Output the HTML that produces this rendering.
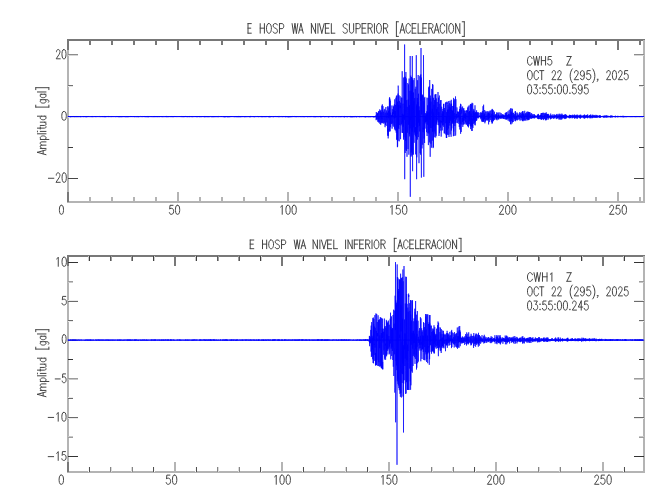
<!DOCTYPE html>
<html><head><meta charset="utf-8"><style>
html,body{margin:0;padding:0;background:#fff;width:650px;height:500px;overflow:hidden}
svg{display:block}
text{font-family:"Liberation Sans",sans-serif}
</style></head><body>
<svg width="650" height="500" viewBox="0 0 650 500">
<rect x="0" y="0" width="650" height="500" fill="#ffffff"/>
<rect x="67.00" y="39" width="578.00" height="1" fill="#787878"/>
<rect x="67.00" y="40" width="578.00" height="1" fill="#787878"/>
<rect x="67.00" y="201" width="578.00" height="1" fill="#b4b4b4"/>
<rect x="67.00" y="202" width="578.00" height="1" fill="#b4b4b4"/>
<rect x="67" y="40.00" width="1" height="162.00" fill="#b4b4b4"/>
<rect x="68" y="40.00" width="1" height="162.00" fill="#b4b4b4"/>
<rect x="643" y="40.00" width="1" height="162.00" fill="#b4b4b4"/>
<rect x="644" y="40.00" width="1" height="162.00" fill="#b4b4b4"/>
<rect x="67" y="40.00" width="1" height="10.00" fill="#787878"/>
<rect x="68" y="40.00" width="1" height="10.00" fill="#787878"/>
<rect x="67" y="192.00" width="1" height="10.00" fill="#787878"/>
<rect x="68" y="192.00" width="1" height="10.00" fill="#787878"/>
<rect x="89" y="40.00" width="1" height="5.00" fill="#787878"/>
<rect x="90" y="40.00" width="1" height="5.00" fill="#787878"/>
<rect x="89" y="197.00" width="1" height="5.00" fill="#b4b4b4"/>
<rect x="90" y="197.00" width="1" height="5.00" fill="#b4b4b4"/>
<rect x="111" y="40.00" width="1" height="5.00" fill="#787878"/>
<rect x="112" y="40.00" width="1" height="5.00" fill="#787878"/>
<rect x="111" y="197.00" width="1" height="5.00" fill="#b4b4b4"/>
<rect x="112" y="197.00" width="1" height="5.00" fill="#b4b4b4"/>
<rect x="133" y="40.00" width="1" height="5.00" fill="#787878"/>
<rect x="134" y="40.00" width="1" height="5.00" fill="#787878"/>
<rect x="133" y="197.00" width="1" height="5.00" fill="#b4b4b4"/>
<rect x="134" y="197.00" width="1" height="5.00" fill="#b4b4b4"/>
<rect x="155" y="40.00" width="1" height="5.00" fill="#787878"/>
<rect x="156" y="40.00" width="1" height="5.00" fill="#787878"/>
<rect x="155" y="197.00" width="1" height="5.00" fill="#b4b4b4"/>
<rect x="156" y="197.00" width="1" height="5.00" fill="#b4b4b4"/>
<rect x="177" y="40.00" width="1" height="10.00" fill="#787878"/>
<rect x="178" y="40.00" width="1" height="10.00" fill="#787878"/>
<rect x="177" y="192.00" width="1" height="10.00" fill="#b4b4b4"/>
<rect x="178" y="192.00" width="1" height="10.00" fill="#b4b4b4"/>
<rect x="199" y="40.00" width="1" height="5.00" fill="#787878"/>
<rect x="200" y="40.00" width="1" height="5.00" fill="#787878"/>
<rect x="199" y="197.00" width="1" height="5.00" fill="#b4b4b4"/>
<rect x="200" y="197.00" width="1" height="5.00" fill="#b4b4b4"/>
<rect x="221" y="40.00" width="1" height="5.00" fill="#787878"/>
<rect x="222" y="40.00" width="1" height="5.00" fill="#787878"/>
<rect x="221" y="197.00" width="1" height="5.00" fill="#b4b4b4"/>
<rect x="222" y="197.00" width="1" height="5.00" fill="#b4b4b4"/>
<rect x="243" y="40.00" width="1" height="5.00" fill="#787878"/>
<rect x="244" y="40.00" width="1" height="5.00" fill="#787878"/>
<rect x="243" y="197.00" width="1" height="5.00" fill="#b4b4b4"/>
<rect x="244" y="197.00" width="1" height="5.00" fill="#b4b4b4"/>
<rect x="265" y="40.00" width="1" height="5.00" fill="#787878"/>
<rect x="266" y="40.00" width="1" height="5.00" fill="#787878"/>
<rect x="265" y="197.00" width="1" height="5.00" fill="#b4b4b4"/>
<rect x="266" y="197.00" width="1" height="5.00" fill="#b4b4b4"/>
<rect x="287" y="40.00" width="1" height="10.00" fill="#787878"/>
<rect x="288" y="40.00" width="1" height="10.00" fill="#787878"/>
<rect x="287" y="192.00" width="1" height="10.00" fill="#b4b4b4"/>
<rect x="288" y="192.00" width="1" height="10.00" fill="#b4b4b4"/>
<rect x="309" y="40.00" width="1" height="5.00" fill="#787878"/>
<rect x="310" y="40.00" width="1" height="5.00" fill="#787878"/>
<rect x="309" y="197.00" width="1" height="5.00" fill="#b4b4b4"/>
<rect x="310" y="197.00" width="1" height="5.00" fill="#b4b4b4"/>
<rect x="331" y="40.00" width="1" height="5.00" fill="#787878"/>
<rect x="332" y="40.00" width="1" height="5.00" fill="#787878"/>
<rect x="331" y="197.00" width="1" height="5.00" fill="#b4b4b4"/>
<rect x="332" y="197.00" width="1" height="5.00" fill="#b4b4b4"/>
<rect x="353" y="40.00" width="1" height="5.00" fill="#787878"/>
<rect x="354" y="40.00" width="1" height="5.00" fill="#787878"/>
<rect x="353" y="197.00" width="1" height="5.00" fill="#b4b4b4"/>
<rect x="354" y="197.00" width="1" height="5.00" fill="#b4b4b4"/>
<rect x="375" y="40.00" width="1" height="5.00" fill="#787878"/>
<rect x="376" y="40.00" width="1" height="5.00" fill="#787878"/>
<rect x="375" y="197.00" width="1" height="5.00" fill="#b4b4b4"/>
<rect x="376" y="197.00" width="1" height="5.00" fill="#b4b4b4"/>
<rect x="397" y="40.00" width="1" height="10.00" fill="#787878"/>
<rect x="398" y="40.00" width="1" height="10.00" fill="#787878"/>
<rect x="397" y="192.00" width="1" height="10.00" fill="#b4b4b4"/>
<rect x="398" y="192.00" width="1" height="10.00" fill="#b4b4b4"/>
<rect x="419" y="40.00" width="1" height="5.00" fill="#787878"/>
<rect x="420" y="40.00" width="1" height="5.00" fill="#787878"/>
<rect x="419" y="197.00" width="1" height="5.00" fill="#b4b4b4"/>
<rect x="420" y="197.00" width="1" height="5.00" fill="#b4b4b4"/>
<rect x="441" y="40.00" width="1" height="5.00" fill="#787878"/>
<rect x="442" y="40.00" width="1" height="5.00" fill="#787878"/>
<rect x="441" y="197.00" width="1" height="5.00" fill="#b4b4b4"/>
<rect x="442" y="197.00" width="1" height="5.00" fill="#b4b4b4"/>
<rect x="463" y="40.00" width="1" height="5.00" fill="#787878"/>
<rect x="464" y="40.00" width="1" height="5.00" fill="#787878"/>
<rect x="463" y="197.00" width="1" height="5.00" fill="#b4b4b4"/>
<rect x="464" y="197.00" width="1" height="5.00" fill="#b4b4b4"/>
<rect x="485" y="40.00" width="1" height="5.00" fill="#787878"/>
<rect x="486" y="40.00" width="1" height="5.00" fill="#787878"/>
<rect x="485" y="197.00" width="1" height="5.00" fill="#b4b4b4"/>
<rect x="486" y="197.00" width="1" height="5.00" fill="#b4b4b4"/>
<rect x="507" y="40.00" width="1" height="10.00" fill="#787878"/>
<rect x="508" y="40.00" width="1" height="10.00" fill="#787878"/>
<rect x="507" y="192.00" width="1" height="10.00" fill="#b4b4b4"/>
<rect x="508" y="192.00" width="1" height="10.00" fill="#b4b4b4"/>
<rect x="529" y="40.00" width="1" height="5.00" fill="#787878"/>
<rect x="530" y="40.00" width="1" height="5.00" fill="#787878"/>
<rect x="529" y="197.00" width="1" height="5.00" fill="#b4b4b4"/>
<rect x="530" y="197.00" width="1" height="5.00" fill="#b4b4b4"/>
<rect x="551" y="40.00" width="1" height="5.00" fill="#787878"/>
<rect x="552" y="40.00" width="1" height="5.00" fill="#787878"/>
<rect x="551" y="197.00" width="1" height="5.00" fill="#b4b4b4"/>
<rect x="552" y="197.00" width="1" height="5.00" fill="#b4b4b4"/>
<rect x="573" y="40.00" width="1" height="5.00" fill="#787878"/>
<rect x="574" y="40.00" width="1" height="5.00" fill="#787878"/>
<rect x="573" y="197.00" width="1" height="5.00" fill="#b4b4b4"/>
<rect x="574" y="197.00" width="1" height="5.00" fill="#b4b4b4"/>
<rect x="595" y="40.00" width="1" height="5.00" fill="#787878"/>
<rect x="596" y="40.00" width="1" height="5.00" fill="#787878"/>
<rect x="595" y="197.00" width="1" height="5.00" fill="#b4b4b4"/>
<rect x="596" y="197.00" width="1" height="5.00" fill="#b4b4b4"/>
<rect x="617" y="40.00" width="1" height="10.00" fill="#787878"/>
<rect x="618" y="40.00" width="1" height="10.00" fill="#787878"/>
<rect x="617" y="192.00" width="1" height="10.00" fill="#b4b4b4"/>
<rect x="618" y="192.00" width="1" height="10.00" fill="#b4b4b4"/>
<rect x="639" y="40.00" width="1" height="5.00" fill="#787878"/>
<rect x="640" y="40.00" width="1" height="5.00" fill="#787878"/>
<rect x="639" y="197.00" width="1" height="5.00" fill="#b4b4b4"/>
<rect x="640" y="197.00" width="1" height="5.00" fill="#b4b4b4"/>
<rect x="68.00" y="54" width="10.00" height="1" fill="#8c8c8c"/>
<rect x="68.00" y="55" width="10.00" height="1" fill="#d6d6d6"/>
<rect x="634.00" y="54" width="10.00" height="1" fill="#8c8c8c"/>
<rect x="634.00" y="55" width="10.00" height="1" fill="#d6d6d6"/>
<rect x="68.00" y="116" width="10.00" height="1" fill="#585858"/>
<rect x="68.00" y="117" width="10.00" height="1" fill="#f4f4f4"/>
<rect x="634.00" y="116" width="10.00" height="1" fill="#585858"/>
<rect x="634.00" y="117" width="10.00" height="1" fill="#f4f4f4"/>
<rect x="68.00" y="178" width="10.00" height="1" fill="#474747"/>
<rect x="634.00" y="178" width="10.00" height="1" fill="#474747"/>
<rect x="68.00" y="85" width="5.00" height="1" fill="#737373"/>
<rect x="68.00" y="86" width="5.00" height="1" fill="#e6e6e6"/>
<rect x="639.00" y="85" width="5.00" height="1" fill="#737373"/>
<rect x="639.00" y="86" width="5.00" height="1" fill="#e6e6e6"/>
<rect x="68.00" y="147" width="5.00" height="1" fill="#3c3c3c"/>
<rect x="639.00" y="147" width="5.00" height="1" fill="#3c3c3c"/>
<rect x="67.00" y="255" width="578.00" height="1" fill="#787878"/>
<rect x="67.00" y="256" width="578.00" height="1" fill="#787878"/>
<rect x="67.00" y="471" width="578.00" height="1" fill="#b4b4b4"/>
<rect x="67.00" y="472" width="578.00" height="1" fill="#b4b4b4"/>
<rect x="67" y="256.00" width="1" height="216.00" fill="#b4b4b4"/>
<rect x="68" y="256.00" width="1" height="216.00" fill="#b4b4b4"/>
<rect x="643" y="256.00" width="1" height="216.00" fill="#b4b4b4"/>
<rect x="644" y="256.00" width="1" height="216.00" fill="#b4b4b4"/>
<rect x="67" y="256.00" width="1" height="10.00" fill="#787878"/>
<rect x="68" y="256.00" width="1" height="10.00" fill="#787878"/>
<rect x="67" y="462.00" width="1" height="10.00" fill="#787878"/>
<rect x="68" y="462.00" width="1" height="10.00" fill="#787878"/>
<rect x="88" y="256.00" width="1" height="5.00" fill="#cccccc"/>
<rect x="89" y="256.00" width="1" height="5.00" fill="#3f3f3f"/>
<rect x="88" y="467.00" width="1" height="5.00" fill="#f8f8f8"/>
<rect x="89" y="467.00" width="1" height="5.00" fill="#505050"/>
<rect x="110" y="256.00" width="1" height="5.00" fill="#5a5a5a"/>
<rect x="111" y="256.00" width="1" height="5.00" fill="#9c9c9c"/>
<rect x="110" y="467.00" width="1" height="5.00" fill="#858585"/>
<rect x="111" y="467.00" width="1" height="5.00" fill="#dbdbdb"/>
<rect x="131" y="256.00" width="1" height="5.00" fill="#9c9c9c"/>
<rect x="132" y="256.00" width="1" height="5.00" fill="#5a5a5a"/>
<rect x="131" y="467.00" width="1" height="5.00" fill="#dbdbdb"/>
<rect x="132" y="467.00" width="1" height="5.00" fill="#858585"/>
<rect x="153" y="256.00" width="1" height="5.00" fill="#3f3f3f"/>
<rect x="154" y="256.00" width="1" height="5.00" fill="#cccccc"/>
<rect x="153" y="467.00" width="1" height="5.00" fill="#505050"/>
<rect x="154" y="467.00" width="1" height="5.00" fill="#f8f8f8"/>
<rect x="174" y="256.00" width="1" height="10.00" fill="#787878"/>
<rect x="175" y="256.00" width="1" height="10.00" fill="#787878"/>
<rect x="174" y="462.00" width="1" height="10.00" fill="#b4b4b4"/>
<rect x="175" y="462.00" width="1" height="10.00" fill="#b4b4b4"/>
<rect x="195" y="256.00" width="1" height="5.00" fill="#cccccc"/>
<rect x="196" y="256.00" width="1" height="5.00" fill="#3f3f3f"/>
<rect x="195" y="467.00" width="1" height="5.00" fill="#f8f8f8"/>
<rect x="196" y="467.00" width="1" height="5.00" fill="#505050"/>
<rect x="217" y="256.00" width="1" height="5.00" fill="#5a5a5a"/>
<rect x="218" y="256.00" width="1" height="5.00" fill="#9c9c9c"/>
<rect x="217" y="467.00" width="1" height="5.00" fill="#858585"/>
<rect x="218" y="467.00" width="1" height="5.00" fill="#dbdbdb"/>
<rect x="238" y="256.00" width="1" height="5.00" fill="#9c9c9c"/>
<rect x="239" y="256.00" width="1" height="5.00" fill="#5a5a5a"/>
<rect x="238" y="467.00" width="1" height="5.00" fill="#dbdbdb"/>
<rect x="239" y="467.00" width="1" height="5.00" fill="#858585"/>
<rect x="260" y="256.00" width="1" height="5.00" fill="#3f3f3f"/>
<rect x="261" y="256.00" width="1" height="5.00" fill="#cccccc"/>
<rect x="260" y="467.00" width="1" height="5.00" fill="#505050"/>
<rect x="261" y="467.00" width="1" height="5.00" fill="#f8f8f8"/>
<rect x="281" y="256.00" width="1" height="10.00" fill="#787878"/>
<rect x="282" y="256.00" width="1" height="10.00" fill="#787878"/>
<rect x="281" y="462.00" width="1" height="10.00" fill="#b4b4b4"/>
<rect x="282" y="462.00" width="1" height="10.00" fill="#b4b4b4"/>
<rect x="302" y="256.00" width="1" height="5.00" fill="#cccccc"/>
<rect x="303" y="256.00" width="1" height="5.00" fill="#3f3f3f"/>
<rect x="302" y="467.00" width="1" height="5.00" fill="#f8f8f8"/>
<rect x="303" y="467.00" width="1" height="5.00" fill="#505050"/>
<rect x="324" y="256.00" width="1" height="5.00" fill="#5a5a5a"/>
<rect x="325" y="256.00" width="1" height="5.00" fill="#9c9c9c"/>
<rect x="324" y="467.00" width="1" height="5.00" fill="#858585"/>
<rect x="325" y="467.00" width="1" height="5.00" fill="#dbdbdb"/>
<rect x="345" y="256.00" width="1" height="5.00" fill="#9c9c9c"/>
<rect x="346" y="256.00" width="1" height="5.00" fill="#5a5a5a"/>
<rect x="345" y="467.00" width="1" height="5.00" fill="#dbdbdb"/>
<rect x="346" y="467.00" width="1" height="5.00" fill="#858585"/>
<rect x="367" y="256.00" width="1" height="5.00" fill="#3f3f3f"/>
<rect x="368" y="256.00" width="1" height="5.00" fill="#cccccc"/>
<rect x="367" y="467.00" width="1" height="5.00" fill="#505050"/>
<rect x="368" y="467.00" width="1" height="5.00" fill="#f8f8f8"/>
<rect x="388" y="256.00" width="1" height="10.00" fill="#787878"/>
<rect x="389" y="256.00" width="1" height="10.00" fill="#787878"/>
<rect x="388" y="462.00" width="1" height="10.00" fill="#b4b4b4"/>
<rect x="389" y="462.00" width="1" height="10.00" fill="#b4b4b4"/>
<rect x="409" y="256.00" width="1" height="5.00" fill="#cccccc"/>
<rect x="410" y="256.00" width="1" height="5.00" fill="#3f3f3f"/>
<rect x="409" y="467.00" width="1" height="5.00" fill="#f8f8f8"/>
<rect x="410" y="467.00" width="1" height="5.00" fill="#505050"/>
<rect x="431" y="256.00" width="1" height="5.00" fill="#5a5a5a"/>
<rect x="432" y="256.00" width="1" height="5.00" fill="#9c9c9c"/>
<rect x="431" y="467.00" width="1" height="5.00" fill="#858585"/>
<rect x="432" y="467.00" width="1" height="5.00" fill="#dbdbdb"/>
<rect x="452" y="256.00" width="1" height="5.00" fill="#9c9c9c"/>
<rect x="453" y="256.00" width="1" height="5.00" fill="#5a5a5a"/>
<rect x="452" y="467.00" width="1" height="5.00" fill="#dbdbdb"/>
<rect x="453" y="467.00" width="1" height="5.00" fill="#858585"/>
<rect x="474" y="256.00" width="1" height="5.00" fill="#3f3f3f"/>
<rect x="475" y="256.00" width="1" height="5.00" fill="#cccccc"/>
<rect x="474" y="467.00" width="1" height="5.00" fill="#505050"/>
<rect x="475" y="467.00" width="1" height="5.00" fill="#f8f8f8"/>
<rect x="495" y="256.00" width="1" height="10.00" fill="#787878"/>
<rect x="496" y="256.00" width="1" height="10.00" fill="#787878"/>
<rect x="495" y="462.00" width="1" height="10.00" fill="#b4b4b4"/>
<rect x="496" y="462.00" width="1" height="10.00" fill="#b4b4b4"/>
<rect x="516" y="256.00" width="1" height="5.00" fill="#cccccc"/>
<rect x="517" y="256.00" width="1" height="5.00" fill="#3f3f3f"/>
<rect x="516" y="467.00" width="1" height="5.00" fill="#f8f8f8"/>
<rect x="517" y="467.00" width="1" height="5.00" fill="#505050"/>
<rect x="538" y="256.00" width="1" height="5.00" fill="#5a5a5a"/>
<rect x="539" y="256.00" width="1" height="5.00" fill="#9c9c9c"/>
<rect x="538" y="467.00" width="1" height="5.00" fill="#858585"/>
<rect x="539" y="467.00" width="1" height="5.00" fill="#dbdbdb"/>
<rect x="559" y="256.00" width="1" height="5.00" fill="#9c9c9c"/>
<rect x="560" y="256.00" width="1" height="5.00" fill="#5a5a5a"/>
<rect x="559" y="467.00" width="1" height="5.00" fill="#dbdbdb"/>
<rect x="560" y="467.00" width="1" height="5.00" fill="#858585"/>
<rect x="581" y="256.00" width="1" height="5.00" fill="#3f3f3f"/>
<rect x="582" y="256.00" width="1" height="5.00" fill="#cccccc"/>
<rect x="581" y="467.00" width="1" height="5.00" fill="#505050"/>
<rect x="582" y="467.00" width="1" height="5.00" fill="#f8f8f8"/>
<rect x="602" y="256.00" width="1" height="10.00" fill="#787878"/>
<rect x="603" y="256.00" width="1" height="10.00" fill="#787878"/>
<rect x="602" y="462.00" width="1" height="10.00" fill="#b4b4b4"/>
<rect x="603" y="462.00" width="1" height="10.00" fill="#b4b4b4"/>
<rect x="623" y="256.00" width="1" height="5.00" fill="#cccccc"/>
<rect x="624" y="256.00" width="1" height="5.00" fill="#3f3f3f"/>
<rect x="623" y="467.00" width="1" height="5.00" fill="#f8f8f8"/>
<rect x="624" y="467.00" width="1" height="5.00" fill="#505050"/>
<rect x="68.00" y="262" width="10.00" height="1" fill="#333333"/>
<rect x="634.00" y="262" width="10.00" height="1" fill="#333333"/>
<rect x="68.00" y="300" width="10.00" height="1" fill="#ebebeb"/>
<rect x="68.00" y="301" width="10.00" height="1" fill="#6b6b6b"/>
<rect x="634.00" y="300" width="10.00" height="1" fill="#ebebeb"/>
<rect x="634.00" y="301" width="10.00" height="1" fill="#6b6b6b"/>
<rect x="68.00" y="339" width="10.00" height="1" fill="#c8c8c8"/>
<rect x="68.00" y="340" width="10.00" height="1" fill="#9d9d9d"/>
<rect x="634.00" y="339" width="10.00" height="1" fill="#c8c8c8"/>
<rect x="634.00" y="340" width="10.00" height="1" fill="#9d9d9d"/>
<rect x="68.00" y="378" width="10.00" height="1" fill="#9d9d9d"/>
<rect x="68.00" y="379" width="10.00" height="1" fill="#c8c8c8"/>
<rect x="634.00" y="378" width="10.00" height="1" fill="#9d9d9d"/>
<rect x="634.00" y="379" width="10.00" height="1" fill="#c8c8c8"/>
<rect x="68.00" y="417" width="10.00" height="1" fill="#6b6b6b"/>
<rect x="68.00" y="418" width="10.00" height="1" fill="#ebebeb"/>
<rect x="634.00" y="417" width="10.00" height="1" fill="#6b6b6b"/>
<rect x="634.00" y="418" width="10.00" height="1" fill="#ebebeb"/>
<rect x="68.00" y="456" width="10.00" height="1" fill="#333333"/>
<rect x="634.00" y="456" width="10.00" height="1" fill="#333333"/>
<rect x="68.00" y="281" width="5.00" height="1" fill="#9d9d9d"/>
<rect x="68.00" y="282" width="5.00" height="1" fill="#c8c8c8"/>
<rect x="639.00" y="281" width="5.00" height="1" fill="#9d9d9d"/>
<rect x="639.00" y="282" width="5.00" height="1" fill="#c8c8c8"/>
<rect x="68.00" y="320" width="5.00" height="1" fill="#6b6b6b"/>
<rect x="68.00" y="321" width="5.00" height="1" fill="#ebebeb"/>
<rect x="639.00" y="320" width="5.00" height="1" fill="#6b6b6b"/>
<rect x="639.00" y="321" width="5.00" height="1" fill="#ebebeb"/>
<rect x="68.00" y="359" width="5.00" height="1" fill="#333333"/>
<rect x="639.00" y="359" width="5.00" height="1" fill="#333333"/>
<rect x="68.00" y="397" width="5.00" height="1" fill="#ebebeb"/>
<rect x="68.00" y="398" width="5.00" height="1" fill="#6b6b6b"/>
<rect x="639.00" y="397" width="5.00" height="1" fill="#ebebeb"/>
<rect x="639.00" y="398" width="5.00" height="1" fill="#6b6b6b"/>
<rect x="68.00" y="436" width="5.00" height="1" fill="#c8c8c8"/>
<rect x="68.00" y="437" width="5.00" height="1" fill="#9d9d9d"/>
<rect x="639.00" y="436" width="5.00" height="1" fill="#c8c8c8"/>
<rect x="639.00" y="437" width="5.00" height="1" fill="#9d9d9d"/>
<line x1="68" y1="116.63" x2="643.5" y2="116.63" stroke="#0000ff" stroke-width="0.9"/><polyline points="68.0,116.3 68.1,116.4 68.2,116.7 68.3,117.0 68.4,116.5 68.5,116.5 68.6,116.8 68.7,116.6 68.8,116.5 68.9,116.6 69.0,116.6 69.1,116.5 69.2,116.7 69.3,116.8 69.4,116.7 69.5,116.4 69.6,116.5 69.7,116.7 69.8,116.8 69.9,116.7 70.0,116.7 70.1,116.7 70.2,116.2 70.3,116.3 70.4,117.1 70.5,117.1 70.6,116.5 70.7,116.5 70.8,116.7 70.9,116.4 71.0,116.3 71.1,117.1 71.2,117.0 71.3,116.2 71.4,116.3 71.5,116.5 71.6,116.9 71.7,117.0 71.8,116.5 71.9,116.4 72.0,116.9 72.1,116.7 72.2,116.6 72.3,116.7 72.4,116.6 72.5,116.5 72.6,116.7 72.7,116.8 72.8,116.5 72.9,116.3 73.0,116.7 73.1,116.9 73.2,116.6 73.3,116.5 73.4,116.6 73.5,116.7 73.6,116.4 73.7,116.5 73.8,117.0 73.9,116.8 74.0,116.4 74.1,116.4 74.2,116.9 74.3,116.9 74.4,116.6 74.5,116.6 74.6,116.4 74.7,116.6 74.8,117.1 74.9,116.6 75.0,116.2 75.1,116.7 75.2,117.0 75.3,116.6 75.4,116.4 75.5,116.4 75.6,116.7 75.7,117.0 75.8,116.8 75.9,116.5 76.0,116.3 76.1,116.5 76.2,117.1 76.3,117.0 76.4,116.3 76.5,116.3 76.6,116.9 76.7,116.8 76.8,116.6 76.9,116.5 77.0,116.5 77.1,116.6 77.2,116.8 77.3,116.5 77.4,116.5 77.5,117.0 77.6,116.7 77.7,116.5 77.8,116.8 77.9,116.7 78.0,116.6 78.1,116.6 78.2,116.7 78.3,116.6 78.4,116.2 78.5,116.5 78.6,117.1 78.7,117.0 78.8,116.2 78.9,116.5 79.0,116.9 79.1,116.8 79.2,116.6 79.3,116.4 79.4,116.5 79.5,116.7 79.6,116.7 79.7,116.7 79.8,116.9 79.9,116.3 80.0,116.2 80.1,117.1 80.2,117.1 80.3,116.3 80.4,116.2 80.5,116.9 80.6,117.1 80.7,116.5 80.8,116.6 80.9,116.8 81.0,116.6 81.1,116.5 81.2,116.6 81.3,116.6 81.4,116.6 81.5,116.8 81.6,116.7 81.7,116.6 81.8,116.6 81.9,116.9 82.0,116.8 82.1,116.3 82.2,116.5 82.3,116.7 82.4,116.6 82.5,116.7 82.6,116.7 82.7,116.4 82.8,116.6 82.9,116.8 83.0,116.4 83.1,116.5 83.2,117.0 83.3,117.0 83.4,116.5 83.5,116.2 83.6,116.6 83.7,116.9 83.8,117.1 83.9,116.6 84.0,116.2 84.1,116.6 84.2,116.9 84.3,116.7 84.4,116.6 84.5,116.4 84.6,116.2 84.7,116.6 84.8,117.0 84.9,116.8 85.0,116.6 85.1,116.6 85.2,116.5 85.3,116.7 85.4,116.9 85.5,116.4 85.6,116.7 85.7,117.1 85.8,116.5 85.9,116.2 86.0,116.5 86.1,117.1 86.2,116.9 86.3,116.2 86.4,116.3 86.5,117.1 86.6,116.8 86.7,116.6 86.8,116.8 86.9,116.8 87.0,116.6 87.1,116.2 87.2,116.4 87.3,117.1 87.4,117.0 87.5,116.7 87.6,116.4 87.7,116.3 87.8,116.9 87.9,117.0 88.0,116.2 88.1,116.2 88.2,116.9 88.3,116.8 88.4,116.6 88.5,116.9 88.6,116.7 88.7,116.3 88.8,116.7 88.9,116.8 89.0,116.5 89.1,116.6 89.2,116.7 89.3,116.6 89.4,116.6 89.5,116.8 89.6,116.7 89.7,116.6 89.8,116.6 89.9,116.7 90.0,116.6 90.1,116.5 90.2,116.6 90.3,116.7 90.4,116.7 90.5,116.8 90.6,116.7 90.7,116.5 90.8,116.8 90.9,116.9 91.0,116.4 91.1,116.3 91.2,116.8 91.3,117.1 91.4,116.5 91.5,116.5 91.6,116.8 91.7,116.5 91.8,116.7 91.9,116.9 92.0,116.6 92.1,116.4 92.2,116.8 92.3,116.8 92.4,116.2 92.5,116.6 92.6,117.1 92.7,116.6 92.8,116.5 92.9,116.6 93.0,116.7 93.1,116.6 93.2,116.6 93.3,116.7 93.4,116.5 93.5,116.7 93.6,116.9 93.7,116.6 93.8,116.4 93.9,116.7 94.0,116.7 94.1,116.5 94.2,116.9 94.3,116.8 94.4,116.5 94.5,116.8 94.6,116.7 94.7,116.4 94.8,116.4 94.9,116.8 95.0,116.7 95.1,116.9 95.2,116.8 95.3,116.2 95.4,116.6 95.5,117.0 95.6,116.3 95.7,116.6 95.8,117.1 95.9,116.5 96.0,116.3 96.1,116.7 96.2,116.7 96.3,116.6 96.4,116.8 96.5,116.5 96.6,116.4 96.7,116.8 96.8,116.9 96.9,116.8 97.0,116.7 97.1,116.5 97.2,116.5 97.3,116.5 97.4,116.5 97.5,116.8 97.6,117.0 97.7,116.4 97.8,116.2 97.9,116.7 98.0,116.9 98.1,116.6 98.2,116.7 98.3,116.8 98.4,116.7 98.5,116.6 98.6,116.4 98.7,116.6 98.8,116.7 98.9,116.6 99.0,116.6 99.1,116.4 99.2,116.7 99.3,116.9 99.4,116.6 99.5,116.5 99.6,116.7 99.7,116.9 99.8,116.8 99.9,116.3 100.0,116.4 100.1,116.9 100.2,116.9 100.3,116.5 100.4,116.5 100.5,116.8 100.6,116.8 100.7,116.7 100.8,116.7 100.9,116.4 101.0,116.3 101.1,116.5 101.2,116.8 101.3,116.9 101.4,116.7 101.5,116.6 101.6,116.3 101.7,116.4 101.8,117.0 101.9,116.9 102.0,116.5 102.1,116.5 102.2,116.9 102.3,116.9 102.4,116.5 102.5,116.3 102.6,116.6 102.7,117.0 102.8,116.7 102.9,116.2 103.0,116.7 103.1,117.1 103.2,116.6 103.3,116.3 103.4,116.5 103.5,116.6 103.6,116.6 103.7,116.8 103.8,116.7 103.9,116.7 104.0,116.4 104.1,116.4 104.2,116.8 104.3,116.9 104.4,116.6 104.5,116.2 104.6,116.5 104.7,117.1 104.8,116.8 104.9,116.2 105.0,116.2 105.1,117.1 105.2,116.8 105.3,116.2 105.4,116.9 105.5,117.1 105.6,116.4 105.7,116.3 105.8,116.8 105.9,116.8 106.0,116.5 106.1,116.4 106.2,116.5 106.3,116.6 106.4,116.9 106.5,116.9 106.6,116.6 106.7,116.3 106.8,116.6 106.9,116.9 107.0,116.6 107.1,116.4 107.2,116.6 107.3,116.6 107.4,116.8 107.5,117.0 107.6,116.6 107.7,116.5 107.8,116.6 107.9,116.5 108.0,116.9 108.1,117.0 108.2,116.4 108.3,116.3 108.4,116.9 108.5,116.8 108.6,116.4 108.7,116.3 108.8,116.3 108.9,117.0 109.0,117.1 109.1,116.4 109.2,116.5 109.3,116.9 109.4,116.8 109.5,116.3 109.6,116.4 109.7,116.8 109.8,116.6 109.9,116.5 110.0,116.7 110.1,116.7 110.2,116.7 110.3,116.5 110.4,116.6 110.5,116.7 110.6,116.5 110.7,116.8 110.8,116.8 110.9,116.4 111.0,116.5 111.1,116.7 111.2,116.4 111.3,116.5 111.4,116.9 111.5,116.8 111.6,116.4 111.7,116.4 111.8,116.9 111.9,116.9 112.0,116.8 112.1,116.8 112.2,116.4 112.3,116.2 112.4,116.4 112.5,116.7 112.6,117.0 112.7,116.9 112.8,116.4 112.9,116.2 113.0,116.5 113.1,116.8 113.2,116.7 113.3,116.7 113.4,116.9 113.5,116.8 113.6,116.5 113.7,116.4 113.8,116.7 113.9,116.5 114.0,116.5 114.1,116.7 114.2,116.4 114.3,116.5 114.4,116.8 114.5,116.7 114.6,116.6 114.7,116.7 114.8,116.7 114.9,116.5 115.0,116.5 115.1,116.7 115.2,116.8 115.3,116.9 115.4,116.6 115.5,116.4 115.6,116.6 115.7,116.6 115.8,116.5 115.9,116.9 116.0,116.8 116.1,116.6 116.2,116.6 116.3,116.5 116.4,116.3 116.5,116.7 116.6,116.6 116.7,116.3 116.8,116.6 116.9,117.0 117.0,117.0 117.1,116.5 117.2,116.3 117.3,116.5 117.4,116.7 117.5,116.5 117.6,116.6 117.7,117.0 117.8,116.6 117.9,116.7 118.0,116.7 118.1,116.2 118.2,116.7 118.3,117.1 118.4,116.7 118.5,116.4 118.6,116.7 118.7,116.6 118.8,116.3 118.9,116.6 119.0,117.1 119.1,116.6 119.2,116.2 119.3,116.8 119.4,117.1 119.5,116.6 119.6,116.4 119.7,116.4 119.8,116.7 119.9,116.9 120.0,116.4 120.1,116.7 120.2,117.1 120.3,116.3 120.4,116.2 120.5,117.0 120.6,116.7 120.7,116.2 120.8,116.8 120.9,117.1 121.0,116.8 121.1,116.6 121.2,116.6 121.3,116.3 121.4,116.6 121.5,117.1 121.6,116.7 121.7,116.2 121.8,116.3 121.9,116.7 122.0,116.6 122.1,116.6 122.2,116.8 122.3,116.7 122.4,116.5 122.5,116.3 122.6,116.6 122.7,117.1 122.8,116.6 122.9,116.2 123.0,116.7 123.1,116.8 123.2,116.9 123.3,117.0 123.4,116.4 123.5,116.2 123.6,116.5 123.7,116.7 123.8,116.7 123.9,116.7 124.0,116.9 124.1,116.5 124.2,116.2 124.3,116.5 124.4,116.9 124.5,117.0 124.6,116.5 124.7,116.2 124.8,116.7 124.9,117.1 125.0,116.7 125.1,116.2 125.2,116.4 125.3,116.4 125.4,116.6 125.5,117.1 125.6,117.1 125.7,116.8 125.8,116.5 125.9,116.4 126.0,116.6 126.1,116.6 126.2,116.5 126.3,116.7 126.4,116.7 126.5,116.2 126.6,116.7 126.7,117.1 126.8,116.6 126.9,116.4 127.0,117.1 127.1,116.6 127.2,116.3 127.3,116.8 127.4,117.0 127.5,116.8 127.6,116.5 127.7,116.2 127.8,116.4 127.9,117.1 128.0,117.1 128.1,116.3 128.2,116.2 128.3,116.7 128.4,116.7 128.5,116.2 128.6,116.4 128.7,117.0 128.8,117.1 128.9,116.5 129.0,116.2 129.1,116.6 129.2,117.0 129.3,116.9 129.4,116.6 129.5,116.4 129.6,116.7 129.7,116.6 129.8,116.6 129.9,116.6 130.0,116.3 130.1,116.4 130.2,116.8 130.3,117.0 130.4,116.8 130.5,116.8 130.6,116.7 130.7,116.2 130.8,116.2 130.9,117.0 131.0,116.7 131.1,116.3 131.2,117.0 131.3,116.8 131.4,116.3 131.5,116.7 131.6,116.9 131.7,116.7 131.8,116.5 131.9,116.6 132.0,116.6 132.1,116.6 132.2,116.5 132.3,116.3 132.4,116.6 132.5,116.9 132.6,117.0 132.7,117.0 132.8,116.6 132.9,116.2 133.0,116.4 133.1,116.8 133.2,116.9 133.3,116.6 133.4,116.5 133.5,116.7 133.6,117.0 133.7,116.5 133.8,116.3 133.9,116.8 134.0,117.0 134.1,116.8 134.2,116.4 134.3,116.7 134.4,117.1 134.5,116.6 134.6,116.2 134.7,116.4 134.8,116.4 134.9,116.8 135.0,117.1 135.1,116.5 135.2,116.6 135.3,116.9 135.4,116.5 135.5,116.5 135.6,116.7 135.7,116.6 135.8,116.6 135.9,116.6 136.0,116.6 136.1,116.8 136.2,116.8 136.3,116.5 136.4,116.3 136.5,116.5 136.6,116.9 136.7,116.6 136.8,116.4 136.9,117.1 137.0,117.1 137.1,116.3 137.2,116.3 137.3,116.6 137.4,116.6 137.5,116.5 137.6,116.6 137.7,117.0 137.8,117.0 137.9,116.5 138.0,116.2 138.1,116.6 138.2,117.1 138.3,117.1 138.4,116.4 138.5,116.2 138.6,116.5 138.7,117.1 138.8,117.0 138.9,116.4 139.0,116.7 139.1,116.4 139.2,116.2 139.3,116.7 139.4,116.8 139.5,116.7 139.6,116.8 139.7,116.7 139.8,116.6 139.9,116.6 140.0,116.4 140.1,116.4 140.2,116.6 140.3,116.5 140.4,116.7 140.5,116.9 140.6,116.9 140.7,116.8 140.8,116.5 140.9,116.3 141.0,116.4 141.1,116.6 141.2,116.6 141.3,116.9 141.4,116.9 141.5,116.4 141.6,116.5 141.7,116.7 141.8,116.6 141.9,116.8 142.0,116.7 142.1,116.5 142.2,116.8 142.3,116.9 142.4,116.5 142.5,116.3 142.6,116.3 142.7,116.6 142.8,116.9 142.9,116.9 143.0,116.9 143.1,116.5 143.2,116.2 143.3,116.5 143.4,116.9 143.5,116.6 143.6,116.6 143.7,116.9 143.8,116.6 143.9,116.4 144.0,116.7 144.1,116.7 144.2,116.5 144.3,116.8 144.4,116.9 144.5,116.6 144.6,116.2 144.7,116.2 144.8,117.0 144.9,117.1 145.0,116.3 145.1,116.1 145.2,116.8 145.3,116.9 145.4,116.6 145.5,116.6 145.6,116.7 145.7,116.7 145.8,116.8 145.9,117.0 146.0,116.6 146.1,116.2 146.2,116.5 146.3,116.5 146.4,116.7 146.5,117.1 146.6,117.0 146.7,116.5 146.8,116.3 146.9,116.4 147.0,116.9 147.1,117.1 147.2,116.7 147.3,116.1 147.4,116.1 147.5,116.8 147.6,117.1 147.7,117.0 147.8,116.2 147.9,116.4 148.0,116.6 148.1,116.6 148.2,117.1 148.3,117.1 148.4,116.2 148.5,116.2 148.6,116.8 148.7,117.1 148.8,116.4 148.9,116.1 149.0,116.8 149.1,116.9 149.2,116.6 149.3,116.5 149.4,116.5 149.5,116.7 149.6,116.8 149.7,116.6 149.8,116.7 149.9,116.7 150.0,116.5 150.1,116.5 150.2,116.9 150.3,116.7 150.4,116.4 150.5,116.7 150.6,116.8 150.7,116.5 150.8,116.5 150.9,116.5 151.0,116.8 151.1,117.1 151.2,116.6 151.3,116.1 151.4,116.5 151.5,117.0 151.6,116.7 151.7,116.6 151.8,116.6 151.9,116.7 152.0,116.8 152.1,116.5 152.2,116.6 152.3,116.7 152.4,116.6 152.5,116.2 152.6,116.4 152.7,116.8 152.8,116.9 152.9,117.1 153.0,116.9 153.1,116.4 153.2,116.2 153.3,116.4 153.4,116.8 153.5,116.9 153.6,116.7 153.7,116.4 153.8,116.7 153.9,116.7 154.0,116.1 154.1,116.6 154.2,117.1 154.3,116.6 154.4,116.3 154.5,116.7 154.6,116.8 154.7,116.6 154.8,116.6 154.9,116.2 155.0,116.2 155.1,117.0 155.2,117.1 155.3,116.8 155.4,116.5 155.5,116.4 155.6,116.7 155.7,116.9 155.8,116.4 155.9,116.3 156.0,116.9 156.1,116.8 156.2,116.5 156.3,116.8 156.4,116.8 156.5,116.3 156.6,116.2 156.7,116.9 156.8,116.9 156.9,116.2 157.0,116.4 157.1,117.0 157.2,117.1 157.3,116.7 157.4,116.1 157.5,116.3 157.6,117.0 157.7,117.0 157.8,116.5 157.9,116.7 158.0,116.8 158.1,116.6 158.2,116.7 158.3,116.3 158.4,116.3 158.5,116.9 158.6,116.9 158.7,116.9 158.8,116.5 158.9,116.5 159.0,116.7 159.1,116.3 159.2,116.6 159.3,117.1 159.4,116.6 159.5,116.3 159.6,116.7 159.7,117.0 159.8,116.8 159.9,116.4 160.0,116.5 160.1,116.6 160.2,116.5 160.3,117.0 160.4,116.8 160.5,116.3 160.6,116.5 160.7,116.4 160.8,116.6 160.9,116.9 161.0,116.7 161.1,116.5 161.2,116.6 161.3,116.7 161.4,116.9 161.5,117.0 161.6,116.6 161.7,116.2 161.8,116.6 161.9,117.0 162.0,116.4 162.1,116.5 162.2,117.1 162.3,116.7 162.4,116.4 162.5,116.6 162.6,116.6 162.7,116.4 162.8,116.2 162.9,116.7 163.0,117.1 163.1,116.8 163.2,116.5 163.3,116.6 163.4,116.6 163.5,116.6 163.6,116.5 163.7,116.4 163.8,116.7 163.9,116.6 164.0,116.7 164.1,116.8 164.2,116.6 164.3,116.5 164.4,116.5 164.5,116.7 164.6,116.7 164.7,116.7 164.8,116.6 164.9,116.7 165.0,116.7 165.1,116.4 165.2,116.9 165.3,117.0 165.4,116.4 165.5,116.3 165.6,116.7 165.7,116.5 165.8,116.1 165.9,116.8 166.0,117.1 166.1,116.8 166.2,116.5 166.3,116.5 166.4,116.4 166.5,116.3 166.6,116.7 166.7,117.1 166.8,116.9 166.9,116.1 167.0,116.2 167.1,116.7 167.2,116.8 167.3,116.7 167.4,116.4 167.5,116.7 167.6,117.1 167.7,116.7 167.8,116.5 167.9,116.6 168.0,116.6 168.1,116.5 168.2,116.3 168.3,116.6 168.4,117.1 168.5,116.8 168.6,116.1 168.7,116.7 168.8,116.8 168.9,116.5 169.0,116.5 169.1,116.4 169.2,116.7 169.3,117.0 169.4,116.9 169.5,116.8 169.6,116.5 169.7,116.5 169.8,116.8 169.9,116.7 170.0,116.1 170.1,116.5 170.2,116.8 170.3,116.5 170.4,116.7 170.5,116.9 170.6,116.7 170.7,116.4 170.8,116.3 170.9,116.5 171.0,117.1 171.1,116.8 171.2,116.2 171.3,116.6 171.4,116.8 171.5,116.3 171.6,116.3 171.7,117.0 171.8,116.9 171.9,116.4 172.0,116.6 172.1,116.8 172.2,116.8 172.3,117.1 172.4,116.6 172.5,116.1 172.6,116.6 172.7,116.8 172.8,116.4 172.9,116.6 173.0,116.9 173.1,116.9 173.2,116.7 173.3,116.2 173.4,116.4 173.5,117.1 173.6,116.9 173.7,116.2 173.8,116.3 173.9,116.7 174.0,116.8 174.1,116.6 174.2,117.0 174.3,116.9 174.4,116.2 174.5,116.2 174.6,116.5 174.7,116.7 174.8,117.0 174.9,116.8 175.0,116.3 175.1,116.4 175.2,116.9 175.3,117.0 175.4,116.5 175.5,116.3 175.6,117.0 175.7,116.8 175.8,116.2 175.9,116.3 176.0,116.8 176.1,117.0 176.2,116.9 176.3,116.5 176.4,116.4 176.5,116.5 176.6,116.4 176.7,116.9 176.8,116.8 176.9,116.3 177.0,116.6 177.1,116.9 177.2,116.5 177.3,116.5 177.4,116.9 177.5,116.8 177.6,116.6 177.7,116.5 177.8,116.5 177.9,116.7 178.0,116.9 178.1,116.6 178.2,116.5 178.3,116.5 178.4,116.5 178.5,116.6 178.6,116.5 178.7,116.8 178.8,117.0 178.9,116.5 179.0,116.1 179.1,116.6 179.2,116.8 179.3,116.4 179.4,116.7 179.5,117.0 179.6,116.7 179.7,116.4 179.8,116.5 179.9,116.8 180.0,116.7 180.1,116.4 180.2,116.5 180.3,116.8 180.4,116.8 180.5,116.5 180.6,116.4 180.7,116.6 180.8,116.6 180.9,116.8 181.0,116.9 181.1,116.6 181.2,116.4 181.3,116.6 181.4,116.7 181.5,116.4 181.6,116.2 181.7,116.8 181.8,117.1 181.9,116.5 182.0,116.6 182.1,116.9 182.2,116.6 182.3,116.4 182.4,116.6 182.5,116.8 182.6,116.8 182.7,116.4 182.8,116.3 182.9,116.8 183.0,116.6 183.1,116.5 183.2,117.1 183.3,116.9 183.4,116.1 183.5,116.6 183.6,116.7 183.7,116.5 183.8,116.8 183.9,117.1 184.0,116.6 184.1,116.4 184.2,116.8 184.3,116.8 184.4,116.3 184.5,116.4 184.6,116.8 184.7,116.5 184.8,116.3 184.9,117.0 185.0,116.9 185.1,116.3 185.2,116.8 185.3,117.0 185.4,116.2 185.5,116.2 185.6,116.9 185.7,117.0 185.8,116.8 185.9,116.1 186.0,116.1 186.1,116.7 186.2,116.8 186.3,117.0 186.4,117.0 186.5,116.5 186.6,116.1 186.7,116.4 186.8,116.9 186.9,116.9 187.0,116.7 187.1,116.6 187.2,116.8 187.3,116.5 187.4,116.1 187.5,116.3 187.6,117.1 187.7,117.1 187.8,116.6 187.9,116.2 188.0,116.6 188.1,116.7 188.2,116.6 188.3,116.9 188.4,116.9 188.5,116.4 188.6,116.6 188.7,116.7 188.8,116.5 188.9,116.7 189.0,116.9 189.1,116.7 189.2,116.3 189.3,116.5 189.4,117.1 189.5,116.9 189.6,116.2 189.7,116.2 189.8,116.9 189.9,116.9 190.0,116.7 190.1,116.6 190.2,116.5 190.3,116.3 190.4,116.5 190.5,116.9 190.6,116.9 190.7,116.8 190.8,116.5 190.9,116.1 191.0,116.3 191.1,116.9 191.2,116.7 191.3,117.0 191.4,117.0 191.5,116.3 191.6,116.5 191.7,116.7 191.8,116.3 191.9,116.8 192.0,117.1 192.1,116.4 192.2,116.4 192.3,116.7 192.4,116.7 192.5,116.5 192.6,116.4 192.7,116.6 192.8,117.1 192.9,116.9 193.0,116.5 193.1,116.7 193.2,116.5 193.3,116.4 193.4,116.9 193.5,116.8 193.6,116.4 193.7,116.5 193.8,116.5 193.9,116.3 194.0,116.5 194.1,116.8 194.2,117.0 194.3,116.9 194.4,116.4 194.5,116.4 194.6,116.6 194.7,116.7 194.8,116.7 194.9,116.5 195.0,116.5 195.1,116.8 195.2,116.9 195.3,116.4 195.4,116.2 195.5,117.0 195.6,116.9 195.7,116.2 195.8,116.6 195.9,116.6 196.0,116.3 196.1,116.9 196.2,116.9 196.3,116.3 196.4,117.0 196.5,117.1 196.6,116.4 196.7,116.1 196.8,116.5 196.9,116.8 197.0,116.9 197.1,116.9 197.2,116.3 197.3,116.1 197.4,116.8 197.5,117.1 197.6,116.7 197.7,116.1 197.8,116.3 197.9,116.6 198.0,116.9 198.1,116.8 198.2,116.5 198.3,116.5 198.4,116.8 198.5,116.6 198.6,116.3 198.7,116.8 198.8,117.0 198.9,116.8 199.0,116.5 199.1,116.2 199.2,116.3 199.3,116.9 199.4,117.1 199.5,116.3 199.6,116.3 199.7,116.8 199.8,116.8 199.9,116.7 200.0,116.4 200.1,116.2 200.2,116.8 200.3,117.1 200.4,116.7 200.5,116.2 200.6,116.5 200.7,116.8 200.8,116.6 200.9,116.5 201.0,116.5 201.1,116.4 201.2,116.9 201.3,116.8 201.4,116.7 201.5,117.1 201.6,116.9 201.7,116.1 201.8,116.3 201.9,116.6 202.0,116.4 202.1,116.6 202.2,116.9 202.3,116.7 202.4,116.4 202.5,116.6 202.6,116.9 202.7,116.6 202.8,116.3 202.9,116.5 203.0,117.0 203.1,116.9 203.2,116.4 203.3,116.6 203.4,116.9 203.5,116.4 203.6,116.5 203.7,116.9 203.8,116.7 203.9,116.7 204.0,116.5 204.1,116.1 204.2,116.5 204.3,117.1 204.4,116.9 204.5,116.3 204.6,116.4 204.7,117.1 204.8,117.0 204.9,116.1 205.0,116.1 205.1,117.1 205.2,117.0 205.3,116.5 205.4,116.4 205.5,116.3 205.6,116.5 205.7,116.9 205.8,117.1 205.9,116.9 206.0,116.2 206.1,116.3 206.2,116.7 206.3,116.8 206.4,117.0 206.5,116.6 206.6,116.1 206.7,116.5 206.8,116.9 206.9,116.3 207.0,116.5 207.1,117.1 207.2,117.0 207.3,116.5 207.4,116.3 207.5,116.8 207.6,117.1 207.7,116.5 207.8,116.1 207.9,116.7 208.0,117.0 208.1,116.3 208.2,116.2 208.3,116.8 208.4,116.7 208.5,116.9 208.6,117.1 208.7,116.3 208.8,116.1 208.9,116.9 209.0,117.1 209.1,116.4 209.2,116.5 209.3,116.8 209.4,116.6 209.5,116.6 209.6,116.7 209.7,116.7 209.8,116.4 209.9,116.3 210.0,116.7 210.1,117.0 210.2,116.9 210.3,116.5 210.4,116.6 210.5,116.7 210.6,116.5 210.7,116.3 210.8,116.4 210.9,116.6 211.0,116.9 211.1,116.9 211.2,116.7 211.3,116.6 211.4,116.5 211.5,116.5 211.6,116.7 211.7,117.1 211.8,116.9 211.9,116.3 212.0,116.6 212.1,117.1 212.2,116.7 212.3,116.1 212.4,116.3 212.5,116.8 212.6,117.0 212.7,117.0 212.8,116.3 212.9,116.1 213.0,116.9 213.1,117.1 213.2,116.3 213.3,116.4 213.4,117.1 213.5,116.8 213.6,116.1 213.7,116.4 213.8,116.8 213.9,116.5 214.0,116.4 214.1,116.9 214.2,116.9 214.3,116.5 214.4,116.4 214.5,116.8 214.6,117.1 214.7,116.5 214.8,116.3 214.9,116.8 215.0,116.5 215.1,116.2 215.2,116.7 215.3,117.0 215.4,116.7 215.5,116.7 215.6,116.6 215.7,116.4 215.8,116.6 215.9,117.1 216.0,116.9 216.1,116.2 216.2,116.4 216.3,116.8 216.4,116.8 216.5,116.6 216.6,116.3 216.7,116.4 216.8,116.7 216.9,116.9 217.0,117.0 217.1,116.6 217.2,116.1 217.3,116.6 217.4,117.1 217.5,116.9 217.6,116.5 217.7,116.5 217.8,116.8 217.9,116.7 218.0,116.7 218.1,116.6 218.2,116.2 218.3,116.1 218.4,116.5 218.5,117.1 218.6,117.1 218.7,116.5 218.8,116.1 218.9,116.4 219.0,116.7 219.1,116.8 219.2,116.6 219.3,116.6 219.4,116.8 219.5,116.5 219.6,116.5 219.7,116.8 219.8,116.5 219.9,116.2 220.0,116.6 220.1,116.8 220.2,116.8 220.3,116.7 220.4,116.6 220.5,116.5 220.6,116.6 220.7,116.8 220.8,117.0 220.9,116.6 221.0,116.4 221.1,117.0 221.2,116.9 221.3,116.1 221.4,116.3 221.5,116.9 221.6,116.9 221.7,116.6 221.8,116.4 221.9,116.8 222.0,116.7 222.1,116.4 222.2,116.6 222.3,116.6 222.4,116.7 222.5,116.7 222.6,116.7 222.7,116.6 222.8,116.5 222.9,116.8 223.0,117.0 223.1,116.6 223.2,116.4 223.3,116.2 223.4,116.6 223.5,117.1 223.6,116.5 223.7,116.3 223.8,116.9 223.9,116.4 224.0,116.1 224.1,116.9 224.2,117.2 224.3,116.6 224.4,116.1 224.5,116.4 224.6,117.1 224.7,116.9 224.8,116.7 224.9,116.4 225.0,116.7 225.1,117.2 225.2,116.6 225.3,116.1 225.4,116.7 225.5,116.7 225.6,116.3 225.7,116.7 225.8,117.1 225.9,116.9 226.0,116.5 226.1,116.4 226.2,116.7 226.3,116.6 226.4,116.3 226.5,116.6 226.6,117.0 226.7,116.6 226.8,116.3 226.9,116.7 227.0,116.8 227.1,116.5 227.2,116.6 227.3,117.2 227.4,116.9 227.5,116.1 227.6,116.2 227.7,117.1 227.8,116.8 227.9,116.5 228.0,116.5 228.1,116.6 228.2,116.7 228.3,116.7 228.4,116.3 228.5,116.8 228.6,117.2 228.7,116.7 228.8,116.2 228.9,116.5 229.0,116.9 229.1,116.4 229.2,116.3 229.3,117.1 229.4,117.1 229.5,116.6 229.6,116.7 229.7,116.3 229.8,116.1 229.9,116.8 230.0,117.1 230.1,116.5 230.2,116.6 230.3,116.9 230.4,116.5 230.5,116.2 230.6,116.7 230.7,116.9 230.8,116.4 230.9,116.6 231.0,116.9 231.1,116.3 231.2,116.4 231.3,116.8 231.4,116.9 231.5,116.4 231.6,116.1 231.7,116.8 231.8,117.0 231.9,116.7 232.0,116.7 232.1,116.8 232.2,116.7 232.3,116.4 232.4,116.3 232.5,116.8 232.6,117.0 232.7,116.9 232.8,116.3 232.9,116.1 233.0,116.5 233.1,116.4 233.2,116.7 233.3,117.0 233.4,116.9 233.5,116.9 233.6,116.9 233.7,116.6 233.8,116.2 233.9,116.3 234.0,116.6 234.1,116.9 234.2,116.9 234.3,116.6 234.4,116.5 234.5,116.5 234.6,116.3 234.7,116.6 234.8,117.1 234.9,117.2 235.0,116.5 235.1,116.2 235.2,116.7 235.3,116.6 235.4,116.2 235.5,116.5 235.6,116.8 235.7,116.9 235.8,117.0 235.9,116.6 236.0,116.3 236.1,116.6 236.2,116.8 236.3,116.4 236.4,116.3 236.5,116.9 236.6,116.9 236.7,116.1 236.8,116.3 236.9,117.2 237.0,116.9 237.1,116.6 237.2,116.7 237.3,116.4 237.4,116.2 237.5,116.7 237.6,117.0 237.7,117.0 237.8,116.5 237.9,116.1 238.0,116.6 238.1,117.2 238.2,117.2 238.3,116.7 238.4,116.1 238.5,116.1 238.6,117.0 238.7,116.9 238.8,116.2 238.9,116.2 239.0,116.7 239.1,116.9 239.2,116.9 239.3,116.9 239.4,116.3 239.5,116.3 239.6,117.1 239.7,117.0 239.8,116.5 239.9,116.3 240.0,116.2 240.1,116.6 240.2,117.1 240.3,116.7 240.4,116.3 240.5,116.9 240.6,116.7 240.7,116.1 240.8,116.5 240.9,117.2 241.0,116.8 241.1,116.5 241.2,116.7 241.3,116.3 241.4,116.3 241.5,116.8 241.6,116.8 241.7,116.7 241.8,116.8 241.9,116.6 242.0,116.4 242.1,116.4 242.2,117.0 242.3,116.8 242.4,116.1 242.5,116.6 242.6,117.0 242.7,116.7 242.8,116.6 242.9,116.7 243.0,116.6 243.1,116.8 243.2,116.8 243.3,116.5 243.4,116.3 243.5,116.6 243.6,116.9 243.7,116.6 243.8,116.4 243.9,116.8 244.0,117.0 244.1,116.7 244.2,116.4 244.3,116.1 244.4,116.4 244.5,117.2 244.6,117.0 244.7,116.4 244.8,116.6 244.9,116.8 245.0,116.6 245.1,116.4 245.2,116.6 245.3,116.4 245.4,116.4 245.5,117.0 245.6,116.8 245.7,116.2 245.8,116.8 245.9,117.2 246.0,116.4 246.1,116.1 246.2,116.6 246.3,116.8 246.4,116.6 246.5,116.6 246.6,116.7 246.7,116.4 246.8,116.5 246.9,116.7 247.0,116.5 247.1,116.7 247.2,116.9 247.3,116.8 247.4,116.6 247.5,116.8 247.6,116.6 247.7,116.3 247.8,116.5 247.9,116.9 248.0,116.8 248.1,116.4 248.2,116.3 248.3,116.8 248.4,116.9 248.5,116.5 248.6,116.6 248.7,116.9 248.8,116.7 248.9,116.5 249.0,116.9 249.1,116.5 249.2,116.1 249.3,116.5 249.4,117.2 249.5,116.7 249.6,116.1 249.7,116.6 249.8,117.0 249.9,116.8 250.0,116.8 250.1,116.7 250.2,116.1 250.3,116.1 250.4,117.0 250.5,117.2 250.6,116.4 250.7,116.4 250.8,116.8 250.9,116.3 251.0,116.4 251.1,117.0 251.2,116.9 251.3,116.6 251.4,116.5 251.5,116.6 251.6,116.8 251.7,116.7 251.8,116.4 251.9,116.6 252.0,116.7 252.1,116.5 252.2,116.7 252.3,116.9 252.4,116.6 252.5,116.5 252.6,116.8 252.7,116.8 252.8,116.3 252.9,116.4 253.0,117.0 253.1,116.9 253.2,116.6 253.3,116.1 253.4,116.4 253.5,117.0 253.6,116.9 253.7,116.6 253.8,116.3 253.9,116.4 254.0,116.8 254.1,117.2 254.2,116.5 254.3,116.1 254.4,116.4 254.5,116.8 254.6,116.7 254.7,116.7 254.8,116.7 254.9,116.7 255.0,116.6 255.1,116.7 255.2,116.6 255.3,116.5 255.4,116.7 255.5,117.0 255.6,117.0 255.7,116.2 255.8,116.1 255.9,116.5 256.0,116.5 256.1,116.5 256.2,116.6 256.3,116.9 256.4,116.8 256.5,116.6 256.6,116.7 256.7,116.7 256.8,116.2 256.9,116.6 257.0,117.0 257.1,116.7 257.2,116.5 257.3,116.9 257.4,117.0 257.5,116.1 257.6,116.1 257.7,116.9 257.8,116.6 257.9,116.5 258.0,117.0 258.1,116.8 258.2,116.3 258.3,116.1 258.4,116.3 258.5,117.1 258.6,117.1 258.7,116.5 258.8,116.3 258.9,116.6 259.0,116.8 259.1,116.7 259.2,116.5 259.3,116.8 259.4,117.0 259.5,116.3 259.6,116.5 259.7,116.9 259.8,116.6 259.9,116.7 260.0,116.7 260.1,116.7 260.2,116.6 260.3,116.3 260.4,116.3 260.5,116.8 260.6,116.7 260.7,116.7 260.8,116.8 260.9,116.4 261.0,116.7 261.1,117.0 261.2,116.2 261.3,116.2 261.4,117.1 261.5,116.8 261.6,116.1 261.7,116.3 261.8,117.0 261.9,117.1 262.0,116.6 262.1,116.6 262.2,116.7 262.3,116.5 262.4,116.6 262.5,117.1 262.6,116.6 262.7,116.1 262.8,116.5 262.9,116.8 263.0,116.5 263.1,116.7 263.2,116.9 263.3,116.7 263.4,116.7 263.5,116.4 263.6,116.2 263.7,116.4 263.8,116.8 263.9,117.1 264.0,116.6 264.1,116.1 264.2,116.6 264.3,116.9 264.4,116.6 264.5,116.6 264.6,116.9 264.7,116.5 264.8,116.1 264.9,116.7 265.0,117.1 265.1,116.7 265.2,116.4 265.3,116.6 265.4,116.4 265.5,116.4 265.6,117.0 265.7,117.1 265.8,116.4 265.9,116.2 266.0,116.5 266.1,116.6 266.2,117.0 266.3,116.9 266.4,116.3 266.5,116.3 266.6,116.8 266.7,116.9 266.8,116.8 266.9,116.6 267.0,116.1 267.1,116.3 267.2,116.9 267.3,117.0 267.4,116.7 267.5,116.8 267.6,116.7 267.7,116.4 267.8,116.4 267.9,116.6 268.0,116.6 268.1,116.6 268.2,116.9 268.3,116.7 268.4,116.2 268.5,116.3 268.6,116.9 268.7,117.2 268.8,116.6 268.9,116.1 269.0,117.0 269.1,117.0 269.2,116.2 269.3,116.1 269.4,116.7 269.5,117.2 269.6,116.5 269.7,116.1 269.8,116.5 269.9,116.9 270.0,116.9 270.1,116.8 270.2,116.3 270.3,116.1 270.4,116.9 270.5,117.2 270.6,116.8 270.7,116.4 270.8,116.1 270.9,116.6 271.0,117.0 271.1,116.6 271.2,116.2 271.3,116.7 271.4,116.7 271.5,116.4 271.6,116.8 271.7,116.9 271.8,116.4 271.9,116.6 272.0,116.8 272.1,116.6 272.2,116.5 272.3,116.8 272.4,116.9 272.5,116.5 272.6,116.6 272.7,116.7 272.8,116.6 272.9,116.5 273.0,116.3 273.1,116.1 273.2,116.7 273.3,117.2 273.4,116.7 273.5,116.3 273.6,116.5 273.7,117.0 273.8,116.9 273.9,116.2 274.0,116.3 274.1,116.9 274.2,116.7 274.3,116.6 274.4,116.7 274.5,116.4 274.6,116.5 274.7,116.6 274.8,116.7 274.9,117.0 275.0,116.7 275.1,116.6 275.2,116.9 275.3,116.5 275.4,116.4 275.5,116.9 275.6,116.8 275.7,116.3 275.8,116.4 275.9,117.0 276.0,116.7 276.1,116.2 276.2,116.5 276.3,116.9 276.4,116.8 276.5,116.9 276.6,116.6 276.7,116.2 276.8,116.6 276.9,116.8 277.0,116.4 277.1,116.4 277.2,117.0 277.3,117.0 277.4,116.2 277.5,116.5 277.6,116.9 277.7,116.7 277.8,116.4 277.9,116.5 278.0,116.5 278.1,116.5 278.2,116.6 278.3,116.5 278.4,116.8 278.5,117.1 278.6,117.1 278.7,116.8 278.8,116.1 278.9,116.1 279.0,116.8 279.1,116.7 279.2,116.2 279.3,116.8 279.4,117.1 279.5,116.8 279.6,116.7 279.7,116.7 279.8,116.5 279.9,116.3 280.0,116.4 280.1,116.5 280.2,116.5 280.3,116.6 280.4,116.8 280.5,117.0 280.6,116.9 280.7,116.3 280.8,116.2 280.9,117.0 281.0,117.0 281.1,116.5 281.2,116.6 281.3,116.5 281.4,116.5 281.5,116.9 281.6,116.9 281.7,116.5 281.8,116.6 281.9,116.8 282.0,116.7 282.1,116.3 282.2,116.5 282.3,117.1 282.4,116.9 282.5,116.4 282.6,116.2 282.7,116.3 282.8,116.7 282.9,117.1 283.0,116.8 283.1,116.5 283.2,116.7 283.3,116.3 283.4,116.3 283.5,116.9 283.6,117.0 283.7,116.5 283.8,116.1 283.9,116.4 284.0,116.8 284.1,116.7 284.2,116.8 284.3,116.8 284.4,116.5 284.5,116.4 284.6,116.4 284.7,116.9 284.8,117.0 284.9,116.7 285.0,116.9 285.1,116.8 285.2,116.1 285.3,116.1 285.4,116.8 285.5,117.2 285.6,117.1 285.7,116.3 285.8,116.2 285.9,116.8 286.0,116.8 286.1,116.3 286.2,116.4 286.3,117.1 286.4,116.9 286.5,116.3 286.6,116.2 286.7,116.5 286.8,116.9 286.9,117.0 287.0,116.9 287.1,116.6 287.2,116.2 287.3,116.4 287.4,117.1 287.5,117.0 287.6,116.4 287.7,116.3 287.8,116.2 287.9,116.7 288.0,117.2 288.1,116.4 288.2,116.1 288.3,116.9 288.4,117.2 288.5,116.5 288.6,116.1 288.7,116.7 288.8,116.9 288.9,116.7 289.0,117.1 289.1,116.6 289.2,116.1 289.3,116.9 289.4,117.2 289.5,116.7 289.6,116.1 289.7,116.2 289.8,117.0 289.9,116.7 290.0,116.4 290.1,116.5 290.2,116.8 290.3,117.0 290.4,116.8 290.5,116.2 290.6,116.1 290.7,116.4 290.8,117.2 290.9,117.1 291.0,116.1 291.1,116.4 291.2,117.1 291.3,116.8 291.4,116.5 291.5,116.7 291.6,116.8 291.7,116.4 291.8,116.1 291.9,116.4 292.0,117.0 292.1,117.0 292.2,116.6 292.3,116.5 292.4,116.6 292.5,116.9 292.6,116.9 292.7,116.4 292.8,116.2 292.9,116.5 293.0,116.6 293.1,116.5 293.2,116.8 293.3,117.0 293.4,116.6 293.5,116.2 293.6,116.6 293.7,117.0 293.8,116.6 293.9,116.3 294.0,116.6 294.1,116.8 294.2,116.6 294.3,116.7 294.4,116.8 294.5,116.8 294.6,116.5 294.7,116.1 294.8,116.2 294.9,116.6 295.0,117.0 295.1,116.9 295.2,116.3 295.3,116.4 295.4,117.0 295.5,116.9 295.6,117.0 295.7,116.4 295.8,116.1 295.9,117.0 296.0,117.2 296.1,116.4 296.2,116.1 296.3,116.4 296.4,116.8 296.5,117.0 296.6,116.5 296.7,116.1 296.8,116.7 296.9,116.8 297.0,116.3 297.1,116.5 297.2,116.9 297.3,116.5 297.4,116.5 297.5,116.8 297.6,116.5 297.7,116.3 297.8,116.6 297.9,116.7 298.0,116.5 298.1,116.6 298.2,116.7 298.3,117.1 298.4,117.0 298.5,116.4 298.6,116.5 298.7,116.6 298.8,116.4 298.9,116.6 299.0,116.9 299.1,116.6 299.2,116.5 299.3,116.7 299.4,116.6 299.5,116.6 299.6,116.9 299.7,116.9 299.8,116.3 299.9,116.1 300.0,116.6 300.1,117.0 300.2,116.8 300.3,116.4 300.4,116.7 300.5,116.8 300.6,116.1 300.7,116.4 300.8,117.1 300.9,116.8 301.0,116.5 301.1,116.6 301.2,116.6 301.3,116.5 301.4,116.7 301.5,116.5 301.6,116.4 301.7,116.9 301.8,116.9 301.9,116.7 302.0,116.6 302.1,116.6 302.2,116.6 302.3,116.5 302.4,116.8 302.5,117.0 302.6,116.5 302.7,116.2 302.8,116.7 302.9,117.1 303.0,116.7 303.1,116.2 303.2,116.4 303.3,116.6 303.4,116.7 303.5,117.0 303.6,116.6 303.7,116.3 303.8,116.9 303.9,116.7 304.0,116.2 304.1,116.6 304.2,117.2 304.3,116.9 304.4,116.4 304.5,116.6 304.6,116.6 304.7,116.4 304.8,116.3 304.9,116.5 305.0,117.0 305.1,116.8 305.2,116.6 305.3,116.7 305.4,116.3 305.5,116.5 305.6,116.9 305.7,116.8 305.8,116.5 305.9,116.6 306.0,116.9 306.1,116.6 306.2,116.4 306.3,116.9 306.4,116.7 306.5,116.3 306.6,116.7 306.7,117.0 306.8,116.5 306.9,116.2 307.0,116.6 307.1,116.7 307.2,116.6 307.3,116.6 307.4,116.8 307.5,116.3 307.6,116.1 307.7,117.1 307.8,117.2 307.9,116.8 308.0,116.3 308.1,116.1 308.2,116.4 308.3,116.9 308.4,116.9 308.5,116.5 308.6,116.7 308.7,117.0 308.8,116.6 308.9,116.1 309.0,116.6 309.1,116.8 309.2,116.5 309.3,116.8 309.4,117.0 309.5,116.6 309.6,116.5 309.7,116.3 309.8,116.6 309.9,117.1 310.0,116.6 310.1,116.0 310.2,116.6 310.3,117.0 310.4,116.7 310.5,116.6 310.6,117.0 310.7,117.0 310.8,116.3 310.9,116.3 311.0,116.8 311.1,116.8 311.2,116.2 311.3,116.2 311.4,116.8 311.5,116.9 311.6,116.6 311.7,116.7 311.8,116.5 311.9,116.3 312.0,116.6 312.1,116.8 312.2,116.8 312.3,116.6 312.4,116.7 312.5,116.8 312.6,116.7 312.7,116.7 312.8,116.3 312.9,116.5 313.0,116.7 313.1,116.7 313.2,117.0 313.3,116.6 313.4,116.2 313.5,116.7 313.6,116.9 313.7,116.3 313.8,116.3 313.9,117.1 314.0,117.2 314.1,117.0 314.2,116.5 314.3,116.1 314.4,116.2 314.5,116.5 314.6,116.9 314.7,116.9 314.8,116.2 314.9,116.2 315.0,116.9 315.1,117.2 315.2,116.9 315.3,116.3 315.4,116.0 315.5,116.3 315.6,117.1 315.7,117.0 315.8,116.3 315.9,116.2 316.0,116.6 316.1,117.0 316.2,116.8 316.3,116.4 316.4,116.5 316.5,117.0 316.6,116.9 316.7,116.0 316.8,116.5 316.9,117.1 317.0,116.6 317.1,116.3 317.2,116.4 317.3,116.6 317.4,117.0 317.5,116.9 317.6,116.5 317.7,116.4 317.8,116.6 317.9,116.6 318.0,116.5 318.1,116.7 318.2,116.5 318.3,116.3 318.4,116.6 318.5,116.6 318.6,116.7 318.7,117.1 318.8,116.9 318.9,116.2 319.0,116.6 319.1,116.9 319.2,116.3 319.3,116.3 319.4,116.7 319.5,116.6 319.6,116.9 319.7,116.7 319.8,116.1 319.9,116.4 320.0,117.0 320.1,116.6 320.2,116.3 320.3,116.9 320.4,116.8 320.5,116.0 320.6,116.7 320.7,117.2 320.8,116.7 320.9,116.0 321.0,116.0 321.1,116.7 321.2,117.2 321.3,116.9 321.4,116.3 321.5,116.5 321.6,116.5 321.7,116.6 321.8,116.5 321.9,116.2 322.0,116.8 322.1,116.9 322.2,116.4 322.3,116.7 322.4,117.0 322.5,116.4 322.6,116.4 322.7,116.7 322.8,116.7 322.9,116.7 323.0,116.5 323.1,116.4 323.2,116.6 323.3,116.9 323.4,116.7 323.5,116.4 323.6,116.8 323.7,117.0 323.8,116.6 323.9,116.3 324.0,116.4 324.1,116.7 324.2,116.8 324.3,116.5 324.4,116.3 324.5,116.6 324.6,116.4 324.7,116.6 324.8,117.2 324.9,116.9 325.0,116.2 325.1,116.4 325.2,116.6 325.3,116.6 325.4,116.9 325.5,116.6 325.6,116.2 325.7,116.8 325.8,116.9 325.9,116.5 326.0,116.7 326.1,116.6 326.2,116.4 326.3,116.9 326.4,116.9 326.5,116.5 326.6,116.7 326.7,116.5 326.8,116.5 326.9,116.8 327.0,116.8 327.1,116.5 327.2,116.4 327.3,116.6 327.4,116.7 327.5,116.7 327.6,116.7 327.7,116.9 327.8,116.9 327.9,116.6 328.0,116.0 328.1,116.3 328.2,116.8 328.3,116.4 328.4,116.3 328.5,117.2 328.6,117.2 328.7,116.0 328.8,116.3 328.9,117.2 329.0,116.6 329.1,116.2 329.2,116.5 329.3,116.6 329.4,117.0 329.5,116.9 329.6,116.5 329.7,116.4 329.8,116.5 329.9,116.6 330.0,116.7 330.1,116.7 330.2,116.5 330.3,116.5 330.4,116.6 330.5,116.7 330.6,116.8 330.7,116.7 330.8,116.5 330.9,116.2 331.0,116.5 331.1,116.9 331.2,116.5 331.3,116.4 331.4,116.9 331.5,116.8 331.6,116.3 331.7,116.6 331.8,117.0 331.9,116.6 332.0,116.2 332.1,116.6 332.2,117.1 332.3,116.7 332.4,116.2 332.5,117.0 332.6,116.9 332.7,116.0 332.8,116.2 332.9,117.1 333.0,117.1 333.1,116.6 333.2,116.5 333.3,116.5 333.4,117.0 333.5,117.0 333.6,116.3 333.7,116.4 333.8,116.4 333.9,116.5 334.0,116.9 334.1,116.9 334.2,116.6 334.3,116.3 334.4,116.7 334.5,116.8 334.6,116.3 334.7,116.3 334.8,116.7 334.9,116.8 335.0,116.7 335.1,116.8 335.2,116.6 335.3,116.7 335.4,116.7 335.5,116.6 335.6,116.6 335.7,116.5 335.8,116.4 335.9,116.6 336.0,117.2 336.1,117.1 336.2,116.0 336.3,116.4 336.4,116.9 336.5,116.4 336.6,116.6 336.7,116.7 336.8,116.5 336.9,116.4 337.0,116.6 337.1,116.9 337.2,116.8 337.3,116.5 337.4,116.5 337.5,116.6 337.6,116.9 337.7,116.7 337.8,116.4 337.9,116.7 338.0,116.6 338.1,116.5 338.2,116.7 338.3,116.5 338.4,116.6 338.5,117.0 338.6,116.4 338.7,116.0 338.8,116.8 338.9,117.2 339.0,116.5 339.1,116.1 339.2,116.9 339.3,116.8 339.4,116.3 339.5,116.6 339.6,116.7 339.7,116.8 339.8,117.0 339.9,116.5 340.0,116.4 340.1,116.8 340.2,116.7 340.3,116.2 340.4,116.4 340.5,116.8 340.6,116.4 340.7,116.6 340.8,117.2 340.9,116.8 341.0,116.1 341.1,116.6 341.2,117.0 341.3,116.3 341.4,116.3 341.5,116.8 341.6,116.8 341.7,116.7 341.8,116.7 341.9,116.4 342.0,116.4 342.1,116.4 342.2,116.8 342.3,116.9 342.4,116.6 342.5,116.6 342.6,116.7 342.7,116.6 342.8,116.6 342.9,116.6 343.0,116.7 343.1,116.6 343.2,116.7 343.3,116.3 343.4,116.2 343.5,117.0 343.6,117.0 343.7,116.3 343.8,116.1 343.9,116.6 344.0,117.2 344.1,117.2 344.2,116.1 344.3,116.0 344.4,116.8 344.5,117.2 344.6,116.6 344.7,116.2 344.8,116.3 344.9,117.0 345.0,117.1 345.1,116.4 345.2,116.1 345.3,116.6 345.4,117.0 345.5,116.6 345.6,116.7 345.7,117.0 345.8,116.3 345.9,116.2 346.0,116.6 346.1,116.6 346.2,116.8 346.3,116.9 346.4,116.6 346.5,116.4 346.6,116.6 346.7,117.0 346.8,116.4 346.9,116.0 347.0,116.5 347.1,117.1 347.2,117.2 347.3,116.6 347.4,116.3 347.5,116.6 347.6,116.8 347.7,116.7 347.8,116.6 347.9,116.7 348.0,116.6 348.1,116.4 348.2,116.5 348.3,116.8 348.4,116.5 348.5,116.4 348.6,117.0 348.7,116.9 348.8,116.1 348.9,116.4 349.0,116.9 349.1,116.6 349.2,116.4 349.3,116.8 349.4,117.0 349.5,116.6 349.6,116.6 349.7,116.4 349.8,116.3 349.9,116.9 350.0,117.1 350.1,116.6 350.2,116.2 350.3,116.1 350.4,116.7 350.5,117.2 350.6,116.7 350.7,116.1 350.8,116.5 350.9,117.0 351.0,116.8 351.1,116.2 351.2,116.0 351.3,116.7 351.4,117.2 351.5,116.8 351.6,116.5 351.7,116.3 351.8,116.0 351.9,116.7 352.0,117.2 352.1,116.7 352.2,116.2 352.3,116.7 352.4,117.2 352.5,116.8 352.6,116.1 352.7,116.5 352.8,116.8 352.9,116.4 353.0,116.5 353.1,116.9 353.2,116.2 353.3,116.3 353.4,117.2 353.5,117.1 353.6,116.3 353.7,116.2 353.8,116.7 353.9,116.8 354.0,116.7 354.1,116.9 354.2,116.5 354.3,116.4 354.4,116.7 354.5,116.5 354.6,116.4 354.7,117.2 354.8,116.9 354.9,116.5 355.0,116.6 355.1,116.2 355.2,116.6 355.3,116.9 355.4,116.5 355.5,116.4 355.6,116.6 355.7,116.9 355.8,116.8 355.9,116.3 356.0,116.4 356.1,117.1 356.2,117.1 356.3,116.3 356.4,116.0 356.5,116.4 356.6,116.7 356.7,117.2 356.8,117.2 356.9,116.1 357.0,116.0 357.1,116.7 357.2,116.8 357.3,116.4 357.4,116.5 357.5,116.8 357.6,116.6 357.7,116.6 357.8,116.7 357.9,116.5 358.0,116.6 358.1,116.8 358.2,116.9 358.3,116.8 358.4,116.2 358.5,116.5 358.6,117.0 358.7,116.4 358.8,116.1 358.9,116.7 359.0,117.1 359.1,116.8 359.2,116.3 359.3,116.2 359.4,117.0 359.5,117.1 359.6,116.0 359.7,116.0 359.8,116.9 359.9,117.2 360.0,116.7 360.1,116.2 360.2,116.4 360.3,116.7 360.4,116.6 360.5,116.4 360.6,116.7 360.7,116.9 360.8,116.9 360.9,116.5 361.0,116.1 361.1,116.7 361.2,116.8 361.3,116.7 361.4,116.7 361.5,116.7 361.6,117.1 361.7,116.6 361.8,116.0 361.9,116.4 362.0,116.9 362.1,116.7 362.2,116.6 362.3,116.9 362.4,116.9 362.5,116.4 362.6,116.0 362.7,116.5 362.8,116.9 362.9,117.0 363.0,117.0 363.1,116.3 363.2,116.1 363.3,116.7 363.4,116.8 363.5,116.7 363.6,116.4 363.7,116.5 363.8,117.1 363.9,116.7 364.0,116.3 364.1,116.9 364.2,116.7 364.3,116.6 364.4,116.9 364.5,116.6 364.6,116.1 364.7,116.7 364.8,117.2 364.9,116.5 365.0,116.3 365.1,116.4 365.2,116.7 365.3,117.2 365.4,116.7 365.5,116.0 365.6,116.1 365.7,117.2 365.8,116.9 365.9,116.3 366.0,116.3 366.1,116.6 366.2,116.9 366.3,117.1 366.4,116.7 366.5,116.0 366.6,116.1 366.7,116.9 366.8,117.0 366.9,116.5 367.0,116.2 367.1,116.4 367.2,117.1 367.3,117.1 367.4,116.5 367.5,116.3 367.6,116.7 367.7,116.6 367.8,116.2 367.9,116.7 368.0,116.9 368.1,116.4 368.2,116.2 368.3,116.6 368.4,117.2 368.5,116.9 368.6,116.3 368.7,116.3 368.8,116.7 368.9,116.9 369.0,116.7 369.1,116.2 369.2,116.5 369.3,117.2 369.4,116.9 369.5,116.0 369.6,116.4 369.7,116.7 369.8,116.7 369.9,117.0 370.0,116.9 370.1,116.6 370.2,116.3 370.3,116.0 370.4,116.9 370.5,117.2 370.6,116.9 370.7,116.6 370.8,116.2 370.9,116.3 371.0,116.8 371.1,117.1 371.2,116.7 371.3,116.2 371.4,116.3 371.5,116.7 371.6,116.7 371.7,116.5 371.8,116.5 371.9,116.7 372.0,116.7 372.1,116.7 372.2,116.4 372.3,116.6 372.4,117.0 372.5,116.5 372.6,116.0 372.7,117.0 372.8,117.1 372.9,116.3 373.0,116.7 373.1,117.1 373.2,116.5 373.3,116.0 373.4,116.6 373.5,117.2 373.6,116.7 373.7,116.2 373.8,116.6 373.9,117.2 374.0,116.3 374.1,116.1 374.2,117.1 374.3,116.8 374.4,116.1 374.5,116.3 374.6,117.0 374.7,117.2 374.8,116.4 374.9,116.4 375.0,116.4 375.1,116.4 375.2,117.2 375.3,116.9 375.4,116.3 375.5,116.5 375.6,116.5 375.7,116.0 375.8,116.5 375.9,115.4 376.0,115.7 376.1,120.2 376.2,119.2 376.3,112.0 376.4,113.2 376.5,119.1 376.6,118.8 376.7,117.7 376.8,119.3 376.9,116.3 377.0,113.5 377.1,119.6 377.2,119.5 377.3,113.1 377.4,114.5 377.5,115.5 377.6,113.6 377.7,116.1 377.8,121.5 377.9,121.8 378.0,114.1 378.1,112.4 378.2,118.9 378.3,121.3 378.4,114.6 378.5,111.2 378.6,115.8 378.7,122.5 378.8,119.6 378.9,116.1 379.0,118.8 379.1,113.6 379.2,110.9 379.3,118.4 379.4,122.4 379.5,120.9 379.6,116.7 379.7,109.5 379.8,109.3 379.9,118.6 380.0,124.0 380.1,117.9 380.2,117.3 380.3,115.5 380.4,110.9 380.5,112.5 380.6,120.6 380.7,124.8 380.8,112.9 380.9,110.1 381.0,122.3 381.1,119.3 381.2,112.0 381.3,114.0 381.4,113.7 381.5,119.7 381.6,123.2 381.7,112.8 381.8,105.6 381.9,113.6 382.0,118.5 382.1,117.8 382.2,122.6 382.3,104.3 382.4,104.6 382.5,104.8 382.6,119.7 382.7,123.2 382.8,121.4 382.9,110.1 383.0,106.2 383.1,119.5 383.2,122.8 383.3,113.4 383.4,111.7 383.5,114.3 383.6,114.1 383.7,120.3 383.8,123.7 383.9,122.6 384.0,114.2 384.1,109.5 384.2,114.1 384.3,115.0 384.4,119.9 384.5,122.6 384.6,116.3 384.7,113.5 384.8,108.9 384.9,108.8 385.0,126.9 385.1,127.2 385.2,113.0 385.3,112.7 385.4,125.0 385.5,124.8 385.6,119.3 385.7,118.8 385.8,109.7 385.9,107.0 386.0,118.0 386.1,123.6 386.2,125.9 386.3,124.2 386.4,110.4 386.5,113.8 386.6,122.4 386.7,115.7 386.8,117.5 386.9,117.2 387.0,114.9 387.1,112.4 387.2,114.0 387.3,114.9 387.4,113.1 387.5,132.1 387.6,135.7 387.7,112.2 387.8,106.4 387.9,130.9 388.0,131.7 388.1,106.5 388.2,138.4 388.3,129.3 388.4,135.8 388.5,116.6 388.6,110.9 388.7,116.8 388.8,118.2 388.9,114.7 389.0,108.1 389.1,115.9 389.2,130.3 389.3,110.3 389.4,98.5 389.5,115.8 389.6,97.2 389.7,131.7 389.8,109.7 389.9,98.7 390.0,107.7 390.1,131.2 390.2,118.3 390.3,100.6 390.4,122.9 390.5,127.2 390.6,112.6 390.7,114.4 390.8,115.5 390.9,115.1 391.0,123.6 391.1,122.3 391.2,116.4 391.3,116.4 391.4,115.4 391.5,114.9 391.6,120.5 391.7,124.1 391.8,114.8 391.9,105.5 392.0,112.7 392.1,128.7 392.2,118.7 392.3,109.2 392.4,116.7 392.5,116.8 392.6,112.1 392.7,118.3 392.8,123.4 392.9,113.0 393.0,114.8 393.1,125.7 393.2,120.3 393.3,105.7 393.4,108.5 393.5,113.8 393.6,106.9 393.7,114.5 393.8,126.6 393.9,126.9 394.0,113.2 394.1,110.3 394.2,118.5 394.3,108.1 394.4,104.2 394.5,128.7 394.6,128.7 394.7,99.5 394.8,99.3 394.9,123.7 395.0,130.2 395.1,125.4 395.2,111.0 395.3,111.9 395.4,117.6 395.5,110.4 395.6,104.9 395.7,123.5 395.8,130.5 395.9,97.7 396.0,107.6 396.1,113.5 396.2,132.7 396.3,113.1 396.4,95.8 396.5,102.2 396.6,139.6 396.7,137.1 396.8,122.5 396.9,105.7 397.0,95.4 397.1,113.3 397.2,140.1 397.3,128.8 397.4,147.2 397.5,101.7 397.6,146.6 397.7,134.6 397.8,120.1 397.9,106.0 398.0,93.6 398.1,140.7 398.2,85.6 398.3,88.4 398.4,115.6 398.5,128.1 398.6,105.2 398.7,121.7 398.8,129.0 398.9,98.8 399.0,95.2 399.1,136.6 399.2,141.3 399.3,107.9 399.4,101.1 399.5,116.6 399.6,118.2 399.7,125.1 399.8,123.1 399.9,117.2 400.0,112.0 400.1,96.2 400.2,108.1 400.3,105.5 400.4,106.7 400.5,139.2 400.6,139.0 400.7,102.7 400.8,114.4 400.9,122.5 401.0,125.4 401.1,125.0 401.2,99.7 401.3,97.6 401.4,113.5 401.5,120.9 401.6,124.1 401.7,120.5 401.8,111.3 401.9,97.8 402.0,128.1 402.1,132.7 402.2,71.2 402.3,103.8 402.4,133.0 402.5,117.9 402.6,113.7 402.7,122.6 402.8,115.9 402.9,106.8 403.0,103.6 403.1,114.3 403.2,126.8 403.3,115.2 403.4,115.4 403.5,139.6 403.6,108.3 403.7,77.7 403.8,105.8 403.9,137.3 404.0,114.5 404.1,117.5 404.2,105.9 404.3,76.9 404.4,97.5 404.5,119.8 404.6,44.5 404.7,179.2 404.8,114.7 404.9,82.1 405.0,83.0 405.1,124.8 405.2,153.0 405.3,127.0 405.4,76.8 405.5,78.6 405.6,135.3 405.7,141.0 405.8,111.0 405.9,72.0 406.0,149.7 406.1,110.3 406.2,78.4 406.3,122.6 406.4,151.0 406.5,125.8 406.6,100.1 406.7,100.4 406.8,115.5 406.9,120.8 407.0,156.8 407.1,129.7 407.2,107.0 407.3,106.9 407.4,110.3 407.5,112.5 407.6,132.7 407.7,126.7 407.8,83.0 407.9,97.1 408.0,149.0 408.1,130.4 408.2,99.6 408.3,124.8 408.4,120.4 408.5,84.4 408.6,93.2 408.7,131.6 408.8,154.5 408.9,154.7 409.0,109.7 409.1,78.5 409.2,85.3 409.3,126.7 409.4,134.2 409.5,105.3 409.6,125.7 409.7,136.4 409.8,117.6 409.9,91.0 410.0,90.8 410.1,128.2 410.2,56.0 410.3,196.8 410.4,121.0 410.5,116.8 410.6,120.0 410.7,80.4 410.8,75.6 410.9,144.5 411.0,156.7 411.1,96.9 411.2,90.5 411.3,152.5 411.4,145.9 411.5,77.0 411.6,78.2 411.7,155.5 411.8,155.3 411.9,84.5 412.0,78.0 412.1,125.7 412.2,131.7 412.3,56.0 412.4,143.9 412.5,153.6 412.6,171.2 412.7,79.4 412.8,140.5 412.9,154.3 413.0,119.4 413.1,80.2 413.2,108.6 413.3,154.7 413.4,116.4 413.5,92.5 413.6,110.3 413.7,127.3 413.8,120.2 413.9,101.4 414.0,114.4 414.1,142.8 414.2,78.0 414.3,109.4 414.4,132.5 414.5,129.9 414.6,109.7 414.7,98.1 414.8,109.2 414.9,134.7 415.0,131.4 415.1,95.5 415.2,88.8 415.3,130.0 415.4,136.2 415.5,127.1 415.6,154.4 415.7,137.6 415.8,96.8 415.9,86.7 416.0,96.3 416.1,115.4 416.2,125.3 416.3,55.2 416.4,137.8 416.5,105.6 416.6,179.2 416.7,118.7 416.8,157.3 416.9,113.7 417.0,104.2 417.1,134.3 417.2,113.5 417.3,98.0 417.4,139.6 417.5,123.1 417.6,80.2 417.7,119.4 417.8,127.3 417.9,102.1 418.0,119.5 418.1,118.1 418.2,75.0 418.3,137.0 418.4,110.6 418.5,93.7 418.6,122.5 418.7,112.3 418.8,124.8 418.9,138.1 419.0,163.2 419.1,106.4 419.2,122.4 419.3,110.3 419.4,125.9 419.5,125.0 419.6,119.0 419.7,131.5 419.8,100.2 419.9,76.2 420.0,132.4 420.1,153.2 420.2,121.0 420.3,75.4 420.4,82.1 420.5,151.6 420.6,154.7 420.7,106.8 420.8,74.4 420.9,100.8 421.0,48.0 421.1,105.2 421.2,107.3 421.3,156.7 421.4,177.6 421.5,77.6 421.6,112.0 421.7,114.4 421.8,95.6 421.9,119.8 422.0,148.4 422.1,131.6 422.2,119.5 422.3,116.1 422.4,94.6 422.5,100.6 422.6,132.6 422.7,144.7 422.8,122.8 422.9,95.6 423.0,98.6 423.1,132.3 423.2,127.7 423.3,129.2 423.4,122.8 423.5,55.2 423.6,104.2 423.7,135.8 423.8,176.8 423.9,101.4 424.0,115.1 424.1,138.5 424.2,125.5 424.3,98.0 424.4,107.3 424.5,139.9 424.6,143.0 424.7,110.8 424.8,96.9 424.9,107.9 425.0,123.6 425.1,128.6 425.2,117.0 425.3,116.7 425.4,122.1 425.5,116.0 425.6,113.0 425.7,113.1 425.8,120.0 425.9,123.5 426.0,114.1 426.1,115.8 426.2,121.5 426.3,114.7 426.4,122.8 426.5,132.2 426.6,122.8 426.7,112.1 426.8,111.2 426.9,120.9 427.0,97.6 427.1,136.0 427.2,112.5 427.3,124.8 427.4,124.5 427.5,110.2 427.6,105.3 427.7,115.0 427.8,128.3 427.9,133.2 428.0,123.8 428.1,98.9 428.2,98.0 428.3,136.0 428.4,145.1 428.5,106.9 428.6,87.3 428.7,116.8 428.8,132.2 428.9,112.0 429.0,116.3 429.1,133.6 429.2,129.5 429.3,86.1 429.4,92.9 429.5,138.1 429.6,142.4 429.7,80.0 429.8,114.7 429.9,119.4 430.0,101.8 430.1,118.9 430.2,156.8 430.3,105.6 430.4,95.6 430.5,127.0 430.6,128.0 430.7,98.4 430.8,118.6 430.9,143.7 431.0,104.6 431.1,101.7 431.2,117.0 431.3,119.8 431.4,147.7 431.5,141.8 431.6,99.1 431.7,88.9 431.8,114.6 431.9,128.1 432.0,118.2 432.1,110.7 432.2,114.8 432.3,108.8 432.4,112.3 432.5,131.7 432.6,84.0 432.7,140.6 432.8,84.9 432.9,85.4 433.0,126.3 433.1,148.1 433.2,112.4 433.3,116.3 433.4,147.2 433.5,101.6 433.6,97.8 433.7,116.6 433.8,126.6 433.9,110.1 434.0,104.7 434.1,131.5 434.2,128.9 434.3,122.0 434.4,119.3 434.5,100.1 434.6,118.2 434.7,137.3 434.8,110.5 434.9,94.5 435.0,113.0 435.1,133.6 435.2,128.3 435.3,126.6 435.4,115.6 435.5,94.5 435.6,98.5 435.7,137.5 435.8,137.1 435.9,94.1 436.0,94.0 436.1,135.8 436.2,128.9 436.3,98.4 436.4,114.8 436.5,123.7 436.6,114.2 436.7,109.0 436.8,117.8 436.9,124.9 437.0,124.5 437.1,106.0 437.2,102.0 437.3,118.1 437.4,118.4 437.5,117.9 437.6,120.4 437.7,114.2 437.8,107.1 437.9,115.2 438.0,92.0 438.1,122.3 438.2,120.2 438.3,118.7 438.4,108.0 438.5,97.7 438.6,114.0 438.7,125.2 438.8,120.0 438.9,112.1 439.0,136.0 439.1,130.2 439.2,107.6 439.3,95.5 439.4,122.4 439.5,133.2 439.6,120.3 439.7,105.7 439.8,103.8 439.9,118.1 440.0,122.5 440.1,120.6 440.2,120.1 440.3,124.4 440.4,127.6 440.5,106.2 440.6,100.3 440.7,128.3 440.8,130.7 440.9,108.4 441.0,100.0 441.1,111.2 441.2,136.6 441.3,129.0 441.4,121.0 441.5,122.3 441.6,106.7 441.7,106.9 441.8,114.6 441.9,117.4 442.0,123.3 442.1,113.6 442.2,119.6 442.3,130.4 442.4,113.4 442.5,111.2 442.6,118.5 442.7,125.5 442.8,115.7 442.9,108.9 443.0,119.8 443.1,124.9 443.2,112.0 443.3,113.4 443.4,121.7 443.5,104.0 443.6,122.9 443.7,126.8 443.8,107.8 443.9,103.7 444.0,116.7 444.1,125.4 444.2,133.3 444.3,126.2 444.4,108.0 444.5,109.5 444.6,118.0 444.7,133.4 444.8,128.1 444.9,110.3 445.0,110.3 445.1,116.5 445.2,122.0 445.3,123.2 445.4,110.8 445.5,102.6 445.6,110.2 445.7,125.1 445.8,134.5 445.9,129.5 446.0,107.9 446.1,102.2 446.2,126.8 446.3,137.9 446.4,116.5 446.5,138.0 446.6,112.1 446.7,137.9 446.8,132.1 446.9,116.3 447.0,101.6 447.1,104.0 447.2,102.5 447.3,130.1 447.4,120.5 447.5,109.7 447.6,127.6 447.7,134.6 447.8,117.0 447.9,104.4 448.0,114.6 448.1,135.0 448.2,116.4 448.3,109.4 448.4,126.5 448.5,128.5 448.6,104.6 448.7,101.1 448.8,115.5 448.9,130.2 449.0,137.0 449.1,120.1 449.2,106.7 449.3,112.5 449.4,118.1 449.5,123.0 449.6,117.9 449.7,103.2 449.8,108.6 449.9,125.6 450.0,100.8 450.1,134.4 450.2,116.9 450.3,117.1 450.4,120.8 450.5,107.4 450.6,111.8 450.7,118.9 450.8,109.6 450.9,104.3 451.0,124.1 451.1,136.8 451.2,112.7 451.3,99.8 451.4,124.7 451.5,130.5 451.6,103.6 451.7,113.5 451.8,128.3 451.9,113.4 452.0,110.0 452.1,110.8 452.2,110.9 452.3,122.0 452.4,121.5 452.5,110.9 452.6,123.4 452.7,119.5 452.8,106.0 452.9,117.4 453.0,123.7 453.1,116.9 453.2,105.9 453.3,114.0 453.4,136.2 453.5,113.8 453.6,97.9 453.7,131.6 453.8,124.9 453.9,100.5 454.0,127.1 454.1,136.0 454.2,113.0 454.3,99.2 454.4,115.3 454.5,118.9 454.6,113.1 454.7,113.5 454.8,124.2 454.9,126.0 455.0,119.4 455.1,123.2 455.2,120.0 455.3,118.2 455.4,113.3 455.5,96.4 455.6,135.6 455.7,134.2 455.8,128.8 455.9,99.2 456.0,114.1 456.1,122.8 456.2,114.0 456.3,117.2 456.4,118.1 456.5,115.1 456.6,113.8 456.7,119.5 456.8,118.1 456.9,107.4 457.0,108.5 457.1,118.0 457.2,119.1 457.3,120.5 457.4,122.9 457.5,118.4 457.6,111.4 457.7,113.6 457.8,117.7 457.9,113.0 458.0,112.0 458.1,114.4 458.2,122.9 458.3,123.7 458.4,112.1 458.5,112.2 458.6,116.0 458.7,117.2 458.8,115.2 458.9,117.5 459.0,121.6 459.1,113.1 459.2,111.0 459.3,126.9 459.4,124.0 459.5,109.1 459.6,111.9 459.7,120.7 459.8,129.5 459.9,118.8 460.0,106.4 460.1,112.5 460.2,118.9 460.3,113.3 460.4,114.1 460.5,103.8 460.6,133.8 460.7,117.2 460.8,124.1 460.9,104.9 461.0,104.4 461.1,122.1 461.2,132.0 461.3,131.8 461.4,113.3 461.5,109.7 461.6,113.3 461.7,113.7 461.8,107.5 461.9,112.2 462.0,124.7 462.1,122.1 462.2,117.8 462.3,118.9 462.4,122.1 462.5,113.9 462.6,106.5 462.7,116.9 462.8,126.9 462.9,119.6 463.0,115.5 463.1,117.4 463.2,120.7 463.3,118.1 463.4,108.9 463.5,114.2 463.6,124.7 463.7,113.9 463.8,108.0 463.9,118.6 464.0,123.9 464.1,115.7 464.2,113.4 464.3,120.5 464.4,119.7 464.5,110.5 464.6,113.4 464.7,118.0 464.8,114.9 464.9,114.8 465.0,121.7 465.1,124.4 465.2,118.9 465.3,110.6 465.4,119.4 465.5,122.5 465.6,113.0 465.7,116.5 465.8,119.3 465.9,114.3 466.0,114.4 466.1,114.3 466.2,119.2 466.3,124.1 466.4,116.0 466.5,110.4 466.6,110.3 466.7,124.7 466.8,124.8 466.9,116.8 467.0,110.9 467.1,112.0 467.2,110.3 467.3,113.0 467.4,124.1 467.5,125.9 467.6,114.8 467.7,107.6 467.8,120.2 467.9,126.5 468.0,121.2 468.1,106.7 468.2,106.5 468.3,106.5 468.4,117.9 468.5,127.4 468.6,123.0 468.7,112.1 468.8,117.6 468.9,124.0 469.0,112.2 469.1,105.4 469.2,117.4 469.3,124.3 469.4,117.8 469.5,110.9 469.6,116.8 469.7,121.1 469.8,111.3 469.9,114.4 470.0,118.6 470.1,118.7 470.2,125.8 470.3,113.1 470.4,104.2 470.5,113.0 470.6,129.1 470.7,123.2 470.8,103.9 470.9,110.4 471.0,126.3 471.1,113.5 471.2,115.9 471.3,126.5 471.4,121.5 471.5,110.5 471.6,104.3 471.7,120.4 471.8,130.8 471.9,123.4 472.0,102.8 472.1,131.0 472.2,118.4 472.3,124.6 472.4,123.5 472.5,126.4 472.6,121.6 472.7,103.3 472.8,103.4 472.9,128.0 473.0,122.1 473.1,111.6 473.2,121.0 473.3,119.5 473.4,110.5 473.5,117.2 473.6,123.8 473.7,115.1 473.8,108.9 473.9,117.7 474.0,120.0 474.1,113.5 474.2,110.7 474.3,116.8 474.4,122.9 474.5,120.5 474.6,112.7 474.7,115.8 474.8,124.7 474.9,114.8 475.0,105.3 475.1,115.9 475.2,125.4 475.3,112.8 475.4,114.2 475.5,121.7 475.6,114.2 475.7,112.1 475.8,116.7 475.9,118.1 476.0,117.0 476.1,116.7 476.2,111.8 476.3,114.6 476.4,120.9 476.5,116.7 476.6,110.3 476.7,117.3 476.8,120.3 476.9,117.5 477.0,113.1 477.1,114.8 477.2,118.0 477.3,117.5 477.4,113.2 477.5,112.4 477.6,116.9 477.7,116.8 477.8,117.6 477.9,118.2 478.0,114.8 478.1,112.2 478.2,114.5 478.3,118.3 478.4,117.9 478.5,116.4 478.6,117.0 478.7,113.9 478.8,112.7 478.9,116.9 479.0,117.1 479.1,116.7 479.2,116.7 479.3,116.8 479.4,116.3 479.5,115.5 479.6,116.6 479.7,116.8 479.8,116.7 479.9,116.9 480.0,116.8 480.1,113.3 480.2,113.0 480.3,118.0 480.4,118.4 480.5,116.6 480.6,116.0 480.7,113.5 480.8,112.1 480.9,118.2 481.0,119.4 481.1,118.1 481.2,115.1 481.3,115.4 481.4,117.8 481.5,112.8 481.6,114.4 481.7,120.4 481.8,121.3 481.9,118.7 482.0,112.8 482.1,113.4 482.2,121.8 482.3,117.6 482.4,111.1 482.5,114.7 482.6,116.3 482.7,119.4 482.8,121.6 482.9,114.1 483.0,106.2 483.1,116.9 483.2,121.8 483.3,115.3 483.4,119.6 483.5,120.9 483.6,104.7 483.7,110.4 483.8,120.0 483.9,122.0 484.0,118.2 484.1,112.7 484.2,113.0 484.3,118.9 484.4,114.8 484.5,114.0 484.6,119.4 484.7,110.0 484.8,112.7 484.9,123.3 485.0,118.8 485.1,115.9 485.2,119.6 485.3,121.7 485.4,117.5 485.5,113.7 485.6,111.5 485.7,115.2 485.8,119.8 485.9,121.0 486.0,119.0 486.1,118.8 486.2,116.1 486.3,111.4 486.4,111.6 486.5,117.0 486.6,120.0 486.7,118.3 486.8,118.7 486.9,118.8 487.0,115.1 487.1,114.5 487.2,117.1 487.3,120.3 487.4,116.4 487.5,111.3 487.6,113.0 487.7,116.3 487.8,120.2 487.9,120.5 488.0,116.8 488.1,112.9 488.2,115.9 488.3,119.2 488.4,113.2 488.5,116.3 488.6,124.4 488.7,116.1 488.8,111.4 488.9,119.4 489.0,115.4 489.1,111.7 489.2,115.6 489.3,118.1 489.4,116.3 489.5,113.6 489.6,121.9 489.7,121.9 489.8,117.5 489.9,117.6 490.0,110.6 490.1,112.6 490.2,114.1 490.3,113.8 490.4,120.1 490.5,119.4 490.6,117.8 490.7,116.9 490.8,110.6 490.9,113.4 491.0,117.7 491.1,115.5 491.2,116.0 491.3,114.5 491.4,113.8 491.5,118.0 491.6,121.9 491.7,119.1 491.8,109.8 491.9,113.8 492.0,123.6 492.1,119.1 492.2,108.9 492.3,114.8 492.4,123.2 492.5,117.0 492.6,109.6 492.7,119.5 492.8,117.8 492.9,113.3 493.0,118.5 493.1,120.0 493.2,121.3 493.3,110.7 493.4,110.3 493.5,120.1 493.6,120.7 493.7,115.4 493.8,115.8 493.9,115.0 494.0,116.8 494.1,119.1 494.2,119.2 494.3,117.2 494.4,113.0 494.5,111.7 494.6,116.8 494.7,120.0 494.8,118.2 494.9,117.4 495.0,116.5 495.1,114.6 495.2,116.1 495.3,116.7 495.4,116.1 495.5,117.8 495.6,117.5 495.7,114.3 495.8,114.3 495.9,117.0 496.0,119.2 496.1,118.6 496.2,114.7 496.3,115.9 496.4,119.3 496.5,114.7 496.6,113.4 496.7,119.4 496.8,118.7 496.9,112.1 497.0,114.2 497.1,120.3 497.2,119.1 497.3,116.3 497.4,116.3 497.5,116.1 497.6,115.7 497.7,118.2 497.8,116.9 497.9,113.0 498.0,116.2 498.1,117.2 498.2,115.5 498.3,118.9 498.4,119.0 498.5,114.6 498.6,117.4 498.7,119.6 498.8,114.4 498.9,112.3 499.0,116.3 499.1,118.3 499.2,118.0 499.3,115.6 499.4,115.4 499.5,118.1 499.6,116.3 499.7,116.0 499.8,118.3 499.9,117.9 500.0,116.6 500.1,112.6 500.2,113.0 500.3,117.2 500.4,118.4 500.5,118.0 500.6,116.5 500.7,117.0 500.8,118.4 500.9,115.0 501.0,115.0 501.1,118.6 501.2,116.2 501.3,113.3 501.4,115.0 501.5,115.4 501.6,117.7 501.7,117.3 501.8,116.4 501.9,118.4 502.0,115.7 502.1,115.1 502.2,117.8 502.3,117.8 502.4,116.4 502.5,114.2 502.6,114.5 502.7,116.6 502.8,117.5 502.9,116.6 503.0,117.6 503.1,118.9 503.2,114.4 503.3,115.1 503.4,118.4 503.5,116.0 503.6,115.1 503.7,117.4 503.8,118.8 503.9,117.4 504.0,115.2 504.1,115.4 504.2,116.7 504.3,116.5 504.4,115.4 504.5,116.4 504.6,118.1 504.7,119.1 504.8,117.0 504.9,116.3 505.0,117.0 505.1,113.8 505.2,113.2 505.3,117.3 505.4,119.4 505.5,119.4 505.6,113.1 505.7,112.7 505.8,116.8 505.9,115.0 506.0,116.3 506.1,119.1 506.2,116.8 506.3,112.5 506.4,115.1 506.5,119.6 506.6,117.9 506.7,112.1 506.8,113.0 506.9,118.5 507.0,119.3 507.1,115.2 507.2,116.0 507.3,118.1 507.4,115.4 507.5,115.1 507.6,115.1 507.7,116.8 507.8,119.3 507.9,114.6 508.0,111.2 508.1,118.2 508.2,120.8 508.3,117.5 508.4,113.9 508.5,116.9 508.6,115.2 508.7,115.3 508.8,118.5 508.9,114.5 509.0,117.2 509.1,118.1 509.2,109.9 509.3,113.9 509.4,121.6 509.5,119.3 509.6,115.9 509.7,115.6 509.8,118.0 509.9,114.8 510.0,113.8 510.1,121.2 510.2,117.9 510.3,109.2 510.4,114.1 510.5,124.0 510.6,124.1 510.7,109.9 510.8,108.1 510.9,120.4 511.0,124.4 511.1,115.3 511.2,111.5 511.3,115.7 511.4,121.2 511.5,119.9 511.6,112.3 511.7,118.8 511.8,115.5 511.9,108.6 512.0,116.8 512.1,123.5 512.2,119.4 512.3,108.9 512.4,114.1 512.5,122.1 512.6,119.5 512.7,115.9 512.8,113.0 512.9,113.8 513.0,114.2 513.1,114.6 513.2,120.9 513.3,122.0 513.4,114.7 513.5,112.8 513.6,116.5 513.7,114.6 513.8,114.7 513.9,118.2 514.0,117.0 514.1,119.1 514.2,120.6 514.3,115.6 514.4,114.2 514.5,114.5 514.6,117.1 514.7,119.0 514.8,115.5 514.9,115.8 515.0,113.5 515.1,111.4 515.2,119.0 515.3,121.2 515.4,116.4 515.5,111.2 515.6,115.6 515.7,121.1 515.8,115.9 515.9,112.8 516.0,116.3 516.1,119.6 516.2,117.6 516.3,116.1 516.4,118.3 516.5,116.2 516.6,115.6 516.7,116.0 516.8,118.1 516.9,120.0 517.0,113.6 517.1,112.5 517.2,116.3 517.3,120.4 517.4,118.7 517.5,115.6 517.6,116.7 517.7,116.4 517.8,113.5 517.9,114.1 518.0,116.4 518.1,118.4 518.2,119.4 518.3,117.3 518.4,115.2 518.5,115.0 518.6,116.5 518.7,117.0 518.8,115.8 518.9,116.8 519.0,119.7 519.1,118.8 519.2,114.1 519.3,113.6 519.4,117.5 519.5,118.4 519.6,118.8 519.7,115.5 519.8,112.0 519.9,113.3 520.0,120.7 520.1,120.7 520.2,115.9 520.3,113.0 520.4,115.0 520.5,115.2 520.6,117.5 520.7,117.2 520.8,115.1 520.9,116.9 521.0,118.5 521.1,119.9 521.2,119.0 521.3,113.5 521.4,113.9 521.5,118.2 521.6,117.3 521.7,117.0 521.8,118.0 521.9,111.9 522.0,112.3 522.1,120.6 522.2,120.0 522.3,112.1 522.4,112.5 522.5,121.1 522.6,119.9 522.7,111.0 522.8,114.3 522.9,116.8 523.0,111.3 523.1,113.9 523.2,121.2 523.3,120.7 523.4,114.9 523.5,113.6 523.6,116.2 523.7,120.2 523.8,117.4 523.9,113.8 524.0,118.0 524.1,118.6 524.2,115.5 524.3,115.8 524.4,120.5 524.5,119.3 524.6,113.2 524.7,110.8 524.8,111.6 524.9,117.6 525.0,120.4 525.1,117.3 525.2,115.6 525.3,114.6 525.4,113.5 525.5,116.3 525.6,118.9 525.7,120.5 525.8,117.2 525.9,112.9 526.0,115.8 526.1,116.9 526.2,114.6 526.3,115.9 526.4,119.0 526.5,117.9 526.6,115.3 526.7,112.5 526.8,112.2 526.9,118.4 527.0,120.5 527.1,116.5 527.2,111.5 527.3,116.0 527.4,119.8 527.5,119.5 527.6,116.7 527.7,113.6 527.8,117.7 527.9,118.9 528.0,114.4 528.1,111.8 528.2,113.9 528.3,119.6 528.4,120.1 528.5,115.0 528.6,111.9 528.7,114.1 528.8,120.0 528.9,120.0 529.0,112.1 529.1,113.5 529.2,119.4 529.3,118.4 529.4,117.4 529.5,113.8 529.6,112.2 529.7,117.2 529.8,117.8 529.9,117.6 530.0,118.4 530.1,115.5 530.2,112.5 530.3,116.3 530.4,118.4 530.5,116.9 530.6,114.9 530.7,116.0 530.8,118.3 530.9,116.9 531.0,114.2 531.1,115.9 531.2,116.1 531.3,116.6 531.4,118.8 531.5,117.9 531.6,113.0 531.7,113.8 531.8,115.3 531.9,115.7 532.0,118.0 532.1,117.3 532.2,116.5 532.3,118.2 532.4,116.3 532.5,114.3 532.6,118.1 532.7,118.2 532.8,115.6 532.9,115.5 533.0,116.8 533.1,116.1 533.2,116.1 533.3,117.5 533.4,116.7 533.5,117.3 533.6,118.0 533.7,115.0 533.8,114.0 533.9,117.7 534.0,118.4 534.1,115.5 534.2,116.0 534.3,117.3 534.4,115.8 534.5,114.4 534.6,116.8 534.7,118.3 534.8,116.6 534.9,115.4 535.0,117.6 535.1,117.4 535.2,115.4 535.3,116.2 535.4,117.2 535.5,116.0 535.6,116.1 535.7,117.1 535.8,116.9 535.9,117.2 536.0,116.6 536.1,115.8 536.2,117.2 536.3,117.3 536.4,116.0 536.5,116.7 536.6,117.0 536.7,116.7 536.8,116.3 536.9,115.8 537.0,116.9 537.1,118.1 537.2,117.2 537.3,115.1 537.4,115.9 537.5,117.0 537.6,115.4 537.7,117.0 537.8,118.9 537.9,115.1 538.0,114.1 538.1,117.5 538.2,119.0 538.3,115.2 538.4,113.9 538.5,117.5 538.6,119.2 538.7,116.9 538.8,115.7 538.9,117.3 539.0,116.9 539.1,115.3 539.2,115.2 539.3,116.5 539.4,119.0 539.5,117.9 539.6,115.8 539.7,116.9 539.8,116.8 539.9,116.1 540.0,116.5 540.1,115.8 540.2,116.2 540.3,119.2 540.4,117.5 540.5,114.8 540.6,116.2 540.7,115.1 540.8,116.2 540.9,118.9 541.0,116.2 541.1,113.2 541.2,117.4 541.3,119.9 541.4,116.3 541.5,113.0 541.6,116.0 541.7,119.3 541.8,116.8 541.9,115.1 542.0,117.3 542.1,117.3 542.2,116.2 542.3,117.8 542.4,116.4 542.5,112.9 542.6,115.5 542.7,119.1 542.8,117.8 542.9,118.6 543.0,119.3 543.1,113.7 543.2,112.8 543.3,117.0 543.4,116.4 543.5,116.1 543.6,118.8 543.7,120.1 543.8,117.2 543.9,112.8 544.0,113.5 544.1,117.9 544.2,119.0 544.3,114.1 544.4,113.4 544.5,118.1 544.6,117.3 544.7,115.2 544.8,117.2 544.9,119.0 545.0,117.8 545.1,115.9 545.2,116.2 545.3,115.1 545.4,113.3 545.5,117.1 545.6,120.2 545.7,117.6 545.8,113.5 545.9,117.6 546.0,120.3 546.1,115.1 546.2,112.3 546.3,114.5 546.4,116.1 546.5,119.6 546.6,119.8 546.7,115.2 546.8,114.0 546.9,116.7 547.0,118.5 547.1,116.5 547.2,114.2 547.3,117.7 547.4,117.0 547.5,114.7 547.6,117.8 547.7,117.5 547.8,113.9 547.9,115.6 548.0,119.8 548.1,119.0 548.2,115.7 548.3,113.9 548.4,116.8 548.5,118.4 548.6,116.3 548.7,115.6 548.8,115.6 548.9,114.7 549.0,116.4 549.1,118.2 549.2,117.2 549.3,115.9 549.4,116.0 549.5,116.1 549.6,116.6 549.7,116.6 549.8,116.7 549.9,118.2 550.0,117.6 550.1,115.3 550.2,115.5 550.3,115.8 550.4,117.5 550.5,119.3 550.6,116.6 550.7,113.6 550.8,116.5 550.9,118.0 551.0,115.6 551.1,115.4 551.2,117.0 551.3,118.8 551.4,118.3 551.5,115.6 551.6,115.5 551.7,116.3 551.8,116.1 551.9,116.5 552.0,116.6 552.1,117.2 552.2,118.3 552.3,117.2 552.4,114.5 552.5,115.3 552.6,117.9 552.7,117.3 552.8,116.5 552.9,116.6 553.0,116.1 553.1,116.7 553.2,116.3 553.3,116.0 553.4,118.1 553.5,118.8 553.6,117.0 553.7,114.5 553.8,114.8 553.9,116.5 554.0,117.8 554.1,117.4 554.2,115.5 554.3,115.7 554.4,118.0 554.5,118.4 554.6,116.2 554.7,114.5 554.8,117.0 554.9,117.9 555.0,116.1 555.1,116.0 555.2,117.1 555.3,117.1 555.4,115.2 555.5,115.9 555.6,117.3 555.7,117.0 555.8,116.8 555.9,117.0 556.0,115.4 556.1,114.9 556.2,118.6 556.3,119.1 556.4,117.1 556.5,115.9 556.6,114.4 556.7,115.4 556.8,118.5 556.9,118.5 557.0,115.4 557.1,113.9 557.2,115.7 557.3,118.2 557.4,115.9 557.5,116.1 557.6,118.3 557.7,116.5 557.8,115.1 557.9,116.8 558.0,117.9 558.1,117.2 558.2,116.6 558.3,116.6 558.4,117.4 558.5,117.1 558.6,115.6 558.7,114.5 558.8,116.5 558.9,119.4 559.0,119.4 559.1,113.7 559.2,113.7 559.3,118.7 559.4,119.4 559.5,115.1 559.6,114.6 559.7,116.0 559.8,116.4 559.9,116.1 560.0,117.0 560.1,117.9 560.2,116.9 560.3,114.9 560.4,115.1 560.5,119.6 560.6,119.6 560.7,116.7 560.8,113.9 560.9,113.9 561.0,116.8 561.1,118.6 561.2,116.8 561.3,115.5 561.4,117.8 561.5,115.0 561.6,115.7 561.7,119.7 561.8,117.5 561.9,113.6 562.0,116.2 562.1,118.5 562.2,117.4 562.3,116.2 562.4,114.6 562.5,115.1 562.6,117.9 562.7,118.4 562.8,116.5 562.9,115.5 563.0,116.4 563.1,117.5 563.2,117.5 563.3,117.2 563.4,115.4 563.5,114.9 563.6,118.0 563.7,118.2 563.8,115.2 563.9,116.6 564.0,118.1 564.1,116.1 564.2,115.2 564.3,116.6 564.4,118.4 564.5,117.7 564.6,114.8 564.7,114.9 564.8,117.8 564.9,119.1 565.0,117.5 565.1,114.1 565.2,115.1 565.3,118.1 565.4,116.5 565.5,115.6 565.6,118.4 565.7,117.8 565.8,114.3 565.9,114.8 566.0,118.7 566.1,118.2 566.2,115.1 566.3,115.6 566.4,117.4 566.5,117.8 566.6,116.3 566.7,115.0 566.8,115.5 566.9,117.0 567.0,117.3 567.1,117.1 567.2,117.5 567.3,117.0 567.4,116.1 567.5,116.5 567.6,117.0 567.7,117.2 567.8,116.6 567.9,116.0 568.0,116.0 568.1,116.5 568.2,116.8 568.3,116.1 568.4,116.4 568.5,117.5 568.6,117.8 568.7,116.9 568.8,115.8 568.9,115.7 569.0,116.1 569.1,116.6 569.2,118.2 569.3,116.9 569.4,114.9 569.5,116.3 569.6,118.2 569.7,117.7 569.8,114.9 569.9,114.9 570.0,116.8 570.1,118.1 570.2,118.2 570.3,116.0 570.4,115.1 570.5,117.9 570.6,117.1 570.7,115.0 570.8,115.8 570.9,117.7 571.0,117.2 571.1,115.6 571.2,115.9 571.3,116.5 571.4,116.9 571.5,117.2 571.6,117.1 571.7,116.2 571.8,115.4 571.9,116.5 572.0,118.3 572.1,118.2 572.2,115.4 572.3,114.8 572.4,117.2 572.5,118.1 572.6,117.1 572.7,115.4 572.8,114.9 572.9,116.3 573.0,117.5 573.1,117.4 573.2,116.3 573.3,116.2 573.4,117.2 573.5,116.9 573.6,115.3 573.7,116.5 573.8,117.8 573.9,117.3 574.0,117.4 574.1,116.2 574.2,114.8 574.3,115.6 574.4,117.4 574.5,118.5 574.6,117.2 574.7,114.6 574.8,114.9 574.9,118.4 575.0,118.2 575.1,116.2 575.2,116.1 575.3,115.9 575.4,116.1 575.5,118.1 575.6,117.7 575.7,115.2 575.8,115.8 575.9,117.5 576.0,117.0 576.1,115.5 576.2,115.9 576.3,117.7 576.4,117.6 576.5,116.7 576.6,116.1 576.7,115.1 576.8,117.7 576.9,118.6 577.0,115.0 577.1,114.5 577.2,116.9 577.3,118.6 577.4,117.4 577.5,117.8 577.6,117.2 577.7,115.0 577.8,115.5 577.9,117.0 578.0,116.5 578.1,116.1 578.2,117.6 578.3,117.5 578.4,115.9 578.5,115.8 578.6,116.1 578.7,116.8 578.8,117.1 578.9,116.8 579.0,116.0 579.1,114.9 579.2,116.0 579.3,117.5 579.4,117.7 579.5,116.8 579.6,115.8 579.7,117.5 579.8,118.3 579.9,115.1 580.0,115.2 580.1,117.9 580.2,116.2 580.3,115.4 580.4,117.9 580.5,118.6 580.6,116.4 580.7,114.6 580.8,115.5 580.9,116.8 581.0,117.4 581.1,115.9 581.2,115.5 581.3,117.6 581.4,117.0 581.5,116.1 581.6,117.0 581.7,117.2 581.8,117.4 581.9,116.9 582.0,115.8 582.1,115.6 582.2,116.1 582.3,116.7 582.4,117.2 582.5,117.2 582.6,116.9 582.7,116.8 582.8,116.3 582.9,115.8 583.0,117.4 583.1,117.6 583.2,115.2 583.3,116.2 583.4,118.2 583.5,117.4 583.6,116.6 583.7,116.9 583.8,115.6 583.9,115.7 584.0,117.5 584.1,115.8 584.2,114.8 584.3,117.6 584.4,118.5 584.5,116.4 584.6,114.6 584.7,116.8 584.8,118.5 584.9,117.7 585.0,116.5 585.1,115.6 585.2,115.4 585.3,116.2 585.4,116.8 585.5,117.9 585.6,117.0 585.7,115.4 585.8,115.8 585.9,116.5 586.0,117.4 586.1,117.2 586.2,116.9 586.3,117.7 586.4,116.6 586.5,115.2 586.6,117.0 586.7,116.8 586.8,115.1 586.9,116.3 587.0,117.8 587.1,117.5 587.2,116.6 587.3,115.8 587.4,114.6 587.5,115.8 587.6,118.3 587.7,117.0 587.8,114.7 587.9,115.8 588.0,117.8 588.1,117.3 588.2,116.0 588.3,116.8 588.4,117.1 588.5,116.3 588.6,116.2 588.7,117.2 588.8,117.1 588.9,115.9 589.0,116.0 589.1,116.9 589.2,117.2 589.3,116.4 589.4,115.9 589.5,115.0 589.6,115.5 589.7,118.2 589.8,118.2 589.9,115.3 590.0,115.3 590.1,117.1 590.2,117.5 590.3,117.2 590.4,115.6 590.5,114.7 590.6,117.3 590.7,118.2 590.8,116.0 590.9,114.7 591.0,116.8 591.1,118.2 591.2,117.3 591.3,115.7 591.4,116.2 591.5,116.4 591.6,116.0 591.7,116.0 591.8,117.1 591.9,117.1 592.0,116.3 592.1,117.7 592.2,118.1 592.3,115.5 592.4,114.8 592.5,116.2 592.6,118.1 592.7,117.7 592.8,117.0 592.9,116.5 593.0,114.8 593.1,115.6 593.2,116.8 593.3,115.9 593.4,117.5 593.5,117.4 593.6,115.5 593.7,117.2 593.8,117.3 593.9,115.9 594.0,116.5 594.1,115.9 594.2,116.3 594.3,117.5 594.4,116.7 594.5,115.3 594.6,116.3 594.7,116.7 594.8,116.5 594.9,117.9 595.0,117.7 595.1,116.2 595.2,114.9 595.3,115.5 595.4,117.6 595.5,117.5 595.6,116.6 595.7,116.8 595.8,116.4 595.9,116.1 596.0,117.1 596.1,116.2 596.2,114.9 596.3,117.5 596.4,117.9 596.5,115.7 596.6,115.9 596.7,116.2 596.8,116.2 596.9,117.3 597.0,117.3 597.1,115.1 597.2,115.2 597.3,117.7 597.4,117.7 597.5,115.9 597.6,116.0 597.7,117.0 597.8,116.7 597.9,116.8 598.0,116.7 598.1,115.7 598.2,116.0 598.3,117.0 598.4,116.7 598.5,116.8 598.6,116.8 598.7,116.3 598.8,116.4 598.9,116.2 599.0,117.4 599.1,117.8 599.2,115.8 599.3,115.0 599.4,116.4 599.5,117.6 599.6,116.6 599.7,116.6 599.8,117.2 599.9,116.6 600.0,115.7 600.1,116.7 600.2,117.0 600.3,115.3 600.4,116.3 600.5,117.8 600.6,117.0 600.7,116.1 600.8,116.6 600.9,116.9 601.0,116.8 601.1,116.0 601.2,116.4 601.3,116.6 601.4,116.2 601.5,117.1 601.6,117.0 601.7,116.1 601.8,116.4 601.9,116.5 602.0,116.2 602.1,116.7 602.2,116.9 602.3,116.7 602.4,116.5 602.5,117.0 602.6,117.0 602.7,116.8 602.8,117.0 602.9,116.3 603.0,115.9 603.1,116.3 603.2,115.8 603.3,116.3 603.4,117.6 603.5,117.1 603.6,116.0 603.7,116.9 603.8,117.1 603.9,115.9 604.0,116.4 604.1,117.5 604.2,116.9 604.3,116.0 604.4,115.9 604.5,116.5 604.6,117.3 604.7,116.4 604.8,115.5 604.9,116.3 605.0,115.9 605.1,116.4 605.2,117.6 605.3,117.0 605.4,115.7 605.5,117.0 605.6,117.0 605.7,115.9 605.8,116.0 605.9,116.8 606.0,116.9 606.1,116.2 606.2,115.8 606.3,117.0 606.4,117.6 606.5,116.3 606.6,115.3 606.7,116.3 606.8,117.2 606.9,116.8 607.0,116.0 607.1,116.8 607.2,117.2 607.3,116.3 607.4,115.7 607.5,117.0 607.6,117.2 607.7,116.0 607.8,116.1 607.9,117.2 608.0,117.1 608.1,116.6 608.2,116.8 608.3,116.8 608.4,115.9 608.5,116.1 608.6,116.5 608.7,116.7 608.8,116.5 608.9,115.9 609.0,116.9 609.1,117.4 609.2,116.8 609.3,116.2 609.4,116.1 609.5,116.8 609.6,116.7 609.7,116.4 609.8,116.8 609.9,116.9 610.0,116.7 610.1,116.4 610.2,116.2 610.3,116.1 610.4,117.1 610.5,117.5 610.6,115.7 610.7,115.5 610.8,116.7 610.9,116.8 611.0,117.4 611.1,117.5 611.2,116.5 611.3,115.5 611.4,116.2 611.5,117.0 611.6,116.6 611.7,116.1 611.8,116.6 611.9,117.2 612.0,116.7 612.1,115.7 612.2,116.8 612.3,117.4 612.4,116.7 612.5,115.9 612.6,116.0 612.7,116.5 612.8,116.7 612.9,116.8 613.0,116.8 613.1,116.3 613.2,116.7 613.3,117.0 613.4,116.7 613.5,116.6 613.6,116.7 613.7,116.2 613.8,116.0 613.9,116.7 614.0,116.6 614.1,116.7 614.2,116.6 614.3,116.4 614.4,116.9 614.5,116.5 614.6,116.1 614.7,117.0 614.8,117.2 614.9,116.7 615.0,116.1 615.1,116.6 615.2,117.1 615.3,116.3 615.4,115.7 615.5,116.7 615.6,117.3 615.7,116.9 615.8,116.5 615.9,116.2 616.0,116.3 616.1,116.9 616.2,117.0 616.3,116.3 616.4,116.1 616.5,117.0 616.6,117.0 616.7,116.4 616.8,116.6 616.9,116.7 617.0,116.2 617.1,116.7 617.2,117.0 617.3,116.7 617.4,116.7 617.5,116.0 617.6,116.3 617.7,117.3 617.8,117.0 617.9,115.8 618.0,115.9 618.1,116.9 618.2,116.8 618.3,116.2 618.4,117.0 618.5,117.1 618.6,116.4 618.7,116.4 618.8,116.6 618.9,117.0 619.0,116.8 619.1,116.2 619.2,116.4 619.3,116.5 619.4,116.6 619.5,116.7 619.6,116.9 619.7,116.9 619.8,116.7 619.9,116.2 620.0,116.1 620.1,116.7 620.2,117.0 620.3,116.4 620.4,116.4 620.5,116.8 620.6,116.4 620.7,117.0 620.8,117.0 620.9,115.9 621.0,116.2 621.1,117.2 621.2,116.7 621.3,116.2 621.4,116.5 621.5,116.5 621.6,116.4 621.7,116.5 621.8,117.0 621.9,116.8 622.0,116.6 622.1,116.8 622.2,116.7 622.3,116.6 622.4,116.1 622.5,115.9 622.6,116.7 622.7,117.2 622.8,117.2 622.9,116.2 623.0,115.9 623.1,116.4 623.2,116.4 623.3,116.8 623.4,117.2 623.5,116.4 623.6,116.4 623.7,117.1 623.8,116.8 623.9,115.9 624.0,116.0 624.1,117.1 624.2,117.2 624.3,116.6 624.4,116.6 624.5,116.5 624.6,116.3 624.7,116.4 624.8,116.8 624.9,117.0 625.0,116.5 625.1,116.0 625.2,116.8 625.3,117.1 625.4,116.4 625.5,116.3 625.6,116.7 625.7,116.7 625.8,116.7 625.9,116.7 626.0,116.1 626.1,116.0 626.2,117.0 626.3,117.1 626.4,116.8 626.5,116.5 626.6,116.3 626.7,116.2 626.8,116.8 626.9,117.1 627.0,116.9 627.1,116.0 627.2,116.2 627.3,116.9 627.4,116.6 627.5,116.2 627.6,116.9 627.7,117.0 627.8,116.2 627.9,116.4 628.0,116.8 628.1,116.6 628.2,116.8 628.3,116.8 628.4,116.6 628.5,116.7 628.6,116.8 628.7,116.3 628.8,116.1 628.9,116.6 629.0,117.0 629.1,116.8 629.2,116.4 629.3,116.6 629.4,116.6 629.5,116.2 629.6,116.3 629.7,116.6 629.8,117.0 629.9,117.1 630.0,116.5 630.1,116.3 630.2,116.9 630.3,116.8 630.4,116.3 630.5,116.5 630.6,116.7 630.7,116.8 630.8,116.9 630.9,116.5 631.0,116.2 631.1,116.1 631.2,116.6 631.3,117.1 631.4,116.8 631.5,116.3 631.6,116.5 631.7,116.9 631.8,116.6 631.9,116.1 632.0,116.5 632.1,116.9 632.2,116.7 632.3,116.4 632.4,116.8 632.5,117.1 632.6,116.5 632.7,116.2 632.8,116.6 632.9,116.5 633.0,116.3 633.1,116.6 633.2,116.9 633.3,116.8 633.4,116.4 633.5,116.4 633.6,116.9 633.7,116.7 633.8,116.4 633.9,116.7 634.0,116.6 634.1,116.6 634.2,116.8 634.3,116.5 634.4,116.4 634.5,116.7 634.6,116.7 634.7,116.6 634.8,116.5 634.9,116.5 635.0,116.7 635.1,116.7 635.2,116.4 635.3,116.7 635.4,116.8 635.5,116.1 635.6,116.4 635.7,117.1 635.8,116.8 635.9,116.1 636.0,116.4 636.1,117.0 636.2,117.0 636.3,116.7 636.4,116.4 636.5,116.3 636.6,116.5 636.7,116.8 636.8,116.6 636.9,116.6 637.0,117.0 637.1,116.7 637.2,116.3 637.3,116.6 637.4,116.7 637.5,116.6 637.6,116.6 637.7,116.7 637.8,116.5 637.9,116.2 638.0,116.6 638.1,117.0 638.2,116.9 638.3,116.5 638.4,116.4 638.5,116.6 638.6,116.9 638.7,116.5 638.8,116.2 638.9,116.5 639.0,116.7 639.1,116.8 639.2,116.9 639.3,116.7 639.4,116.6 639.5,116.5 639.6,116.5 639.7,116.3 639.8,116.5 639.9,116.9 640.0,116.8 640.1,116.5 640.2,116.6 640.3,116.4 640.4,116.6 640.5,116.9 640.6,116.5 640.7,116.2 640.8,116.9 640.9,117.0 641.0,116.7 641.1,116.3 641.2,116.3 641.3,116.4 641.4,116.9 641.5,117.0 641.6,116.6 641.7,116.2 641.8,116.4 641.9,116.8 642.0,117.0 642.1,117.0 642.2,116.2 642.3,116.3 642.4,117.0 642.5,116.7 642.6,116.4 642.7,116.9 642.8,116.6 642.9,116.2 643.0,116.5 643.1,116.7 643.2,116.7 643.3,116.4 643.4,116.2 643.5,116.7 643.6,117.0 643.7,117.0 643.8,116.5" fill="none" stroke="#0000ff" stroke-width="0.65" stroke-linejoin="bevel"/>
<line x1="68" y1="340.10" x2="643.5" y2="340.10" stroke="#0000ff" stroke-width="0.9"/><polyline points="68.0,339.8 68.1,339.9 68.2,340.5 68.3,340.6 68.4,339.7 68.5,339.6 68.6,340.2 68.7,340.1 68.8,340.1 68.9,340.2 69.0,339.9 69.1,340.0 69.2,340.3 69.3,340.3 69.4,340.0 69.5,339.9 69.6,340.0 69.7,340.1 69.8,340.3 69.9,340.2 70.0,340.0 70.1,339.9 70.2,340.0 70.3,340.2 70.4,340.5 70.5,339.7 70.6,339.6 70.7,340.4 70.8,340.6 70.9,340.4 71.0,339.8 71.1,339.9 71.2,339.9 71.3,340.0 71.4,340.1 71.5,340.2 71.6,340.0 71.7,339.9 71.8,340.4 71.9,340.5 72.0,339.8 72.1,339.6 72.2,340.2 72.3,340.6 72.4,340.2 72.5,339.8 72.6,339.8 72.7,340.1 72.8,340.5 72.9,339.8 73.0,339.8 73.1,340.6 73.2,340.2 73.3,339.9 73.4,340.2 73.5,340.0 73.6,339.6 73.7,340.0 73.8,340.5 73.9,340.3 74.0,339.9 74.1,340.0 74.2,340.3 74.3,340.0 74.4,339.7 74.5,340.1 74.6,340.6 74.7,340.6 74.8,339.9 74.9,339.7 75.0,339.8 75.1,340.2 75.2,340.4 75.3,339.9 75.4,340.0 75.5,340.6 75.6,340.4 75.7,339.6 75.8,339.8 75.9,340.1 76.0,340.4 76.1,340.2 76.2,339.8 76.3,340.0 76.4,340.3 76.5,340.3 76.6,340.3 76.7,340.0 76.8,339.9 76.9,340.1 77.0,340.0 77.1,340.0 77.2,340.2 77.3,340.3 77.4,340.1 77.5,339.9 77.6,340.1 77.7,340.2 77.8,340.1 77.9,340.2 78.0,340.5 78.1,340.2 78.2,339.9 78.3,340.1 78.4,339.9 78.5,339.6 78.6,340.2 78.7,340.3 78.8,339.9 78.9,340.1 79.0,340.1 79.1,340.0 79.2,340.3 79.3,340.4 79.4,339.9 79.5,340.1 79.6,340.4 79.7,339.7 79.8,339.7 79.9,340.2 80.0,340.4 80.1,340.3 80.2,340.1 80.3,339.8 80.4,339.8 80.5,340.2 80.6,340.2 80.7,340.2 80.8,340.4 80.9,340.3 81.0,340.1 81.1,339.7 81.2,339.8 81.3,340.3 81.4,340.4 81.5,340.1 81.6,339.7 81.7,339.9 81.8,340.2 81.9,340.4 82.0,340.3 82.1,340.0 82.2,339.9 82.3,340.1 82.4,340.3 82.5,340.2 82.6,340.1 82.7,339.9 82.8,339.9 82.9,340.1 83.0,340.3 83.1,340.1 83.2,340.2 83.3,340.2 83.4,340.1 83.5,340.2 83.6,340.1 83.7,339.8 83.8,339.8 83.9,340.2 84.0,340.4 84.1,340.1 84.2,340.2 84.3,340.4 84.4,340.0 84.5,340.0 84.6,340.2 84.7,339.9 84.8,339.8 84.9,340.2 85.0,340.4 85.1,340.0 85.2,340.1 85.3,340.3 85.4,339.7 85.5,339.9 85.6,340.5 85.7,340.4 85.8,340.2 85.9,339.7 86.0,339.7 86.1,340.4 86.2,340.5 86.3,340.2 86.4,340.0 86.5,339.7 86.6,339.9 86.7,340.1 86.8,340.2 86.9,340.6 87.0,340.1 87.1,339.6 87.2,340.2 87.3,340.6 87.4,339.9 87.5,339.6 87.6,340.2 87.7,340.3 87.8,340.0 87.9,340.3 88.0,340.3 88.1,340.0 88.2,340.1 88.3,340.2 88.4,339.7 88.5,339.7 88.6,340.6 88.7,340.6 88.8,340.0 88.9,339.6 89.0,339.9 89.1,340.3 89.2,340.2 89.3,339.9 89.4,339.9 89.5,340.3 89.6,340.4 89.7,339.8 89.8,340.0 89.9,340.5 90.0,339.7 90.1,339.6 90.2,340.6 90.3,340.6 90.4,339.8 90.5,339.6 90.6,340.4 90.7,340.5 90.8,339.9 90.9,340.4 91.0,340.5 91.1,339.6 91.2,339.6 91.3,340.1 91.4,340.2 91.5,340.2 91.6,340.4 91.7,340.0 91.8,339.9 91.9,340.5 92.0,340.4 92.1,339.9 92.2,339.9 92.3,339.9 92.4,339.8 92.5,340.1 92.6,340.6 92.7,340.6 92.8,340.1 92.9,339.8 93.0,339.9 93.1,340.0 93.2,340.2 93.3,340.2 93.4,340.5 93.5,340.3 93.6,339.6 93.7,339.6 93.8,340.4 93.9,340.3 94.0,340.1 94.1,340.2 94.2,340.0 94.3,340.1 94.4,340.2 94.5,340.1 94.6,340.0 94.7,340.2 94.8,340.4 94.9,340.2 95.0,340.1 95.1,340.2 95.2,340.0 95.3,339.7 95.4,339.9 95.5,340.2 95.6,340.3 95.7,340.2 95.8,339.7 95.9,340.0 96.0,340.5 96.1,339.7 96.2,339.7 96.3,340.6 96.4,340.3 96.5,339.9 96.6,340.3 96.7,340.4 96.8,340.2 96.9,340.1 97.0,339.8 97.1,339.7 97.2,340.1 97.3,340.2 97.4,339.9 97.5,339.9 97.6,340.4 97.7,340.6 97.8,340.4 97.9,339.7 98.0,339.6 98.1,339.9 98.2,340.4 98.3,340.5 98.4,339.7 98.5,339.6 98.6,340.2 98.7,340.5 98.8,340.3 98.9,339.7 99.0,339.9 99.1,340.3 99.2,340.0 99.3,339.8 99.4,340.1 99.5,340.3 99.6,340.6 99.7,340.6 99.8,339.6 99.9,339.6 100.0,340.4 100.1,340.3 100.2,339.9 100.3,340.2 100.4,340.3 100.5,340.1 100.6,339.9 100.7,340.2 100.8,340.1 100.9,339.7 101.0,340.2 101.1,340.6 101.2,340.2 101.3,339.7 101.4,339.9 101.5,340.2 101.6,340.4 101.7,340.2 101.8,340.0 101.9,339.9 102.0,339.6 102.1,340.0 102.2,340.6 102.3,340.5 102.4,339.9 102.5,339.9 102.6,340.2 102.7,340.1 102.8,339.7 102.9,339.9 103.0,340.4 103.1,340.1 103.2,340.0 103.3,340.5 103.4,340.0 103.5,339.6 103.6,340.0 103.7,340.2 103.8,340.2 103.9,340.3 104.0,340.2 104.1,340.1 104.2,340.2 104.3,340.2 104.4,339.9 104.5,339.9 104.6,340.1 104.7,339.9 104.8,340.5 104.9,340.6 105.0,340.0 105.1,339.6 105.2,340.0 105.3,340.5 105.4,340.4 105.5,339.9 105.6,339.8 105.7,340.0 105.8,340.1 105.9,340.3 106.0,340.3 106.1,339.9 106.2,339.8 106.3,340.4 106.4,340.6 106.5,339.9 106.6,339.6 106.7,340.0 106.8,340.4 106.9,340.3 107.0,340.1 107.1,339.8 107.2,339.7 107.3,340.0 107.4,340.4 107.5,340.3 107.6,340.5 107.7,340.3 107.8,339.6 107.9,340.0 108.0,340.4 108.1,339.8 108.2,339.9 108.3,340.4 108.4,340.0 108.5,339.8 108.6,340.4 108.7,340.5 108.8,339.8 108.9,340.0 109.0,340.6 109.1,340.0 109.2,339.7 109.3,340.1 109.4,340.1 109.5,340.2 109.6,340.4 109.7,340.0 109.8,339.8 109.9,340.3 110.0,340.2 110.1,339.9 110.2,340.1 110.3,340.2 110.4,340.4 110.5,340.3 110.6,339.9 110.7,340.3 110.8,340.1 110.9,339.6 111.0,340.0 111.1,340.4 111.2,340.3 111.3,340.1 111.4,340.0 111.5,340.2 111.6,339.8 111.7,339.9 111.8,340.4 111.9,340.4 112.0,340.0 112.1,339.6 112.2,339.8 112.3,340.5 112.4,340.6 112.5,340.2 112.6,339.9 112.7,340.1 112.8,340.4 112.9,340.3 113.0,339.8 113.1,339.6 113.2,340.3 113.3,340.3 113.4,340.1 113.5,340.3 113.6,340.4 113.7,340.1 113.8,339.7 113.9,340.1 114.0,340.3 114.1,340.0 114.2,340.0 114.3,340.1 114.4,340.2 114.5,340.3 114.6,339.9 114.7,339.8 114.8,340.4 114.9,340.5 115.0,340.1 115.1,339.7 115.2,339.6 115.3,340.1 115.4,340.3 115.5,340.2 115.6,340.0 115.7,339.9 115.8,340.3 115.9,340.3 116.0,340.1 116.1,340.1 116.2,340.0 116.3,339.9 116.4,339.9 116.5,340.0 116.6,340.2 116.7,340.4 116.8,340.4 116.9,340.0 117.0,339.7 117.1,340.2 117.2,340.3 117.3,339.9 117.4,340.1 117.5,340.3 117.6,339.8 117.7,339.8 117.8,340.6 117.9,340.4 118.0,339.7 118.1,340.0 118.2,340.5 118.3,340.1 118.4,339.8 118.5,340.1 118.6,340.0 118.7,339.9 118.8,340.2 118.9,340.0 119.0,340.1 119.1,340.4 119.2,340.3 119.3,339.7 119.4,340.0 119.5,340.6 119.6,340.4 119.7,339.6 119.8,339.6 119.9,340.1 120.0,340.5 120.1,340.4 120.2,339.8 120.3,340.0 120.4,340.4 120.5,339.8 120.6,339.7 120.7,340.4 120.8,340.4 120.9,340.0 121.0,339.8 121.1,340.3 121.2,340.5 121.3,340.0 121.4,339.9 121.5,339.8 121.6,339.9 121.7,340.3 121.8,340.3 121.9,339.8 122.0,339.8 122.1,340.2 122.2,340.3 122.3,340.0 122.4,340.0 122.5,340.3 122.6,340.4 122.7,340.0 122.8,340.1 122.9,340.3 123.0,340.3 123.1,339.8 123.2,339.6 123.3,340.1 123.4,340.6 123.5,340.2 123.6,339.9 123.7,339.9 123.8,340.2 123.9,340.2 124.0,340.0 124.1,340.1 124.2,340.5 124.3,340.4 124.4,339.8 124.5,339.7 124.6,340.2 124.7,340.4 124.8,340.2 124.9,339.9 125.0,339.7 125.1,340.2 125.2,340.4 125.3,339.8 125.4,339.7 125.5,340.1 125.6,340.3 125.7,340.4 125.8,340.2 125.9,340.1 126.0,340.1 126.1,340.1 126.2,340.2 126.3,340.1 126.4,339.8 126.5,339.9 126.6,340.5 126.7,340.6 126.8,339.7 126.9,339.6 127.0,340.0 127.1,340.0 127.2,340.5 127.3,340.6 127.4,339.9 127.5,339.6 127.6,340.4 127.7,340.3 127.8,339.8 127.9,340.4 128.0,340.1 128.1,339.9 128.2,340.4 128.3,339.9 128.4,339.6 128.5,340.3 128.6,340.4 128.7,340.0 128.8,340.4 128.9,340.3 129.0,339.6 129.1,339.8 129.2,340.6 129.3,340.4 129.4,339.6 129.5,339.9 129.6,340.5 129.7,340.3 129.8,339.8 129.9,339.8 130.0,340.3 130.1,340.6 130.2,340.1 130.3,340.0 130.4,339.6 130.5,339.6 130.6,340.4 130.7,340.6 130.8,339.9 130.9,339.9 131.0,340.5 131.1,340.2 131.2,339.6 131.3,340.0 131.4,340.5 131.5,340.3 131.6,340.1 131.7,339.9 131.8,340.1 131.9,340.3 132.0,340.1 132.1,340.2 132.2,339.9 132.3,339.6 132.4,340.3 132.5,340.5 132.6,340.0 132.7,339.8 132.8,340.1 132.9,340.2 133.0,340.2 133.1,339.9 133.2,339.9 133.3,340.3 133.4,340.2 133.5,340.1 133.6,340.2 133.7,340.1 133.8,339.8 133.9,340.1 134.0,340.6 134.1,340.3 134.2,339.6 134.3,339.7 134.4,340.6 134.5,340.6 134.6,339.6 134.7,339.6 134.8,340.0 134.9,340.2 135.0,340.5 135.1,340.0 135.2,339.8 135.3,340.6 135.4,340.5 135.5,339.6 135.6,339.7 135.7,340.5 135.8,340.1 135.9,339.6 136.0,340.2 136.1,340.6 136.2,340.3 136.3,339.9 136.4,339.7 136.5,340.3 136.6,340.3 136.7,339.7 136.8,340.1 136.9,340.3 137.0,339.9 137.1,340.0 137.2,340.1 137.3,339.9 137.4,340.2 137.5,340.5 137.6,340.2 137.7,340.0 137.8,340.0 137.9,340.3 138.0,340.3 138.1,339.6 138.2,339.7 138.3,340.5 138.4,340.1 138.5,340.2 138.6,340.6 138.7,340.0 138.8,339.9 138.9,340.4 139.0,340.3 139.1,339.8 139.2,339.7 139.3,340.1 139.4,340.1 139.5,340.1 139.6,340.1 139.7,340.2 139.8,340.2 139.9,340.3 140.0,340.0 140.1,340.0 140.2,340.2 140.3,339.6 140.4,339.6 140.5,340.6 140.6,340.4 140.7,339.9 140.8,340.2 140.9,340.3 141.0,340.0 141.1,340.0 141.2,340.1 141.3,339.9 141.4,340.4 141.5,340.5 141.6,339.8 141.7,339.9 141.8,340.2 141.9,339.9 142.0,340.3 142.1,340.4 142.2,339.9 142.3,340.2 142.4,340.4 142.5,340.0 142.6,339.6 142.7,339.6 142.8,340.2 142.9,340.6 143.0,340.4 143.1,339.7 143.2,339.6 143.3,340.2 143.4,340.4 143.5,339.9 143.6,340.1 143.7,340.4 143.8,340.2 143.9,340.0 144.0,340.1 144.1,339.9 144.2,339.5 144.3,339.9 144.4,340.6 144.5,340.6 144.6,340.1 144.7,339.7 144.8,339.6 144.9,340.2 145.0,340.5 145.1,339.9 145.2,339.8 145.3,340.0 145.4,340.1 145.5,340.5 145.6,340.2 145.7,339.9 145.8,340.3 145.9,340.1 146.0,339.9 146.1,339.9 146.2,339.7 146.3,340.0 146.4,340.6 146.5,340.6 146.6,339.8 146.7,339.6 146.8,340.3 146.9,340.5 147.0,339.8 147.1,339.6 147.2,340.4 147.3,340.4 147.4,340.0 147.5,340.3 147.6,340.0 147.7,340.0 147.8,340.4 147.9,340.3 148.0,340.2 148.1,340.2 148.2,339.8 148.3,339.7 148.4,340.0 148.5,340.3 148.6,340.3 148.7,339.9 148.8,339.9 148.9,340.4 149.0,340.2 149.1,340.1 149.2,340.2 149.3,340.0 149.4,339.8 149.5,340.1 149.6,340.3 149.7,340.1 149.8,340.1 149.9,340.3 150.0,340.1 150.1,339.8 150.2,339.9 150.3,340.1 150.4,340.3 150.5,340.3 150.6,340.3 150.7,340.2 150.8,340.4 150.9,339.7 151.0,339.5 151.1,340.2 151.2,340.1 151.3,339.9 151.4,340.5 151.5,340.6 151.6,339.9 151.7,339.5 151.8,339.9 151.9,340.6 152.0,340.6 152.1,340.0 152.2,339.7 152.3,340.1 152.4,340.1 152.5,339.9 152.6,340.1 152.7,340.1 152.8,340.3 152.9,340.6 153.0,340.1 153.1,339.5 153.2,339.8 153.3,340.6 153.4,340.5 153.5,339.9 153.6,339.7 153.7,339.9 153.8,340.3 153.9,340.3 154.0,340.1 154.1,340.1 154.2,340.3 154.3,340.0 154.4,339.5 154.5,340.1 154.6,340.6 154.7,339.9 154.8,339.7 154.9,340.4 155.0,340.5 155.1,339.9 155.2,339.6 155.3,340.3 155.4,340.6 155.5,340.3 155.6,339.6 155.7,339.9 155.8,340.5 155.9,339.8 156.0,339.7 156.1,340.2 156.2,340.1 156.3,340.0 156.4,340.1 156.5,340.1 156.6,340.1 156.7,340.3 156.8,340.4 156.9,340.2 157.0,340.2 157.1,339.8 157.2,339.7 157.3,340.1 157.4,340.1 157.5,340.2 157.6,340.5 157.7,340.1 157.8,339.7 157.9,339.9 158.0,340.4 158.1,340.6 158.2,340.3 158.3,339.9 158.4,339.8 158.5,339.8 158.6,340.0 158.7,340.1 158.8,340.1 158.9,340.3 159.0,340.4 159.1,339.7 159.2,339.5 159.3,340.3 159.4,340.6 159.5,339.9 159.6,340.0 159.7,340.2 159.8,340.3 159.9,340.3 160.0,339.7 160.1,339.8 160.2,340.3 160.3,340.3 160.4,340.1 160.5,339.8 160.6,340.1 160.7,340.4 160.8,340.3 160.9,340.0 161.0,340.0 161.1,340.4 161.2,340.5 161.3,339.8 161.4,339.5 161.5,339.9 161.6,340.6 161.7,340.6 161.8,340.1 161.9,339.8 162.0,339.5 162.1,340.0 162.2,340.6 162.3,340.3 162.4,339.9 162.5,339.8 162.6,339.9 162.7,340.1 162.8,340.1 162.9,340.5 163.0,340.5 163.1,339.6 163.2,339.5 163.3,340.4 163.4,340.6 163.5,340.2 163.6,339.8 163.7,339.7 163.8,340.4 163.9,340.5 164.0,339.8 164.1,339.7 164.2,340.2 164.3,340.4 164.4,340.0 164.5,339.8 164.6,339.9 164.7,340.3 164.8,340.6 164.9,340.3 165.0,339.8 165.1,339.7 165.2,340.1 165.3,340.4 165.4,339.8 165.5,339.5 165.6,340.2 165.7,340.2 165.8,340.1 165.9,340.3 166.0,340.0 166.1,339.7 166.2,340.3 166.3,340.5 166.4,340.2 166.5,340.2 166.6,339.8 166.7,339.8 166.8,340.2 166.9,340.1 167.0,340.2 167.1,340.4 167.2,340.0 167.3,339.5 167.4,340.0 167.5,340.6 167.6,340.2 167.7,339.7 167.8,340.2 167.9,340.1 168.0,340.1 168.1,340.6 168.2,340.2 168.3,339.5 168.4,340.0 168.5,340.5 168.6,340.2 168.7,339.6 168.8,339.6 168.9,340.3 169.0,340.4 169.1,340.1 169.2,340.0 169.3,340.0 169.4,339.9 169.5,340.2 169.6,340.3 169.7,340.1 169.8,340.2 169.9,340.4 170.0,340.2 170.1,339.7 170.2,339.9 170.3,340.5 170.4,340.1 170.5,339.5 170.6,339.9 170.7,340.6 170.8,340.6 170.9,339.7 171.0,339.5 171.1,340.3 171.2,340.6 171.3,339.8 171.4,339.5 171.5,340.0 171.6,340.5 171.7,340.4 171.8,340.1 171.9,340.3 172.0,340.1 172.1,339.9 172.2,340.0 172.3,339.9 172.4,340.2 172.5,340.1 172.6,339.9 172.7,340.2 172.8,340.3 172.9,339.8 173.0,339.9 173.1,340.3 173.2,340.5 173.3,340.0 173.4,339.5 173.5,339.9 173.6,340.3 173.7,340.3 173.8,340.5 173.9,340.4 174.0,339.8 174.1,339.7 174.2,340.4 174.3,340.4 174.4,340.0 174.5,340.1 174.6,340.4 174.7,340.0 174.8,339.9 174.9,340.0 175.0,340.1 175.1,340.1 175.2,340.0 175.3,340.3 175.4,340.1 175.5,339.9 175.6,339.9 175.7,340.0 175.8,340.4 175.9,340.5 176.0,340.2 176.1,340.1 176.2,340.0 176.3,340.0 176.4,340.0 176.5,340.0 176.6,340.0 176.7,340.2 176.8,340.4 176.9,339.9 177.0,339.6 177.1,340.5 177.2,340.5 177.3,339.9 177.4,339.8 177.5,339.7 177.6,339.9 177.7,340.4 177.8,340.5 177.9,340.4 178.0,339.7 178.1,339.6 178.2,340.1 178.3,340.0 178.4,340.1 178.5,340.3 178.6,340.2 178.7,340.4 178.8,340.3 178.9,340.0 179.0,339.7 179.1,339.8 179.2,340.3 179.3,340.2 179.4,339.6 179.5,340.0 179.6,340.6 179.7,340.3 179.8,339.7 179.9,340.2 180.0,339.9 180.1,339.8 180.2,340.6 180.3,340.3 180.4,339.7 180.5,340.1 180.6,340.5 180.7,340.2 180.8,340.0 180.9,339.8 181.0,339.9 181.1,340.2 181.2,340.1 181.3,340.0 181.4,340.3 181.5,340.5 181.6,340.1 181.7,339.7 181.8,339.9 181.9,340.2 182.0,340.3 182.1,340.1 182.2,340.1 182.3,340.3 182.4,340.0 182.5,339.9 182.6,339.7 182.7,339.9 182.8,340.4 182.9,340.2 183.0,340.0 183.1,339.9 183.2,339.9 183.3,340.2 183.4,340.2 183.5,340.2 183.6,340.4 183.7,340.2 183.8,339.9 183.9,339.9 184.0,340.1 184.1,339.9 184.2,340.0 184.3,340.5 184.4,340.5 184.5,340.0 184.6,339.8 184.7,339.9 184.8,340.1 184.9,340.0 185.0,339.9 185.1,340.1 185.2,340.6 185.3,340.6 185.4,339.6 185.5,339.5 185.6,340.1 185.7,340.5 185.8,340.6 185.9,340.4 186.0,339.7 186.1,339.9 186.2,340.4 186.3,340.4 186.4,340.2 186.5,339.8 186.6,339.9 186.7,340.1 186.8,339.9 186.9,340.2 187.0,340.6 187.1,340.2 187.2,339.6 187.3,340.0 187.4,340.4 187.5,340.2 187.6,340.1 187.7,339.8 187.8,339.7 187.9,340.6 188.0,340.4 188.1,339.7 188.2,340.2 188.3,340.4 188.4,340.0 188.5,340.0 188.6,340.0 188.7,340.2 188.8,340.4 188.9,339.8 189.0,339.7 189.1,340.2 189.2,340.0 189.3,339.8 189.4,340.0 189.5,340.1 189.6,340.4 189.7,340.4 189.8,340.1 189.9,339.8 190.0,339.8 190.1,340.3 190.2,340.4 190.3,340.3 190.4,339.9 190.5,339.9 190.6,340.2 190.7,340.1 190.8,340.2 190.9,340.2 191.0,339.9 191.1,340.1 191.2,340.0 191.3,340.0 191.4,340.0 191.5,340.2 191.6,340.6 191.7,340.3 191.8,339.7 191.9,340.1 192.0,340.5 192.1,339.7 192.2,339.7 192.3,340.5 192.4,340.3 192.5,339.8 192.6,340.4 192.7,340.4 192.8,340.0 192.9,340.0 193.0,340.0 193.1,340.0 193.2,340.5 193.3,340.0 193.4,339.5 193.5,340.3 193.6,340.5 193.7,340.2 193.8,340.2 193.9,339.8 194.0,339.6 194.1,340.3 194.2,340.6 194.3,339.9 194.4,339.6 194.5,340.3 194.6,340.2 194.7,340.1 194.8,339.9 194.9,339.5 195.0,340.1 195.1,340.4 195.2,340.1 195.3,340.2 195.4,340.3 195.5,340.4 195.6,340.2 195.7,339.6 195.8,339.9 195.9,340.2 196.0,340.0 196.1,340.4 196.2,340.6 196.3,340.0 196.4,339.7 196.5,340.0 196.6,340.2 196.7,340.0 196.8,339.7 196.9,339.7 197.0,340.4 197.1,340.6 197.2,340.2 197.3,339.8 197.4,340.0 197.5,340.0 197.6,340.0 197.7,340.0 197.8,340.1 197.9,340.2 198.0,339.9 198.1,340.1 198.2,340.3 198.3,340.2 198.4,340.2 198.5,340.1 198.6,339.9 198.7,340.2 198.8,340.1 198.9,340.2 199.0,340.3 199.1,340.0 199.2,339.9 199.3,339.7 199.4,340.1 199.5,340.6 199.6,340.6 199.7,339.9 199.8,339.5 199.9,340.0 200.0,340.6 200.1,340.3 200.2,339.5 200.3,339.6 200.4,340.5 200.5,340.6 200.6,340.6 200.7,339.8 200.8,339.5 200.9,339.6 201.0,340.2 201.1,340.6 201.2,340.4 201.3,339.9 201.4,340.0 201.5,340.2 201.6,340.4 201.7,340.3 201.8,339.8 201.9,339.5 202.0,339.9 202.1,340.2 202.2,340.4 202.3,340.6 202.4,340.3 202.5,339.9 202.6,339.9 202.7,339.8 202.8,339.9 202.9,340.2 203.0,340.4 203.1,340.5 203.2,340.2 203.3,339.5 203.4,340.0 203.5,340.3 203.6,339.8 203.7,340.0 203.8,340.2 203.9,340.1 204.0,340.2 204.1,340.3 204.2,339.7 204.3,339.5 204.4,340.6 204.5,340.6 204.6,339.8 204.7,339.6 204.8,340.2 204.9,340.3 205.0,339.6 205.1,339.7 205.2,340.3 205.3,340.1 205.4,340.2 205.5,340.6 205.6,339.9 205.7,339.7 205.8,340.5 205.9,340.5 206.0,339.7 206.1,339.6 206.2,340.1 206.3,340.5 206.4,340.3 206.5,340.0 206.6,340.1 206.7,340.0 206.8,339.5 206.9,339.9 207.0,340.6 207.1,340.6 207.2,339.8 207.3,339.6 207.4,340.2 207.5,340.3 207.6,340.0 207.7,340.2 207.8,340.5 207.9,340.1 208.0,339.7 208.1,339.9 208.2,340.1 208.3,340.3 208.4,340.4 208.5,339.9 208.6,339.6 208.7,340.3 208.8,340.2 208.9,339.6 209.0,340.5 209.1,340.6 209.2,339.9 209.3,339.8 209.4,340.3 209.5,340.2 209.6,340.1 209.7,340.3 209.8,339.9 209.9,339.5 210.0,339.8 210.1,340.6 210.2,340.6 210.3,339.5 210.4,340.0 210.5,340.6 210.6,340.0 210.7,339.5 210.8,340.4 210.9,340.6 211.0,339.6 211.1,339.7 211.2,339.9 211.3,340.0 211.4,340.6 211.5,340.6 211.6,339.7 211.7,339.5 211.8,340.0 211.9,340.5 212.0,340.5 212.1,340.3 212.2,340.0 212.3,340.2 212.4,340.1 212.5,339.7 212.6,340.1 212.7,340.2 212.8,339.7 212.9,339.8 213.0,340.4 213.1,340.6 213.2,340.2 213.3,339.9 213.4,339.5 213.5,340.3 213.6,340.6 213.7,340.1 213.8,339.5 213.9,340.1 214.0,340.4 214.1,340.0 214.2,339.6 214.3,339.8 214.4,340.2 214.5,340.6 214.6,340.6 214.7,339.5 214.8,339.6 214.9,340.4 215.0,340.1 215.1,339.9 215.2,340.3 215.3,340.1 215.4,339.8 215.5,340.3 215.6,340.4 215.7,340.0 215.8,340.1 215.9,340.2 216.0,339.9 216.1,339.9 216.2,340.3 216.3,340.3 216.4,339.9 216.5,339.7 216.6,340.4 216.7,340.3 216.8,339.7 216.9,340.0 217.0,340.3 217.1,340.1 217.2,340.0 217.3,340.3 217.4,340.0 217.5,340.1 217.6,340.4 217.7,340.2 217.8,340.1 217.9,340.0 218.0,339.7 218.1,340.0 218.2,340.3 218.3,340.1 218.4,340.6 218.5,340.3 218.6,339.7 218.7,339.8 218.8,339.8 218.9,340.0 219.0,340.4 219.1,340.4 219.2,340.0 219.3,340.0 219.4,340.1 219.5,340.0 219.6,340.0 219.7,340.1 219.8,340.0 219.9,339.9 220.0,340.5 220.1,340.7 220.2,340.1 220.3,339.5 220.4,339.7 220.5,339.5 220.6,340.0 220.7,340.7 220.8,340.5 220.9,339.8 221.0,339.9 221.1,340.1 221.2,340.1 221.3,340.2 221.4,340.1 221.5,340.2 221.6,340.1 221.7,340.0 221.8,340.2 221.9,339.8 222.0,340.0 222.1,340.1 222.2,339.8 222.3,340.3 222.4,340.1 222.5,340.1 222.6,340.7 222.7,340.0 222.8,339.5 222.9,340.1 223.0,340.2 223.1,340.2 223.2,340.1 223.3,339.9 223.4,340.2 223.5,340.4 223.6,340.1 223.7,339.5 223.8,339.6 223.9,340.6 224.0,340.7 224.1,339.9 224.2,339.9 224.3,340.4 224.4,340.2 224.5,339.9 224.6,339.7 224.7,339.8 224.8,340.6 224.9,340.3 225.0,339.5 225.1,339.9 225.2,340.7 225.3,340.5 225.4,339.7 225.5,339.5 225.6,339.8 225.7,340.1 225.8,340.6 225.9,340.2 226.0,339.6 226.1,340.0 226.2,340.5 226.3,340.5 226.4,339.8 226.5,339.5 226.6,340.0 226.7,340.7 226.8,340.4 226.9,339.5 227.0,340.0 227.1,340.4 227.2,339.7 227.3,339.8 227.4,340.7 227.5,340.5 227.6,339.9 227.7,339.8 227.8,340.0 227.9,340.2 228.0,340.1 228.1,339.9 228.2,340.2 228.3,340.4 228.4,340.2 228.5,339.9 228.6,340.0 228.7,340.2 228.8,340.2 228.9,340.0 229.0,339.8 229.1,340.1 229.2,340.2 229.3,340.0 229.4,340.2 229.5,340.2 229.6,340.1 229.7,339.7 229.8,339.9 229.9,340.6 230.0,340.1 230.1,339.8 230.2,340.1 230.3,340.1 230.4,340.0 230.5,340.3 230.6,340.4 230.7,339.9 230.8,339.7 230.9,340.3 231.0,340.5 231.1,339.6 231.2,339.5 231.3,340.2 231.4,340.7 231.5,340.3 231.6,339.6 231.7,339.5 231.8,340.5 231.9,340.7 232.0,340.0 232.1,339.8 232.2,339.9 232.3,340.0 232.4,340.3 232.5,340.3 232.6,340.2 232.7,339.9 232.8,339.6 232.9,340.3 233.0,340.5 233.1,339.7 233.2,339.5 233.3,340.2 233.4,340.7 233.5,340.4 233.6,339.8 233.7,339.8 233.8,340.1 233.9,340.1 234.0,340.3 234.1,340.2 234.2,339.9 234.3,340.2 234.4,340.2 234.5,339.7 234.6,339.7 234.7,340.1 234.8,340.3 234.9,340.5 235.0,340.3 235.1,339.7 235.2,340.1 235.3,340.5 235.4,340.0 235.5,340.1 235.6,340.3 235.7,339.8 235.8,339.7 235.9,340.3 236.0,340.6 236.1,339.8 236.2,339.8 236.3,340.7 236.4,340.6 236.5,339.7 236.6,339.8 236.7,340.1 236.8,339.8 236.9,340.3 237.0,340.6 237.1,340.0 237.2,339.8 237.3,340.1 237.4,339.6 237.5,339.6 237.6,340.5 237.7,340.5 237.8,339.9 237.9,340.0 238.0,340.2 238.1,339.8 238.2,339.9 238.3,340.2 238.4,340.2 238.5,340.1 238.6,340.0 238.7,340.3 238.8,340.6 238.9,340.3 239.0,340.2 239.1,339.7 239.2,339.6 239.3,340.0 239.4,340.1 239.5,340.3 239.6,340.4 239.7,340.2 239.8,340.1 239.9,340.2 240.0,339.9 240.1,339.5 240.2,340.2 240.3,340.6 240.4,340.2 240.5,340.1 240.6,339.9 240.7,339.8 240.8,340.3 240.9,340.2 241.0,340.0 241.1,340.3 241.2,340.2 241.3,340.0 241.4,339.9 241.5,339.9 241.6,339.7 241.7,339.8 241.8,340.6 241.9,340.7 242.0,340.2 242.1,339.5 242.2,339.9 242.3,340.7 242.4,340.2 242.5,339.8 242.6,340.3 242.7,340.2 242.8,340.2 242.9,340.2 243.0,339.6 243.1,339.5 243.2,340.2 243.3,340.6 243.4,340.4 243.5,339.9 243.6,339.8 243.7,339.8 243.8,340.0 243.9,340.3 244.0,340.3 244.1,340.4 244.2,340.4 244.3,340.0 244.4,339.6 244.5,339.7 244.6,340.1 244.7,340.2 244.8,340.2 244.9,340.3 245.0,340.0 245.1,339.7 245.2,340.1 245.3,340.4 245.4,340.1 245.5,339.7 245.6,340.0 245.7,340.5 245.8,340.5 245.9,340.1 246.0,339.5 246.1,340.0 246.2,340.7 246.3,340.2 246.4,339.6 246.5,340.0 246.6,340.3 246.7,340.2 246.8,340.0 246.9,340.1 247.0,339.9 247.1,339.8 247.2,340.0 247.3,339.7 247.4,339.9 247.5,340.4 247.6,340.4 247.7,340.6 247.8,340.3 247.9,339.7 248.0,339.8 248.1,340.1 248.2,340.2 248.3,340.3 248.4,340.2 248.5,339.8 248.6,340.1 248.7,340.6 248.8,340.2 248.9,339.5 249.0,339.6 249.1,340.1 249.2,340.5 249.3,340.2 249.4,340.2 249.5,340.4 249.6,339.8 249.7,339.7 249.8,340.1 249.9,340.2 250.0,340.4 250.1,340.3 250.2,339.8 250.3,339.6 250.4,339.9 250.5,340.4 250.6,340.3 250.7,339.7 250.8,340.4 250.9,340.5 251.0,339.6 251.1,339.7 251.2,340.5 251.3,340.3 251.4,339.9 251.5,340.2 251.6,340.3 251.7,339.9 251.8,339.8 251.9,340.2 252.0,340.4 252.1,340.3 252.2,340.3 252.3,339.8 252.4,339.7 252.5,340.2 252.6,340.2 252.7,340.1 252.8,340.1 252.9,339.9 253.0,340.1 253.1,340.5 253.2,340.3 253.3,339.6 253.4,339.9 253.5,340.2 253.6,340.0 253.7,340.3 253.8,340.4 253.9,339.9 254.0,339.5 254.1,340.0 254.2,340.6 254.3,340.3 254.4,339.7 254.5,339.8 254.6,340.3 254.7,340.3 254.8,340.0 254.9,340.2 255.0,340.5 255.1,340.1 255.2,339.8 255.3,339.8 255.4,340.1 255.5,340.3 255.6,340.0 255.7,339.9 255.8,340.3 255.9,340.2 256.0,340.2 256.1,340.3 256.2,340.1 256.3,339.5 256.4,340.1 256.5,340.6 256.6,340.2 256.7,339.9 256.8,339.9 256.9,339.9 257.0,340.5 257.1,340.4 257.2,339.7 257.3,339.9 257.4,340.2 257.5,340.0 257.6,340.0 257.7,340.3 257.8,340.1 257.9,339.9 258.0,340.2 258.1,340.1 258.2,339.7 258.3,340.3 258.4,340.7 258.5,339.9 258.6,339.5 258.7,340.2 258.8,340.7 258.9,339.7 259.0,339.5 259.1,340.5 259.2,340.7 259.3,340.2 259.4,339.7 259.5,339.8 259.6,340.0 259.7,340.2 259.8,340.1 259.9,340.0 260.0,340.1 260.1,340.3 260.2,340.2 260.3,339.9 260.4,340.1 260.5,340.1 260.6,339.9 260.7,340.2 260.8,340.0 260.9,340.1 261.0,340.7 261.1,340.3 261.2,339.5 261.3,339.6 261.4,340.4 261.5,340.5 261.6,340.2 261.7,339.8 261.8,340.1 261.9,340.4 262.0,340.0 262.1,339.8 262.2,340.0 262.3,340.1 262.4,340.3 262.5,340.5 262.6,340.0 262.7,339.7 262.8,340.3 262.9,340.5 263.0,339.5 263.1,339.7 263.2,340.6 263.3,339.9 263.4,340.0 263.5,340.7 263.6,340.2 263.7,339.5 263.8,339.7 263.9,340.1 264.0,340.5 264.1,340.4 264.2,339.8 264.3,339.7 264.4,340.3 264.5,340.1 264.6,340.1 264.7,340.4 264.8,339.9 264.9,340.0 265.0,340.5 265.1,340.2 265.2,340.1 265.3,339.7 265.4,339.5 265.5,340.4 265.6,340.4 265.7,340.2 265.8,340.4 265.9,340.0 266.0,339.5 266.1,340.0 266.2,340.6 266.3,340.0 266.4,339.9 266.5,340.3 266.6,340.0 266.7,340.0 266.8,340.4 266.9,340.5 267.0,339.8 267.1,339.5 267.2,340.2 267.3,340.2 267.4,339.8 267.5,340.2 267.6,340.3 267.7,340.1 267.8,340.1 267.9,340.0 268.0,339.7 268.1,339.8 268.2,340.1 268.3,340.2 268.4,340.6 268.5,340.2 268.6,339.5 268.7,339.5 268.8,340.6 268.9,340.4 269.0,339.9 269.1,340.2 269.2,340.0 269.3,339.8 269.4,340.1 269.5,340.4 269.6,340.4 269.7,340.1 269.8,339.9 269.9,339.6 270.0,339.5 270.1,340.5 270.2,340.5 270.3,339.9 270.4,340.3 270.5,340.1 270.6,339.7 270.7,340.1 270.8,340.3 270.9,340.0 271.0,339.9 271.1,339.8 271.2,339.9 271.3,340.3 271.4,340.5 271.5,340.2 271.6,340.0 271.7,340.1 271.8,340.0 271.9,339.9 272.0,339.9 272.1,340.2 272.2,340.4 272.3,339.8 272.4,339.9 272.5,340.6 272.6,339.8 272.7,339.5 272.8,340.7 272.9,340.3 273.0,339.6 273.1,340.1 273.2,340.5 273.3,340.1 273.4,339.5 273.5,340.2 273.6,340.5 273.7,339.9 273.8,339.8 273.9,340.1 274.0,340.4 274.1,340.2 274.2,339.5 274.3,340.4 274.4,340.7 274.5,339.8 274.6,339.5 274.7,340.2 274.8,340.1 274.9,339.6 275.0,340.4 275.1,340.7 275.2,340.2 275.3,339.8 275.4,339.9 275.5,339.5 275.6,339.9 275.7,340.5 275.8,340.3 275.9,339.8 276.0,339.8 276.1,340.2 276.2,340.4 276.3,340.3 276.4,340.2 276.5,340.1 276.6,340.1 276.7,339.8 276.8,339.8 276.9,339.9 277.0,340.0 277.1,340.5 277.2,340.4 277.3,339.5 277.4,339.5 277.5,340.5 277.6,340.5 277.7,339.8 277.8,339.8 277.9,340.3 278.0,340.5 278.1,340.2 278.2,340.3 278.3,340.3 278.4,339.5 278.5,339.5 278.6,340.7 278.7,340.7 278.8,339.5 278.9,339.5 279.0,340.0 279.1,340.7 279.2,340.4 279.3,339.5 279.4,340.0 279.5,340.5 279.6,340.0 279.7,339.8 279.8,340.2 279.9,340.0 280.0,339.8 280.1,340.3 280.2,340.3 280.3,340.0 280.4,340.2 280.5,340.2 280.6,340.0 280.7,340.1 280.8,340.3 280.9,339.8 281.0,339.7 281.1,340.3 281.2,340.3 281.3,340.0 281.4,340.4 281.5,340.5 281.6,339.8 281.7,339.5 281.8,339.6 281.9,340.4 282.0,340.7 282.1,340.4 282.2,339.5 282.3,339.8 282.4,340.5 282.5,339.9 282.6,340.0 282.7,340.5 282.8,340.1 282.9,339.7 283.0,339.9 283.1,340.1 283.2,340.3 283.3,340.3 283.4,340.2 283.5,340.3 283.6,340.1 283.7,339.9 283.8,340.0 283.9,340.2 284.0,339.8 284.1,340.2 284.2,340.6 284.3,339.9 284.4,339.7 284.5,340.4 284.6,340.3 284.7,339.5 284.8,339.9 284.9,340.7 285.0,340.3 285.1,339.6 285.2,340.1 285.3,339.9 285.4,339.6 285.5,340.2 285.6,340.4 285.7,340.3 285.8,339.9 285.9,339.9 286.0,340.5 286.1,340.3 286.2,339.7 286.3,339.6 286.4,340.3 286.5,340.4 286.6,340.1 286.7,340.2 286.8,340.0 286.9,339.8 287.0,340.1 287.1,339.9 287.2,340.1 287.3,340.6 287.4,340.5 287.5,340.2 287.6,339.9 287.7,340.1 287.8,340.3 287.9,339.9 288.0,339.7 288.1,340.3 288.2,340.5 288.3,339.9 288.4,339.6 288.5,340.1 288.6,340.1 288.7,340.0 288.8,340.4 288.9,340.5 289.0,340.1 289.1,340.2 289.2,340.0 289.3,339.5 289.4,340.0 289.5,340.4 289.6,340.2 289.7,340.0 289.8,340.0 289.9,339.9 290.0,340.2 290.1,340.1 290.2,339.9 290.3,340.2 290.4,339.9 290.5,340.0 290.6,340.5 290.7,340.5 290.8,339.8 290.9,339.5 291.0,340.1 291.1,340.3 291.2,340.1 291.3,340.1 291.4,340.4 291.5,340.2 291.6,340.0 291.7,340.3 291.8,340.1 291.9,339.6 292.0,339.9 292.1,340.4 292.2,340.6 292.3,340.1 292.4,339.6 292.5,340.1 292.6,340.4 292.7,340.0 292.8,339.7 292.9,339.7 293.0,340.1 293.1,340.5 293.2,340.5 293.3,340.3 293.4,340.0 293.5,339.7 293.6,340.0 293.7,340.1 293.8,339.8 293.9,340.2 294.0,340.4 294.1,340.3 294.2,340.1 294.3,340.0 294.4,340.3 294.5,340.0 294.6,339.5 294.7,340.3 294.8,340.7 294.9,340.1 295.0,339.7 295.1,339.8 295.2,340.2 295.3,340.4 295.4,339.9 295.5,339.6 295.6,340.3 295.7,340.7 295.8,340.1 295.9,340.2 296.0,340.2 296.1,339.8 296.2,339.7 296.3,339.9 296.4,340.6 296.5,340.4 296.6,339.7 296.7,339.9 296.8,340.4 296.9,340.2 297.0,339.7 297.1,339.9 297.2,340.6 297.3,340.6 297.4,339.8 297.5,339.8 297.6,340.2 297.7,339.8 297.8,340.0 297.9,340.6 298.0,340.2 298.1,339.6 298.2,339.8 298.3,339.9 298.4,340.1 298.5,340.7 298.6,340.5 298.7,339.6 298.8,339.4 298.9,340.0 299.0,340.6 299.1,340.5 299.2,339.8 299.3,339.4 299.4,340.0 299.5,340.6 299.6,340.4 299.7,339.9 299.8,339.4 299.9,339.9 300.0,340.2 300.1,340.2 300.2,340.4 300.3,340.3 300.4,340.2 300.5,340.2 300.6,340.2 300.7,340.1 300.8,339.8 300.9,339.5 301.0,339.9 301.1,340.5 301.2,340.7 301.3,339.9 301.4,339.6 301.5,340.2 301.6,340.5 301.7,340.3 301.8,339.8 301.9,339.6 302.0,340.2 302.1,340.2 302.2,339.4 302.3,340.1 302.4,340.7 302.5,340.3 302.6,339.9 302.7,339.5 302.8,340.3 302.9,340.6 303.0,339.7 303.1,339.5 303.2,340.3 303.3,340.5 303.4,340.4 303.5,340.2 303.6,339.7 303.7,339.7 303.8,339.9 303.9,340.0 304.0,340.1 304.1,340.0 304.2,340.3 304.3,340.1 304.4,339.7 304.5,340.3 304.6,340.2 304.7,340.1 304.8,340.5 304.9,340.2 305.0,339.7 305.1,340.0 305.2,340.4 305.3,340.0 305.4,339.5 305.5,339.9 305.6,340.6 305.7,340.5 305.8,339.9 305.9,339.7 306.0,340.0 306.1,340.2 306.2,340.3 306.3,340.5 306.4,340.0 306.5,339.4 306.6,340.3 306.7,340.7 306.8,340.1 306.9,339.9 307.0,339.8 307.1,339.8 307.2,340.2 307.3,340.3 307.4,340.1 307.5,340.2 307.6,340.4 307.7,339.9 307.8,339.5 307.9,340.2 308.0,340.6 308.1,340.3 308.2,340.0 308.3,339.8 308.4,339.7 308.5,340.0 308.6,340.1 308.7,340.2 308.8,340.5 308.9,340.4 309.0,339.9 309.1,339.4 309.2,339.7 309.3,340.6 309.4,340.2 309.5,339.7 309.6,340.6 309.7,340.6 309.8,339.8 309.9,339.8 310.0,340.0 310.1,339.9 310.2,340.1 310.3,340.1 310.4,340.2 310.5,340.3 310.6,340.1 310.7,339.7 310.8,340.2 310.9,340.6 311.0,340.1 311.1,339.9 311.2,340.2 311.3,340.2 311.4,340.3 311.5,339.9 311.6,339.7 311.7,339.9 311.8,339.9 311.9,339.9 312.0,340.2 312.1,340.7 312.2,340.3 312.3,339.5 312.4,339.8 312.5,340.5 312.6,340.2 312.7,339.9 312.8,339.9 312.9,340.0 313.0,340.3 313.1,340.1 313.2,339.9 313.3,340.1 313.4,339.8 313.5,340.2 313.6,340.7 313.7,340.2 313.8,339.5 313.9,339.7 314.0,340.0 314.1,340.5 314.2,340.3 314.3,340.1 314.4,340.1 314.5,339.7 314.6,340.1 314.7,340.4 314.8,339.9 314.9,339.9 315.0,340.3 315.1,340.1 315.2,339.8 315.3,340.3 315.4,340.5 315.5,339.8 315.6,339.7 315.7,340.2 315.8,340.1 315.9,339.9 316.0,340.2 316.1,340.2 316.2,340.0 316.3,340.0 316.4,340.3 316.5,340.5 316.6,340.1 316.7,339.6 316.8,339.9 316.9,340.1 317.0,340.1 317.1,340.5 317.2,340.3 317.3,339.4 317.4,340.2 317.5,340.7 317.6,339.9 317.7,339.5 317.8,340.2 317.9,340.7 318.0,340.3 318.1,339.4 318.2,340.1 318.3,340.3 318.4,339.5 318.5,340.2 318.6,340.7 318.7,340.1 318.8,339.5 318.9,339.7 319.0,340.3 319.1,340.4 319.2,340.3 319.3,339.9 319.4,340.0 319.5,340.4 319.6,340.4 319.7,339.7 319.8,339.4 319.9,340.1 320.0,340.4 320.1,340.2 320.2,340.4 320.3,340.2 320.4,339.4 320.5,339.8 320.6,339.8 320.7,339.9 320.8,340.6 320.9,340.6 321.0,340.0 321.1,340.0 321.2,340.5 321.3,340.4 321.4,339.4 321.5,339.4 321.6,340.7 321.7,340.3 321.8,339.5 321.9,340.3 322.0,340.3 322.1,339.6 322.2,340.0 322.3,340.5 322.4,340.2 322.5,339.7 322.6,339.4 322.7,340.4 322.8,340.7 322.9,340.1 323.0,339.4 323.1,339.7 323.2,340.3 323.3,340.2 323.4,340.1 323.5,340.2 323.6,340.0 323.7,340.0 323.8,340.3 323.9,340.6 324.0,340.1 324.1,339.5 324.2,340.1 324.3,340.4 324.4,340.0 324.5,339.9 324.6,340.5 324.7,340.5 324.8,339.4 324.9,339.4 325.0,340.5 325.1,340.7 325.2,339.9 325.3,339.6 325.4,340.2 325.5,339.9 325.6,340.0 325.7,340.6 325.8,340.7 325.9,339.8 326.0,339.4 326.1,340.1 326.2,340.7 326.3,340.4 326.4,339.6 326.5,339.8 326.6,339.8 326.7,339.8 326.8,340.7 326.9,340.7 327.0,339.4 327.1,339.4 327.2,340.2 327.3,340.6 327.4,340.4 327.5,339.7 327.6,340.4 327.7,340.7 327.8,339.9 327.9,339.4 328.0,340.0 328.1,340.2 328.2,340.0 328.3,340.3 328.4,340.3 328.5,339.6 328.6,339.8 328.7,340.5 328.8,340.6 328.9,339.9 329.0,339.5 329.1,339.8 329.2,340.3 329.3,340.2 329.4,340.2 329.5,340.0 329.6,339.9 329.7,340.5 329.8,340.3 329.9,339.5 330.0,339.5 330.1,339.9 330.2,340.4 330.3,340.4 330.4,340.0 330.5,340.0 330.6,339.9 330.7,340.1 330.8,340.3 330.9,340.0 331.0,339.9 331.1,340.1 331.2,340.3 331.3,340.2 331.4,340.0 331.5,339.8 331.6,340.1 331.7,340.4 331.8,340.2 331.9,339.9 332.0,339.8 332.1,340.2 332.2,340.4 332.3,339.9 332.4,339.8 332.5,340.3 332.6,340.6 332.7,339.9 332.8,339.7 332.9,340.3 333.0,340.3 333.1,340.1 333.2,339.5 333.3,339.8 333.4,340.3 333.5,340.4 333.6,340.5 333.7,340.3 333.8,339.6 333.9,339.7 334.0,340.2 334.1,340.2 334.2,340.2 334.3,340.3 334.4,340.1 334.5,339.8 334.6,339.8 334.7,340.0 334.8,340.5 334.9,340.6 335.0,340.0 335.1,339.5 335.2,339.7 335.3,340.0 335.4,340.0 335.5,340.0 335.6,340.3 335.7,340.4 335.8,340.5 335.9,340.0 336.0,339.6 336.1,339.7 336.2,340.0 336.3,340.5 336.4,340.6 336.5,340.0 336.6,339.4 336.7,339.8 336.8,340.4 336.9,340.4 337.0,340.2 337.1,340.0 337.2,340.0 337.3,340.0 337.4,340.4 337.5,340.5 337.6,339.9 337.7,339.7 337.8,339.7 337.9,340.1 338.0,340.3 338.1,340.0 338.2,340.0 338.3,340.6 338.4,340.3 338.5,339.4 338.6,339.7 338.7,340.4 338.8,340.3 338.9,340.1 339.0,339.9 339.1,340.2 339.2,340.0 339.3,339.8 339.4,340.1 339.5,340.2 339.6,340.1 339.7,340.4 339.8,340.6 339.9,339.8 340.0,339.4 340.1,340.0 340.2,340.1 340.3,340.3 340.4,340.4 340.5,339.9 340.6,339.7 340.7,339.9 340.8,340.0 340.9,340.3 341.0,340.5 341.1,339.8 341.2,339.7 341.3,340.7 341.4,340.4 341.5,339.4 341.6,339.7 341.7,340.2 341.8,340.4 341.9,339.9 342.0,339.9 342.1,340.0 342.2,339.5 342.3,340.3 342.4,340.7 342.5,340.1 342.6,339.7 342.7,340.1 342.8,340.1 342.9,340.4 343.0,340.6 343.1,340.1 343.2,339.7 343.3,339.4 343.4,339.9 343.5,340.5 343.6,340.4 343.7,340.0 343.8,340.3 343.9,340.1 344.0,339.5 344.1,339.8 344.2,340.6 344.3,340.6 344.4,339.9 344.5,339.4 344.6,339.7 344.7,340.4 344.8,340.2 344.9,339.7 345.0,340.0 345.1,339.9 345.2,340.1 345.3,340.7 345.4,340.5 345.5,339.8 345.6,339.7 345.7,339.9 345.8,340.3 345.9,340.2 346.0,339.7 346.1,340.1 346.2,340.7 346.3,340.1 346.4,339.4 346.5,340.1 346.6,340.3 346.7,339.8 346.8,339.8 346.9,340.4 347.0,340.5 347.1,339.9 347.2,340.0 347.3,340.3 347.4,340.1 347.5,339.8 347.6,339.7 347.7,339.9 347.8,340.4 347.9,340.7 348.0,340.3 348.1,339.7 348.2,339.5 348.3,339.9 348.4,340.5 348.5,340.5 348.6,339.8 348.7,339.6 348.8,340.0 348.9,340.6 349.0,340.4 349.1,339.6 349.2,339.7 349.3,340.3 349.4,340.4 349.5,340.4 349.6,340.1 349.7,339.8 349.8,339.4 349.9,339.7 350.0,340.4 350.1,340.4 350.2,340.3 350.3,340.0 350.4,339.7 350.5,339.9 350.6,340.3 350.7,340.5 350.8,340.1 350.9,340.0 351.0,339.9 351.1,339.8 351.2,340.0 351.3,340.2 351.4,340.2 351.5,339.8 351.6,339.9 351.7,340.2 351.8,340.2 351.9,340.4 352.0,340.3 352.1,340.0 352.2,339.9 352.3,340.0 352.4,340.0 352.5,340.3 352.6,340.7 352.7,340.2 352.8,339.7 352.9,339.7 353.0,339.8 353.1,340.2 353.2,340.2 353.3,340.3 353.4,340.3 353.5,339.7 353.6,339.6 353.7,340.5 353.8,340.4 353.9,339.9 354.0,340.0 354.1,340.0 354.2,340.2 354.3,340.3 354.4,340.3 354.5,340.1 354.6,340.0 354.7,339.8 354.8,340.1 354.9,340.5 355.0,340.2 355.1,339.9 355.2,339.9 355.3,340.2 355.4,340.3 355.5,340.0 355.6,339.8 355.7,340.0 355.8,340.3 355.9,340.4 356.0,339.8 356.1,339.7 356.2,340.0 356.3,340.4 356.4,340.5 356.5,339.9 356.6,339.9 356.7,340.5 356.8,340.3 356.9,339.7 357.0,339.8 357.1,340.2 357.2,340.3 357.3,340.1 357.4,340.2 357.5,339.5 357.6,339.4 357.7,340.6 357.8,340.6 357.9,340.1 358.0,340.1 358.1,340.1 358.2,340.1 358.3,339.7 358.4,339.8 358.5,340.3 358.6,340.3 358.7,340.1 358.8,339.9 358.9,339.9 359.0,340.1 359.1,340.0 359.2,339.8 359.3,340.2 359.4,340.6 359.5,340.0 359.6,339.6 359.7,340.4 359.8,340.6 359.9,339.8 360.0,339.9 360.1,340.6 360.2,340.1 360.3,339.6 360.4,340.1 360.5,340.1 360.6,340.1 360.7,340.3 360.8,339.8 360.9,340.0 361.0,340.5 361.1,339.9 361.2,339.8 361.3,340.3 361.4,339.8 361.5,339.9 361.6,340.5 361.7,340.5 361.8,340.1 361.9,339.7 362.0,339.9 362.1,340.3 362.2,340.2 362.3,340.0 362.4,340.4 362.5,340.3 362.6,339.7 362.7,339.8 362.8,340.3 362.9,340.3 363.0,340.1 363.1,340.2 363.2,339.7 363.3,339.4 363.4,340.3 363.5,340.7 363.6,340.3 363.7,339.7 363.8,339.7 363.9,339.8 364.0,340.0 364.1,340.5 364.2,340.3 364.3,339.8 364.4,339.7 364.5,339.9 364.6,340.7 364.7,340.6 364.8,339.5 364.9,339.8 365.0,340.5 365.1,340.1 365.2,339.4 365.3,339.6 365.4,340.7 365.5,340.2 365.6,339.4 365.7,340.6 365.8,340.7 365.9,340.1 366.0,339.4 366.1,339.6 366.2,339.9 366.3,340.3 366.4,340.1 366.5,339.7 366.6,339.9 366.7,339.8 366.8,340.3 366.9,340.7 367.0,340.2 367.1,340.3 367.2,340.3 367.3,339.4 367.4,340.0 367.5,340.7 367.6,340.1 367.7,339.7 367.8,340.0 367.9,339.7 368.0,340.0 368.1,340.6 368.2,340.2 368.3,340.0 368.4,340.3 368.5,340.1 368.6,340.1 368.7,340.4 368.8,340.5 368.9,339.6 369.0,339.4 369.1,340.6 369.2,341.9 369.3,339.0 369.4,335.9 369.5,341.8 369.6,346.2 369.7,338.1 369.8,336.1 369.9,343.1 370.0,343.2 370.1,338.8 370.2,337.1 370.3,341.2 370.4,343.1 370.5,339.7 370.6,341.3 370.7,338.2 370.8,329.9 370.9,344.5 371.0,351.6 371.1,332.9 371.2,325.6 371.3,337.3 371.4,357.0 371.5,347.4 371.6,322.5 371.7,322.0 371.8,345.5 371.9,355.8 372.0,344.3 372.1,335.8 372.2,342.2 372.3,347.4 372.4,349.5 372.5,337.6 372.6,338.4 372.7,359.3 372.8,333.2 372.9,318.1 373.0,351.5 373.1,363.0 373.2,339.8 373.3,317.5 373.4,332.1 373.5,363.3 373.6,351.2 373.7,324.3 373.8,340.6 373.9,319.0 374.0,320.7 374.1,355.0 374.2,336.2 374.3,326.5 374.4,344.7 374.5,343.8 374.6,345.9 374.7,360.8 374.8,348.3 374.9,315.1 375.0,323.0 375.1,347.6 375.2,327.8 375.3,339.6 375.4,363.0 375.5,365.6 375.6,353.0 375.7,365.0 375.8,313.7 375.9,313.6 376.0,313.4 376.1,365.2 376.2,348.8 376.3,330.9 376.4,332.5 376.5,365.1 376.6,354.2 376.7,314.0 376.8,337.2 376.9,360.1 377.0,338.3 377.1,341.2 377.2,333.8 377.3,322.0 377.4,333.5 377.5,336.3 377.6,333.0 377.7,363.1 377.8,365.8 377.9,343.4 378.0,323.3 378.1,315.3 378.2,344.3 378.3,366.0 378.4,344.4 378.5,320.2 378.6,332.0 378.7,360.4 378.8,362.2 378.9,336.6 379.0,323.6 379.1,319.8 379.2,335.6 379.3,366.4 379.4,360.4 379.5,327.7 379.6,319.3 379.7,336.5 379.8,348.2 379.9,335.4 380.0,344.8 380.1,366.7 380.2,342.5 380.3,317.2 380.4,327.1 380.5,365.8 380.6,364.9 380.7,354.3 380.8,328.3 380.9,317.6 381.0,321.7 381.1,354.0 381.2,367.8 381.3,343.7 381.4,333.0 381.5,368.1 381.6,344.8 381.7,318.2 381.8,332.5 381.9,355.9 382.0,368.6 382.1,344.2 382.2,328.6 382.3,337.8 382.4,318.7 382.5,323.6 382.6,369.2 382.7,361.9 382.8,369.4 382.9,332.1 383.0,331.7 383.1,342.5 383.2,334.2 383.3,328.7 383.4,337.6 383.5,347.1 383.6,354.7 383.7,338.3 383.8,331.9 383.9,349.4 384.0,350.4 384.1,344.7 384.2,341.7 384.3,318.6 384.4,318.6 384.5,349.4 384.6,359.5 384.7,333.3 384.8,326.8 384.9,350.2 385.0,357.8 385.1,331.0 385.2,326.0 385.3,345.4 385.4,343.7 385.5,343.7 385.6,359.8 385.7,344.7 385.8,328.0 385.9,328.8 386.0,330.5 386.1,355.3 386.2,346.7 386.3,319.9 386.4,320.2 386.5,349.0 386.6,356.3 386.7,328.4 386.8,321.1 386.9,348.1 387.0,354.5 387.1,334.6 387.2,343.1 387.3,349.1 387.4,323.3 387.5,322.7 387.6,347.4 387.7,350.9 387.8,322.8 387.9,322.5 388.0,345.4 388.1,349.5 388.2,347.5 388.3,345.4 388.4,320.6 388.5,324.5 388.6,341.1 388.7,343.2 388.8,348.4 388.9,336.0 389.0,339.3 389.1,354.4 389.2,338.9 389.3,324.7 389.4,343.3 389.5,346.6 389.6,340.6 389.7,344.0 389.8,353.6 389.9,340.0 390.0,327.7 390.1,324.1 390.2,318.7 390.3,343.6 390.4,343.5 390.5,312.7 390.6,338.8 390.7,359.3 390.8,358.4 390.9,340.3 391.0,326.9 391.1,342.8 391.2,348.7 391.3,342.6 391.4,325.0 391.5,316.4 391.6,346.9 391.7,356.0 391.8,329.3 391.9,341.9 392.0,347.2 392.1,330.5 392.2,328.4 392.3,337.8 392.4,350.9 392.5,343.3 392.6,328.1 392.7,344.2 392.8,360.0 392.9,346.0 393.0,316.1 393.1,315.0 393.2,341.9 393.3,366.7 393.4,359.3 393.5,321.7 393.6,309.7 393.7,342.8 393.8,376.0 393.9,347.8 394.0,330.2 394.1,327.0 394.2,323.7 394.3,347.7 394.4,349.0 394.5,349.1 394.6,354.3 394.7,310.6 394.8,392.6 394.9,387.4 395.0,338.5 395.1,295.7 395.2,302.8 395.3,310.9 395.4,330.1 395.5,262.1 395.6,422.3 395.7,309.8 395.8,300.4 395.9,345.7 396.0,359.3 396.1,361.1 396.2,311.3 396.3,304.9 396.4,363.8 396.5,365.4 396.6,302.7 396.7,323.8 396.8,370.2 396.9,349.3 397.0,464.8 397.1,303.9 397.2,264.4 397.3,381.3 397.4,277.1 397.5,305.9 397.6,369.3 397.7,378.6 397.8,290.8 397.9,277.7 398.0,383.9 398.1,366.7 398.2,291.2 398.3,371.6 398.4,385.5 398.5,367.0 398.6,289.0 398.7,290.7 398.8,378.7 398.9,388.1 399.0,347.0 399.1,279.0 399.2,317.3 399.3,390.2 399.4,340.6 399.5,279.9 399.6,323.6 399.7,337.8 399.8,334.7 399.9,386.6 400.0,393.9 400.1,301.2 400.2,279.8 400.3,299.9 400.4,396.8 400.5,369.7 400.6,273.7 400.7,388.5 400.8,393.0 400.9,304.9 401.0,309.1 401.1,331.4 401.2,278.5 401.3,311.1 401.4,397.5 401.5,390.0 401.6,278.0 401.7,280.4 401.8,350.4 401.9,373.5 402.0,341.4 402.1,382.9 402.2,335.0 402.3,277.1 402.4,337.0 402.5,362.4 402.6,318.8 402.7,374.2 402.8,351.3 402.9,269.5 403.0,396.6 403.1,374.5 403.2,281.3 403.3,363.1 403.4,345.2 403.5,432.5 403.6,347.4 403.7,383.6 403.8,370.4 403.9,368.1 404.0,266.0 404.1,275.1 404.2,380.2 404.3,380.2 404.4,340.0 404.5,319.5 404.6,344.6 404.7,349.4 404.8,339.4 404.9,366.0 405.0,333.4 405.1,339.3 405.2,358.6 405.3,303.5 405.4,314.1 405.5,362.8 405.6,370.2 405.7,394.0 405.8,276.6 405.9,299.2 406.0,393.3 406.1,393.1 406.2,339.1 406.3,277.0 406.4,330.4 406.5,382.2 406.6,341.3 406.7,294.0 406.8,355.7 406.9,360.1 407.0,330.9 407.1,303.9 407.2,325.5 407.3,344.9 407.4,389.8 407.5,344.7 407.6,389.8 407.7,334.3 407.8,307.6 407.9,338.3 408.0,350.9 408.1,340.7 408.2,311.7 408.3,348.7 408.4,390.0 408.5,362.2 408.6,293.6 408.7,297.0 408.8,295.0 408.9,337.4 409.0,382.9 409.1,390.0 409.2,342.7 409.3,303.2 409.4,306.5 409.5,332.0 409.6,357.6 409.7,368.6 409.8,359.3 409.9,314.4 410.0,310.9 410.1,337.0 410.2,369.0 410.3,381.3 410.4,330.7 410.5,300.0 410.6,389.8 410.7,314.6 410.8,339.7 410.9,385.3 411.0,327.3 411.1,300.6 411.2,320.6 411.3,344.8 411.4,337.2 411.5,320.5 411.6,359.2 411.7,371.3 411.8,332.7 411.9,339.0 412.0,332.6 412.1,300.3 412.2,356.8 412.3,372.7 412.4,345.9 412.5,300.4 412.6,316.1 412.7,348.7 412.8,346.4 412.9,333.6 413.0,366.0 413.1,331.1 413.2,351.5 413.3,356.1 413.4,330.8 413.5,336.9 413.6,343.1 413.7,321.3 413.8,333.1 413.9,354.4 414.0,333.8 414.1,318.4 414.2,342.8 414.3,340.8 414.4,333.6 414.5,347.8 414.6,357.2 414.7,340.5 414.8,308.7 414.9,344.7 415.0,363.9 415.1,329.7 415.2,311.9 415.3,349.7 415.4,358.9 415.5,320.1 415.6,301.0 415.7,349.4 415.8,345.2 415.9,347.5 416.0,336.2 416.1,341.6 416.2,355.5 416.3,342.4 416.4,320.5 416.5,369.5 416.6,314.7 416.7,343.9 416.8,367.7 416.9,350.0 417.0,334.1 417.1,342.9 417.2,346.7 417.3,311.0 417.4,311.9 417.5,336.4 417.6,363.2 417.7,357.3 417.8,349.2 417.9,332.9 418.0,320.7 418.1,321.1 418.2,328.9 418.3,351.5 418.4,361.6 418.5,346.4 418.6,336.8 418.7,342.9 418.8,338.5 418.9,334.3 419.0,331.9 419.1,330.7 419.2,347.4 419.3,348.5 419.4,335.1 419.5,328.1 419.6,339.0 419.7,344.8 419.8,340.4 419.9,350.5 420.0,347.6 420.1,339.4 420.2,348.1 420.3,326.7 420.4,317.2 420.5,340.7 420.6,335.8 420.7,344.8 420.8,361.3 420.9,336.5 421.0,318.4 421.1,344.5 421.2,344.7 421.3,341.4 421.4,350.5 421.5,341.9 421.6,332.2 421.7,328.3 421.8,342.2 421.9,356.3 422.0,359.0 422.1,331.9 422.2,339.5 422.3,330.3 422.4,338.0 422.5,349.3 422.6,338.0 422.7,348.6 422.8,349.2 422.9,335.5 423.0,345.4 423.1,341.6 423.2,335.9 423.3,351.9 423.4,338.3 423.5,322.2 423.6,324.5 423.7,359.8 423.8,359.8 423.9,334.0 424.0,322.9 424.1,338.9 424.2,360.0 424.3,347.6 424.4,328.5 424.5,327.2 424.6,344.7 424.7,347.2 424.8,332.4 424.9,330.3 425.0,360.4 425.1,355.0 425.2,339.3 425.3,333.9 425.4,338.3 425.5,314.0 425.6,352.3 425.7,333.4 425.8,316.6 425.9,337.1 426.0,354.4 426.1,343.0 426.2,330.3 426.3,329.5 426.4,339.6 426.5,361.9 426.6,349.7 426.7,314.3 426.8,326.0 426.9,359.0 427.0,347.1 427.1,314.4 427.2,326.4 427.3,353.6 427.4,342.1 427.5,335.6 427.6,355.2 427.7,363.2 427.8,329.2 427.9,314.5 428.0,333.8 428.1,353.3 428.2,346.2 428.3,351.9 428.4,345.2 428.5,324.0 428.6,325.9 428.7,341.2 428.8,345.9 428.9,347.5 429.0,333.7 429.1,322.3 429.2,358.0 429.3,364.8 429.4,315.1 429.5,316.4 429.6,359.2 429.7,342.3 429.8,323.5 429.9,345.4 430.0,315.0 430.1,341.9 430.2,335.6 430.3,337.7 430.4,340.8 430.5,342.0 430.6,345.1 430.7,334.1 430.8,325.6 430.9,333.9 431.0,348.5 431.1,351.9 431.2,335.3 431.3,325.7 431.4,343.9 431.5,353.7 431.6,341.2 431.7,332.0 431.8,333.2 431.9,340.1 432.0,348.4 432.1,351.3 432.2,343.9 432.3,330.5 432.4,328.6 432.5,340.2 432.6,351.3 432.7,339.3 432.8,330.7 432.9,345.2 433.0,349.8 433.1,340.8 433.2,330.3 433.3,338.6 433.4,351.7 433.5,340.6 433.6,328.7 433.7,339.0 433.8,353.3 433.9,344.4 434.0,325.3 434.1,335.1 434.2,343.6 434.3,332.0 434.4,344.3 434.5,353.4 434.6,340.4 434.7,328.7 434.8,327.2 434.9,344.3 435.0,346.8 435.1,333.8 435.2,337.3 435.3,345.1 435.4,342.3 435.5,337.2 435.6,335.5 435.7,344.5 435.8,347.5 435.9,334.5 436.0,335.3 436.1,344.5 436.2,348.8 436.3,344.0 436.4,330.7 436.5,328.7 436.6,337.6 436.7,343.4 436.8,346.0 436.9,341.4 437.0,334.2 437.1,339.3 437.2,345.3 437.3,347.9 437.4,341.9 437.5,325.2 437.6,334.4 437.7,345.2 437.8,341.2 437.9,348.1 438.0,321.5 438.1,322.6 438.2,325.5 438.3,351.1 438.4,356.2 438.5,339.7 438.6,322.8 438.7,334.6 438.8,349.6 438.9,345.0 439.0,327.2 439.1,330.2 439.2,347.1 439.3,347.8 439.4,344.6 439.5,340.9 439.6,340.2 439.7,346.8 439.8,344.4 439.9,333.7 440.0,332.1 440.1,336.8 440.2,345.5 440.3,351.1 440.4,333.9 440.5,327.6 440.6,340.5 440.7,339.2 440.8,343.2 440.9,350.2 441.0,334.0 441.1,333.9 441.2,353.0 441.3,345.0 441.4,329.2 441.5,334.6 441.6,347.6 441.7,346.0 441.8,339.3 441.9,338.6 442.0,340.3 442.1,337.8 442.2,341.7 442.3,346.1 442.4,337.6 442.5,339.0 442.6,346.4 442.7,333.6 442.8,330.4 442.9,348.1 443.0,344.3 443.1,334.1 443.2,343.3 443.3,342.1 443.4,331.0 443.5,339.2 443.6,347.1 443.7,337.5 443.8,333.5 443.9,346.6 444.0,348.3 444.1,340.0 444.2,337.7 444.3,335.9 444.4,334.8 444.5,340.9 444.6,343.4 444.7,340.1 444.8,341.4 444.9,343.8 445.0,341.8 445.1,334.1 445.2,334.4 445.3,344.8 445.4,344.7 445.5,351.2 445.6,339.5 445.7,339.0 445.8,335.1 445.9,342.7 446.0,345.3 446.1,339.8 446.2,340.6 446.3,335.3 446.4,333.1 446.5,342.2 446.6,345.4 446.7,338.9 446.8,339.7 446.9,344.6 447.0,339.7 447.1,330.8 447.2,335.0 447.3,347.8 447.4,345.9 447.5,333.6 447.6,333.1 447.7,340.5 447.8,343.5 447.9,337.2 448.0,335.0 448.1,344.8 448.2,345.6 448.3,336.3 448.4,333.6 448.5,338.6 448.6,339.3 448.7,343.0 448.8,342.7 448.9,337.4 449.0,340.3 449.1,341.6 449.2,337.8 449.3,335.4 449.4,341.2 449.5,345.4 449.6,345.0 449.7,339.3 449.8,331.9 449.9,335.7 450.0,342.4 450.1,341.4 450.2,338.5 450.3,341.1 450.4,338.9 450.5,335.3 450.6,338.9 450.7,340.8 450.8,340.3 450.9,338.6 451.0,339.7 451.1,345.0 451.2,341.6 451.3,331.0 451.4,341.4 451.5,348.1 451.6,336.0 451.7,329.9 451.8,342.9 451.9,347.0 452.0,336.4 452.1,332.2 452.2,338.6 452.3,342.1 452.4,340.4 452.5,338.6 452.6,340.5 452.7,342.9 452.8,343.1 452.9,342.0 453.0,338.1 453.1,333.0 453.2,339.6 453.3,344.3 453.4,340.3 453.5,341.2 453.6,340.1 453.7,337.1 453.8,339.6 453.9,343.6 454.0,338.4 454.1,334.3 454.2,347.5 454.3,345.5 454.4,332.0 454.5,334.3 454.6,340.9 454.7,344.7 454.8,343.4 454.9,338.2 455.0,338.5 455.1,335.5 455.2,335.7 455.3,345.1 455.4,346.6 455.5,340.9 455.6,334.1 455.7,335.7 455.8,343.1 455.9,343.1 456.0,341.4 456.1,337.5 456.2,333.1 456.3,337.1 456.4,343.2 456.5,347.5 456.6,342.3 456.7,333.5 456.8,334.1 456.9,339.6 457.0,344.3 457.1,347.0 457.2,335.4 457.3,327.5 457.4,343.7 457.5,348.8 457.6,340.5 457.7,336.1 457.8,339.4 457.9,341.3 458.0,331.5 458.1,334.4 458.2,346.6 458.3,347.4 458.4,341.1 458.5,336.3 458.6,342.8 458.7,342.6 458.8,326.6 458.9,331.8 459.0,347.8 459.1,342.0 459.2,330.3 459.3,341.5 459.4,340.2 459.5,333.6 459.6,342.0 459.7,326.0 459.8,342.1 459.9,334.8 460.0,330.5 460.1,337.6 460.2,346.2 460.3,345.6 460.4,332.2 460.5,332.6 460.6,338.9 460.7,336.6 460.8,342.1 460.9,343.3 461.0,338.1 461.1,341.4 461.2,340.5 461.3,337.9 461.4,342.3 461.5,339.8 461.6,337.9 461.7,342.9 461.8,343.5 461.9,339.5 462.0,337.6 462.1,339.7 462.2,341.7 462.3,340.5 462.4,342.9 462.5,341.0 462.6,336.4 462.7,339.3 462.8,343.2 462.9,342.8 463.0,339.2 463.1,337.6 463.2,338.8 463.3,340.6 463.4,342.7 463.5,339.9 463.6,337.6 463.7,339.9 463.8,342.5 463.9,340.7 464.0,339.7 464.1,341.3 464.2,339.4 464.3,337.5 464.4,338.2 464.5,343.7 464.6,344.9 464.7,337.6 464.8,336.3 464.9,340.2 465.0,340.5 465.1,339.5 465.2,338.1 465.3,340.7 465.4,342.0 465.5,341.0 465.6,339.5 465.7,334.0 465.8,338.8 465.9,344.0 466.0,341.6 466.1,339.2 466.2,337.3 466.3,335.5 466.4,341.1 466.5,345.5 466.6,342.3 466.7,332.4 466.8,336.1 466.9,344.4 467.0,340.5 467.1,336.9 467.2,340.7 467.3,337.1 467.4,339.9 467.5,343.4 467.6,341.1 467.7,333.8 467.8,334.3 467.9,339.4 468.0,342.0 468.1,343.1 468.2,340.3 468.3,336.9 468.4,341.7 468.5,344.3 468.6,338.5 468.7,332.3 468.8,335.6 468.9,341.2 469.0,343.1 469.1,342.2 469.2,340.1 469.3,339.1 469.4,337.1 469.5,337.1 469.6,337.8 469.7,340.6 469.8,342.2 469.9,340.8 470.0,342.3 470.1,338.3 470.2,335.9 470.3,342.6 470.4,343.4 470.5,339.9 470.6,337.5 470.7,337.4 470.8,341.7 470.9,345.4 471.0,338.7 471.1,333.8 471.2,338.0 471.3,339.4 471.4,344.7 471.5,344.9 471.6,337.7 471.7,335.7 471.8,336.0 471.9,339.6 472.0,343.5 472.1,343.1 472.2,341.4 472.3,338.5 472.4,336.1 472.5,337.6 472.6,342.2 472.7,342.5 472.8,341.2 472.9,342.4 473.0,340.2 473.1,338.0 473.2,338.4 473.3,335.8 473.4,338.5 473.5,347.9 473.6,347.8 473.7,337.9 473.8,333.0 473.9,339.7 474.0,346.0 474.1,342.1 474.2,339.7 474.3,338.3 474.4,336.4 474.5,338.6 474.6,343.1 474.7,344.2 474.8,341.1 474.9,337.9 475.0,337.9 475.1,342.4 475.2,343.7 475.3,338.3 475.4,335.1 475.5,340.3 475.6,346.7 475.7,339.5 475.8,333.7 475.9,342.3 476.0,342.4 476.1,337.6 476.2,343.5 476.3,342.5 476.4,333.7 476.5,337.8 476.6,344.8 476.7,339.7 476.8,340.4 476.9,342.9 477.0,337.7 477.1,338.3 477.2,342.7 477.3,342.9 477.4,339.4 477.5,339.3 477.6,338.1 477.7,334.5 477.8,339.7 477.9,344.2 478.0,340.2 478.1,335.3 478.2,341.0 478.3,346.7 478.4,339.7 478.5,332.8 478.6,340.2 478.7,344.4 478.8,339.1 478.9,337.0 479.0,335.5 479.1,336.4 479.2,343.4 479.3,345.7 479.4,338.9 479.5,335.1 479.6,341.4 479.7,343.0 479.8,339.9 479.9,338.7 480.0,337.8 480.1,339.9 480.2,341.4 480.3,340.3 480.4,336.3 480.5,338.0 480.6,343.8 480.7,342.2 480.8,339.8 480.9,341.0 481.0,338.3 481.1,337.4 481.2,341.0 481.3,339.4 481.4,338.3 481.5,341.1 481.6,342.2 481.7,342.4 481.8,342.3 481.9,338.4 482.0,335.1 482.1,337.5 482.2,340.9 482.3,341.1 482.4,338.8 482.5,341.2 482.6,342.1 482.7,340.1 482.8,340.0 482.9,338.3 483.0,338.4 483.1,341.4 483.2,341.8 483.3,339.8 483.4,339.8 483.5,338.6 483.6,336.3 483.7,340.0 483.8,343.5 483.9,342.2 484.0,341.6 484.1,342.2 484.2,337.6 484.3,334.8 484.4,340.9 484.5,342.8 484.6,340.5 484.7,342.4 484.8,342.1 484.9,336.5 485.0,336.5 485.1,342.7 485.2,341.8 485.3,337.5 485.4,339.1 485.5,340.8 485.6,339.5 485.7,340.5 485.8,340.8 485.9,339.1 486.0,340.5 486.1,340.6 486.2,340.1 486.3,340.4 486.4,338.6 486.5,341.0 486.6,342.8 486.7,339.9 486.8,338.3 486.9,337.1 487.0,337.9 487.1,341.2 487.2,341.7 487.3,342.2 487.4,341.1 487.5,338.0 487.6,338.5 487.7,340.0 487.8,340.6 487.9,339.9 488.0,339.0 488.1,340.2 488.2,339.9 488.3,341.8 488.4,341.2 488.5,337.0 488.6,338.2 488.7,340.3 488.8,342.1 488.9,341.5 489.0,337.7 489.1,338.7 489.2,341.0 489.3,340.4 489.4,339.3 489.5,339.3 489.6,339.7 489.7,340.0 489.8,340.2 489.9,338.4 490.0,339.7 490.1,342.7 490.2,340.2 490.3,337.8 490.4,339.6 490.5,341.0 490.6,340.2 490.7,338.2 490.8,340.9 490.9,343.2 491.0,340.7 491.1,336.2 491.2,337.6 491.3,341.6 491.4,342.6 491.5,339.1 491.6,337.8 491.7,341.3 491.8,341.3 491.9,340.1 492.0,340.1 492.1,338.1 492.2,336.9 492.3,340.2 492.4,342.2 492.5,341.0 492.6,339.1 492.7,339.8 492.8,339.6 492.9,338.9 493.0,340.6 493.1,341.0 493.2,339.8 493.3,339.4 493.4,340.3 493.5,341.1 493.6,339.5 493.7,338.1 493.8,340.8 493.9,341.5 494.0,339.1 494.1,337.9 494.2,340.4 494.3,342.0 494.4,341.0 494.5,338.5 494.6,338.8 494.7,341.5 494.8,339.8 494.9,335.2 495.0,338.2 495.1,343.6 495.2,342.9 495.3,340.1 495.4,339.7 495.5,340.3 495.6,340.1 495.7,340.8 495.8,340.8 495.9,339.8 496.0,338.7 496.1,340.7 496.2,340.5 496.3,337.0 496.4,339.9 496.5,343.3 496.6,342.3 496.7,337.1 496.8,335.2 496.9,341.9 497.0,344.2 497.1,338.3 497.2,335.6 497.3,341.7 497.4,340.8 497.5,337.1 497.6,339.8 497.7,342.3 497.8,341.0 497.9,338.8 498.0,339.9 498.1,341.8 498.2,338.5 498.3,338.2 498.4,343.1 498.5,342.9 498.6,339.1 498.7,338.9 498.8,337.8 498.9,335.2 499.0,340.3 499.1,342.9 499.2,339.6 499.3,341.3 499.4,342.4 499.5,338.4 499.6,340.9 499.7,341.0 499.8,336.4 499.9,341.0 500.0,343.6 500.1,336.6 500.2,335.2 500.3,342.9 500.4,344.4 500.5,340.5 500.6,338.0 500.7,337.3 500.8,339.4 500.9,343.1 501.0,340.0 501.1,337.8 501.2,341.4 501.3,340.2 501.4,339.2 501.5,341.1 501.6,341.7 501.7,339.4 501.8,339.0 501.9,339.5 502.0,338.9 502.1,340.3 502.2,341.1 502.3,341.4 502.4,338.8 502.5,339.3 502.6,340.8 502.7,337.3 502.8,339.6 502.9,343.8 503.0,341.1 503.1,338.4 503.2,340.3 503.3,339.7 503.4,338.0 503.5,339.1 503.6,340.9 503.7,341.3 503.8,338.8 503.9,338.0 504.0,341.4 504.1,340.9 504.2,339.6 504.3,341.0 504.4,339.6 504.5,338.5 504.6,340.1 504.7,341.8 504.8,339.9 504.9,339.1 505.0,341.9 505.1,339.1 505.2,335.5 505.3,339.8 505.4,344.3 505.5,342.8 505.6,336.8 505.7,337.7 505.8,341.9 505.9,339.7 506.0,339.1 506.1,341.3 506.2,339.9 506.3,341.7 506.4,341.2 506.5,335.7 506.6,339.1 506.7,344.3 506.8,342.8 506.9,335.9 507.0,335.8 507.1,340.7 507.2,342.5 507.3,340.3 507.4,337.9 507.5,340.1 507.6,342.6 507.7,338.7 507.8,336.8 507.9,341.3 508.0,341.6 508.1,340.0 508.2,341.4 508.3,341.4 508.4,338.4 508.5,337.8 508.6,341.7 508.7,340.4 508.8,338.6 508.9,341.3 509.0,340.4 509.1,339.7 509.2,339.6 509.3,337.1 509.4,339.3 509.5,343.5 509.6,342.4 509.7,340.7 509.8,340.3 509.9,340.9 510.0,339.6 510.1,337.2 510.2,339.0 510.3,340.5 510.4,340.9 510.5,340.6 510.6,338.3 510.7,339.4 510.8,340.3 510.9,338.6 511.0,339.7 511.1,340.6 511.2,341.1 511.3,342.8 511.4,340.8 511.5,337.5 511.6,340.0 511.7,340.6 511.8,338.1 511.9,339.4 512.0,342.1 512.1,342.2 512.2,339.4 512.3,337.5 512.4,340.7 512.5,341.6 512.6,339.2 512.7,339.8 512.8,341.3 512.9,339.0 513.0,337.5 513.1,341.6 513.2,340.7 513.3,336.5 513.4,341.4 513.5,343.3 513.6,339.0 513.7,338.9 513.8,339.9 513.9,340.2 514.0,340.7 514.1,340.7 514.2,341.3 514.3,338.6 514.4,338.2 514.5,341.3 514.6,341.0 514.7,338.5 514.8,336.0 514.9,339.2 515.0,344.0 515.1,342.9 515.2,337.9 515.3,338.0 515.4,339.4 515.5,340.2 515.6,342.1 515.7,342.8 515.8,338.7 515.9,337.5 516.0,340.4 516.1,340.6 516.2,340.1 516.3,339.5 516.4,340.4 516.5,340.6 516.6,340.9 516.7,340.1 516.8,336.9 516.9,341.2 517.0,343.4 517.1,339.7 517.2,338.8 517.3,340.9 517.4,341.6 517.5,337.7 517.6,338.6 517.7,341.3 517.8,338.5 517.9,339.2 518.0,341.5 518.1,341.2 518.2,339.5 518.3,339.2 518.4,340.4 518.5,340.2 518.6,338.7 518.7,339.3 518.8,341.2 518.9,341.5 519.0,340.9 519.1,339.5 519.2,339.3 519.3,341.3 519.4,340.2 519.5,337.8 519.6,340.3 519.7,341.8 519.8,340.8 519.9,338.3 520.0,338.0 520.1,339.1 520.2,339.7 520.3,342.2 520.4,341.6 520.5,337.6 520.6,339.1 520.7,341.4 520.8,340.2 520.9,341.1 521.0,341.8 521.1,339.4 521.2,338.4 521.3,339.7 521.4,340.9 521.5,341.1 521.6,340.3 521.7,341.1 521.8,339.9 521.9,336.7 522.0,339.0 522.1,341.4 522.2,341.5 522.3,340.2 522.4,337.5 522.5,340.4 522.6,343.5 522.7,339.7 522.8,336.1 522.9,338.6 523.0,341.6 523.1,343.3 523.2,341.4 523.3,338.0 523.4,338.4 523.5,339.3 523.6,339.3 523.7,342.1 523.8,342.4 523.9,338.6 524.0,338.1 524.1,338.8 524.2,337.8 524.3,340.9 524.4,343.4 524.5,340.6 524.6,337.7 524.7,339.7 524.8,339.4 524.9,339.8 525.0,341.0 525.1,339.4 525.2,340.1 525.3,341.1 525.4,339.8 525.5,340.5 525.6,339.4 525.7,338.5 525.8,341.3 525.9,341.8 526.0,340.0 526.1,338.9 526.2,338.9 526.3,340.1 526.4,340.6 526.5,338.9 526.6,338.2 526.7,341.7 526.8,342.5 526.9,339.3 527.0,339.8 527.1,339.7 527.2,338.4 527.3,341.5 527.4,341.1 527.5,338.2 527.6,340.0 527.7,340.6 527.8,338.6 527.9,339.8 528.0,342.8 528.1,341.7 528.2,337.5 528.3,338.5 528.4,341.8 528.5,340.9 528.6,339.5 528.7,339.4 528.8,338.3 528.9,339.1 529.0,341.1 529.1,340.1 529.2,338.6 529.3,341.7 529.4,342.7 529.5,339.1 529.6,337.3 529.7,338.2 529.8,339.8 529.9,342.2 530.0,342.8 530.1,339.8 530.2,337.0 530.3,339.4 530.4,341.2 530.5,340.1 530.6,340.0 530.7,340.8 530.8,337.5 530.9,339.5 531.0,342.9 531.1,340.9 531.2,337.9 531.3,338.6 531.4,339.8 531.5,340.6 531.6,340.6 531.7,340.6 531.8,339.6 531.9,338.5 532.0,340.4 532.1,340.4 532.2,340.9 532.3,341.3 532.4,338.0 532.5,338.2 532.6,341.4 532.7,342.1 532.8,339.9 532.9,337.2 533.0,339.4 533.1,341.3 533.2,340.7 533.3,340.5 533.4,339.9 533.5,339.3 533.6,339.1 533.7,339.2 533.8,340.8 533.9,341.7 534.0,339.3 534.1,338.8 534.2,340.8 534.3,339.6 534.4,339.9 534.5,341.3 534.6,340.6 534.7,338.8 534.8,339.2 534.9,340.8 535.0,340.5 535.1,339.6 535.2,340.8 535.3,339.5 535.4,337.4 535.5,339.7 535.6,341.6 535.7,341.4 535.8,340.2 535.9,338.5 536.0,339.2 536.1,340.4 536.2,340.7 536.3,340.8 536.4,339.2 536.5,338.3 536.6,339.7 536.7,339.8 536.8,339.0 536.9,340.1 537.0,341.3 537.1,340.9 537.2,338.4 537.3,338.5 537.4,342.3 537.5,342.4 537.6,339.3 537.7,338.3 537.8,340.4 537.9,341.0 538.0,339.9 538.1,338.5 538.2,338.9 538.3,339.5 538.4,339.5 538.5,341.0 538.6,341.8 538.7,339.2 538.8,337.1 538.9,340.4 539.0,342.3 539.1,339.8 539.2,337.1 539.3,338.7 539.4,340.9 539.5,341.8 539.6,340.6 539.7,338.2 539.8,339.4 539.9,340.7 540.0,340.4 540.1,339.9 540.2,339.8 540.3,340.0 540.4,339.4 540.5,339.6 540.6,341.1 540.7,341.8 540.8,340.0 540.9,338.3 541.0,338.7 541.1,339.2 541.2,340.2 541.3,340.8 541.4,341.2 541.5,340.9 541.6,338.6 541.7,338.2 541.8,340.1 541.9,340.7 542.0,341.0 542.1,339.7 542.2,339.3 542.3,340.3 542.4,339.9 542.5,340.4 542.6,339.4 542.7,338.7 542.8,341.0 542.9,341.0 543.0,339.4 543.1,338.5 543.2,340.3 543.3,341.2 543.4,339.1 543.5,337.6 543.6,340.4 543.7,341.8 543.8,339.8 543.9,338.3 544.0,340.7 544.1,341.2 544.2,340.2 544.3,339.6 544.4,339.4 544.5,341.4 544.6,341.6 544.7,337.6 544.8,337.5 544.9,340.4 545.0,340.5 545.1,340.4 545.2,341.4 545.3,341.0 545.4,339.8 545.5,338.7 545.6,338.5 545.7,340.6 545.8,341.0 545.9,338.6 546.0,339.0 546.1,341.5 546.2,340.7 546.3,338.7 546.4,339.8 546.5,341.1 546.6,341.1 546.7,337.7 546.8,337.4 546.9,342.0 547.0,341.9 547.1,338.7 547.2,338.1 547.3,339.7 547.4,341.3 547.5,341.8 547.6,340.6 547.7,339.0 547.8,337.4 547.9,338.4 548.0,341.7 548.1,341.5 548.2,338.8 548.3,338.5 548.4,339.9 548.5,340.3 548.6,340.4 548.7,339.5 548.8,340.4 548.9,340.9 549.0,339.8 549.1,339.6 549.2,339.7 549.3,340.4 549.4,340.5 549.5,339.1 549.6,339.4 549.7,340.1 549.8,340.5 549.9,341.5 550.0,340.9 550.1,339.1 550.2,339.7 550.3,340.1 550.4,339.1 550.5,340.1 550.6,340.7 550.7,340.1 550.8,339.2 550.9,339.3 551.0,340.5 551.1,340.3 551.2,340.0 551.3,340.7 551.4,340.6 551.5,338.9 551.6,338.4 551.7,340.4 551.8,341.0 551.9,340.2 552.0,339.8 552.1,340.2 552.2,339.2 552.3,338.0 552.4,339.4 552.5,340.9 552.6,340.9 552.7,340.5 552.8,340.0 552.9,339.3 553.0,339.9 553.1,340.0 553.2,340.5 553.3,340.4 553.4,339.6 553.5,340.0 553.6,339.9 553.7,340.6 553.8,340.3 553.9,339.2 554.0,339.5 554.1,340.3 554.2,341.1 554.3,340.6 554.4,339.5 554.5,339.1 554.6,338.6 554.7,339.2 554.8,340.4 554.9,340.8 555.0,340.1 555.1,338.7 555.2,339.8 555.3,341.2 555.4,341.5 555.5,338.7 555.6,337.5 555.7,340.1 555.8,341.9 555.9,340.6 556.0,338.4 556.1,340.2 556.2,340.5 556.3,339.2 556.4,340.0 556.5,340.4 556.6,340.2 556.7,340.8 556.8,339.4 556.9,338.8 557.0,340.6 557.1,339.9 557.2,339.8 557.3,340.5 557.4,340.8 557.5,340.1 557.6,339.8 557.7,341.0 557.8,340.6 557.9,337.5 558.0,338.0 558.1,341.3 558.2,341.5 558.3,340.8 558.4,340.7 558.5,338.2 558.6,337.5 558.7,340.1 558.8,341.9 558.9,340.6 559.0,338.9 559.1,340.2 559.2,340.3 559.3,339.6 559.4,339.2 559.5,339.6 559.6,340.4 559.7,340.8 559.8,340.4 559.9,339.6 560.0,340.0 560.1,341.0 560.2,339.8 560.3,337.6 560.4,339.2 560.5,341.6 560.6,341.3 560.7,339.3 560.8,339.1 560.9,339.9 561.0,340.1 561.1,340.4 561.2,340.7 561.3,340.5 561.4,339.9 561.5,339.5 561.6,340.5 561.7,340.5 561.8,339.1 561.9,340.3 562.0,339.9 562.1,338.7 562.2,341.1 562.3,340.4 562.4,338.5 562.5,340.5 562.6,341.4 562.7,340.3 562.8,338.7 562.9,339.0 563.0,340.1 563.1,340.5 563.2,340.2 563.3,339.6 563.4,340.3 563.5,339.9 563.6,339.2 563.7,340.2 563.8,340.3 563.9,340.5 564.0,340.2 564.1,338.8 564.2,340.1 564.3,341.0 564.4,340.7 564.5,340.2 564.6,339.8 564.7,339.2 564.8,338.9 564.9,339.6 565.0,339.9 565.1,339.7 565.2,340.7 565.3,340.7 565.4,339.7 565.5,340.5 565.6,340.0 565.7,339.2 565.8,339.9 565.9,339.6 566.0,340.4 566.1,340.9 566.2,339.0 566.3,338.5 566.4,340.6 566.5,340.8 566.6,340.3 566.7,339.1 566.8,339.2 566.9,341.3 567.0,341.0 567.1,338.6 567.2,339.2 567.3,341.0 567.4,340.4 567.5,337.9 567.6,339.4 567.7,341.7 567.8,340.6 567.9,337.8 568.0,339.9 568.1,340.9 568.2,340.2 568.3,339.5 568.4,339.5 568.5,340.2 568.6,340.8 568.7,339.9 568.8,338.9 568.9,339.8 569.0,340.5 569.1,340.2 569.2,340.0 569.3,340.4 569.4,339.8 569.5,340.1 569.6,340.7 569.7,339.9 569.8,340.1 569.9,340.6 570.0,340.4 570.1,340.2 570.2,339.4 570.3,339.5 570.4,340.7 570.5,340.3 570.6,339.2 570.7,340.4 570.8,340.9 570.9,339.8 571.0,338.6 571.1,339.8 571.2,341.1 571.3,340.8 571.4,339.3 571.5,338.6 571.6,340.3 571.7,340.5 571.8,339.9 571.9,340.5 572.0,339.5 572.1,338.9 572.2,340.6 572.3,341.0 572.4,339.4 572.5,338.1 572.6,340.2 572.7,340.9 572.8,339.5 572.9,339.8 573.0,340.8 573.1,340.6 573.2,339.6 573.3,339.0 573.4,339.5 573.5,340.4 573.6,340.3 573.7,339.3 573.8,340.1 573.9,340.6 574.0,340.5 574.1,340.5 574.2,339.8 574.3,339.1 574.4,340.0 574.5,340.4 574.6,340.5 574.7,340.6 574.8,339.0 574.9,338.5 575.0,340.8 575.1,341.2 575.2,339.1 575.3,338.5 575.4,340.2 575.5,339.6 575.6,339.7 575.7,340.9 575.8,340.4 575.9,340.1 576.0,339.1 576.1,338.8 576.2,341.0 576.3,340.9 576.4,339.7 576.5,340.3 576.6,340.5 576.7,339.9 576.8,339.6 576.9,339.7 577.0,339.3 577.1,340.2 577.2,341.2 577.3,340.3 577.4,338.6 577.5,340.2 577.6,340.8 577.7,339.7 577.8,339.7 577.9,340.6 578.0,340.2 578.1,338.6 578.2,338.2 578.3,340.0 578.4,341.2 578.5,341.2 578.6,340.7 578.7,339.4 578.8,339.2 578.9,340.4 579.0,339.1 579.1,338.5 579.2,340.6 579.3,340.1 579.4,339.6 579.5,340.7 579.6,341.0 579.7,340.2 579.8,338.6 579.9,338.8 580.0,340.3 580.1,341.0 580.2,339.7 580.3,338.7 580.4,340.0 580.5,340.8 580.6,340.0 580.7,339.7 580.8,340.4 580.9,340.2 581.0,339.6 581.1,340.1 581.2,340.2 581.3,339.4 581.4,339.8 581.5,340.4 581.6,341.7 581.7,341.7 581.8,337.8 581.9,337.7 582.0,340.3 582.1,341.2 582.2,340.5 582.3,339.5 582.4,339.7 582.5,340.3 582.6,340.4 582.7,341.0 582.8,340.4 582.9,338.5 583.0,339.2 583.1,340.8 583.2,340.2 583.3,337.8 583.4,339.8 583.5,341.2 583.6,340.7 583.7,340.8 583.8,340.6 583.9,339.8 584.0,338.3 584.1,338.8 584.2,340.7 584.3,340.3 584.4,339.5 584.5,340.9 584.6,340.4 584.7,339.1 584.8,340.8 584.9,340.3 585.0,338.5 585.1,339.1 585.2,339.5 585.3,341.2 585.4,341.2 585.5,338.6 585.6,338.8 585.7,340.8 585.8,340.8 585.9,338.5 586.0,338.4 586.1,341.1 586.2,340.9 586.3,339.3 586.4,339.5 586.5,340.3 586.6,340.6 586.7,339.4 586.8,339.3 586.9,340.5 587.0,339.6 587.1,339.0 587.2,340.4 587.3,340.4 587.4,340.8 587.5,340.6 587.6,338.8 587.7,339.3 587.8,340.2 587.9,340.3 588.0,340.2 588.1,339.7 588.2,340.2 588.3,340.2 588.4,339.5 588.5,340.0 588.6,340.8 588.7,339.9 588.8,338.7 588.9,339.6 589.0,340.7 589.1,340.9 589.2,339.9 589.3,338.8 589.4,340.5 589.5,341.2 589.6,339.3 589.7,338.3 589.8,340.3 589.9,341.0 590.0,340.4 590.1,340.0 590.2,339.5 590.3,340.0 590.4,341.0 590.5,340.5 590.6,339.2 590.7,339.3 590.8,340.2 590.9,340.1 591.0,340.8 591.1,340.9 591.2,338.6 591.3,339.3 591.4,340.3 591.5,339.9 591.6,339.6 591.7,340.4 591.8,340.9 591.9,340.1 592.0,340.1 592.1,340.3 592.2,340.0 592.3,340.1 592.4,339.2 592.5,339.0 592.6,339.9 592.7,341.0 592.8,341.0 592.9,338.5 593.0,338.1 593.1,340.2 593.2,341.0 593.3,340.8 593.4,339.4 593.5,339.1 593.6,340.1 593.7,340.3 593.8,340.1 593.9,340.0 594.0,340.2 594.1,340.9 594.2,340.6 594.3,338.2 594.4,338.2 594.5,341.0 594.6,340.9 594.7,340.1 594.8,339.3 594.9,339.9 595.0,340.9 595.1,340.2 595.2,340.1 595.3,340.0 595.4,339.8 595.5,340.3 595.6,340.5 595.7,339.7 595.8,338.7 595.9,340.5 596.0,341.3 596.1,340.3 596.2,339.2 596.3,338.8 596.4,340.0 596.5,340.7 596.6,340.4 596.7,340.3 596.8,339.9 596.9,339.5 597.0,340.2 597.1,340.2 597.2,339.8 597.3,340.3 597.4,340.2 597.5,340.0 597.6,340.2 597.7,340.1 597.8,339.8 597.9,339.2 598.0,339.8 598.1,340.7 598.2,340.7 598.3,339.4 598.4,339.0 598.5,340.5 598.6,341.1 598.7,340.4 598.8,339.4 598.9,339.7 599.0,340.5 599.1,340.4 599.2,339.5 599.3,339.3 599.4,340.6 599.5,341.0 599.6,339.9 599.7,338.8 599.8,340.0 599.9,340.3 600.0,340.3 600.1,340.4 600.2,339.4 600.3,340.1 600.4,341.0 600.5,340.4 600.6,339.7 600.7,339.2 600.8,340.0 600.9,340.7 601.0,340.2 601.1,339.1 601.2,339.2 601.3,340.3 601.4,340.6 601.5,340.6 601.6,340.1 601.7,338.8 601.8,338.8 601.9,340.4 602.0,341.0 602.1,340.6 602.2,340.0 602.3,339.8 602.4,339.4 602.5,339.7 602.6,339.8 602.7,339.9 602.8,340.8 602.9,340.6 603.0,339.5 603.1,339.7 603.2,340.0 603.3,339.7 603.4,340.1 603.5,340.3 603.6,340.2 603.7,340.1 603.8,339.8 603.9,340.0 604.0,340.2 604.1,339.7 604.2,339.6 604.3,340.0 604.4,340.3 604.5,339.8 604.6,340.1 604.7,340.7 604.8,340.5 604.9,340.0 605.0,340.3 605.1,340.2 605.2,338.9 605.3,339.4 605.4,340.8 605.5,340.5 605.6,339.8 605.7,339.6 605.8,340.5 605.9,340.8 606.0,339.4 606.1,339.2 606.2,340.0 606.3,339.6 606.4,339.8 606.5,340.7 606.6,340.5 606.7,339.6 606.8,339.9 606.9,340.5 607.0,340.4 607.1,339.8 607.2,339.8 607.3,339.9 607.4,340.4 607.5,340.5 607.6,339.7 607.7,340.1 607.8,340.7 607.9,340.2 608.0,339.3 608.1,339.3 608.2,340.1 608.3,340.1 608.4,339.9 608.5,340.3 608.6,340.0 608.7,340.2 608.8,340.8 608.9,339.9 609.0,339.4 609.1,339.9 609.2,340.2 609.3,340.5 609.4,339.7 609.5,339.4 609.6,340.2 609.7,340.1 609.8,339.9 609.9,340.4 610.0,340.6 610.1,340.0 610.2,339.8 610.3,340.9 610.4,340.3 610.5,339.0 610.6,339.2 610.7,340.1 610.8,340.8 610.9,340.9 611.0,339.6 611.1,339.0 611.2,340.1 611.3,340.5 611.4,340.4 611.5,340.2 611.6,339.8 611.7,339.6 611.8,339.5 611.9,340.1 612.0,340.9 612.1,340.7 612.2,340.1 612.3,340.1 612.4,339.5 612.5,339.4 612.6,340.5 612.7,340.9 612.8,340.1 612.9,339.2 613.0,339.6 613.1,340.4 613.2,340.4 613.3,340.0 613.4,339.8 613.5,339.8 613.6,340.2 613.7,340.3 613.8,340.0 613.9,339.5 614.0,339.6 614.1,340.2 614.2,340.5 614.3,340.1 614.4,339.6 614.5,340.3 614.6,340.5 614.7,340.0 614.8,340.1 614.9,340.1 615.0,340.0 615.1,340.1 615.2,340.0 615.3,339.8 615.4,340.3 615.5,340.4 615.6,339.7 615.7,339.7 615.8,340.5 615.9,340.8 616.0,340.0 616.1,339.2 616.2,339.7 616.3,340.1 616.4,340.5 616.5,340.4 616.6,339.4 616.7,340.0 616.8,340.5 616.9,340.1 617.0,340.0 617.1,339.6 617.2,339.4 617.3,340.6 617.4,340.8 617.5,339.5 617.6,339.2 617.7,340.1 617.8,340.8 617.9,340.1 618.0,339.5 618.1,340.4 618.2,340.6 618.3,340.5 618.4,340.1 618.5,339.4 618.6,339.7 618.7,339.8 618.8,340.0 618.9,340.4 619.0,340.5 619.1,340.2 619.2,339.6 619.3,339.7 619.4,339.7 619.5,339.8 619.6,340.3 619.7,340.5 619.8,340.6 619.9,340.0 620.0,339.3 620.1,340.1 620.2,340.4 620.3,340.3 620.4,340.5 620.5,340.2 620.6,339.6 620.7,339.7 620.8,340.2 620.9,339.9 621.0,339.7 621.1,340.4 621.2,340.5 621.3,339.9 621.4,339.9 621.5,340.1 621.6,340.0 621.7,340.3 621.8,340.3 621.9,339.9 622.0,340.2 622.1,340.4 622.2,339.9 622.3,339.7 622.4,340.1 622.5,340.5 622.6,339.7 622.7,339.2 622.8,340.2 622.9,340.5 623.0,340.4 623.1,340.3 623.2,340.0 623.3,339.9 623.4,340.0 623.5,340.0 623.6,340.5 623.7,340.5 623.8,339.9 623.9,339.7 624.0,339.6 624.1,339.3 624.2,339.9 624.3,340.7 624.4,340.6 624.5,340.2 624.6,340.2 624.7,339.6 624.8,339.3 624.9,340.2 625.0,340.8 625.1,340.6 625.2,339.3 625.3,339.7 625.4,340.5 625.5,340.1 625.6,339.3 625.7,339.8 625.8,340.8 625.9,340.4 626.0,339.6 626.1,339.9 626.2,340.2 626.3,340.1 626.4,339.9 626.5,340.5 626.6,340.6 626.7,339.7 626.8,340.1 626.9,340.3 627.0,339.7 627.1,340.0 627.2,340.2 627.3,339.9 627.4,340.0 627.5,340.3 627.6,340.3 627.7,340.1 627.8,340.0 627.9,339.8 628.0,339.7 628.1,339.9 628.2,340.5 628.3,340.5 628.4,339.7 628.5,339.7 628.6,340.2 628.7,340.1 628.8,340.0 628.9,340.1 629.0,340.2 629.1,340.0 629.2,340.0 629.3,340.1 629.4,340.1 629.5,340.2 629.6,340.3 629.7,340.2 629.8,339.6 629.9,339.3 630.0,340.0 630.1,340.6 630.2,340.5 630.3,340.2 630.4,339.6 630.5,339.9 630.6,340.2 630.7,340.2 630.8,340.1 630.9,339.8 631.0,340.1 631.1,340.4 631.2,340.1 631.3,339.7 631.4,340.2 631.5,340.4 631.6,339.8 631.7,340.0 631.8,340.2 631.9,339.9 632.0,339.9 632.1,340.3 632.2,340.6 632.3,339.8 632.4,339.4 632.5,340.1 632.6,340.7 632.7,340.1 632.8,339.6 632.9,340.2 633.0,340.3 633.1,340.3 633.2,340.3 633.3,340.0 633.4,339.8 633.5,340.0 633.6,340.0 633.7,340.1 633.8,340.3 633.9,340.2 634.0,340.2 634.1,339.6 634.2,339.6 634.3,340.3 634.4,340.3 634.5,340.2 634.6,340.3 634.7,340.4 634.8,339.8 634.9,339.4 635.0,340.1 635.1,340.4 635.2,340.4 635.3,339.9 635.4,339.4 635.5,340.1 635.6,340.6 635.7,340.4 635.8,339.9 635.9,339.8 636.0,340.0 636.1,340.2 636.2,340.4 636.3,339.9 636.4,339.7 636.5,340.4 636.6,340.7 636.7,340.3 636.8,339.7 636.9,339.8 637.0,339.9 637.1,339.8 637.2,340.3 637.3,340.4 637.4,339.6 637.5,339.8 637.6,340.6 637.7,340.5 637.8,339.7 637.9,339.5 638.0,340.2 638.1,340.6 638.2,340.2 638.3,339.6 638.4,339.6 638.5,340.0 638.6,340.5 638.7,340.4 638.8,339.8 638.9,339.7 639.0,340.3 639.1,340.5 639.2,340.0 639.3,340.0 639.4,340.5 639.5,339.8 639.6,339.4 639.7,340.2 639.8,340.6 639.9,339.9 640.0,339.4 640.1,340.1 640.2,340.6 640.3,340.3 640.4,339.6 640.5,339.7 640.6,340.0 640.7,340.2 640.8,340.5 640.9,340.4 641.0,339.6 641.1,339.6 641.2,340.0 641.3,339.8 641.4,340.5 641.5,340.6 641.6,340.2 641.7,339.5 641.8,339.7 641.9,340.3 642.0,340.1 642.1,340.0 642.2,340.5 642.3,340.0 642.4,339.8 642.5,340.5 642.6,339.9 642.7,339.5 642.8,340.4 642.9,340.5 643.0,340.2 643.1,340.0 643.2,340.0 643.3,340.1 643.4,340.0 643.5,339.7 643.6,340.0 643.7,340.5 643.8,340.3" fill="none" stroke="#0000ff" stroke-width="0.65" stroke-linejoin="bevel"/>
<path fill="none" stroke="#454545" stroke-width="1" stroke-linecap="round" stroke-linejoin="round" d="M248.00,23.60 248.00,33.20M248.00,23.60 251.30,23.60M248.00,28.17 250.79,28.17M248.00,33.20 251.30,33.20M260.20,23.60 260.20,33.20M264.42,23.60 264.42,33.20M260.20,28.17 264.42,28.17M268.33,23.60 267.73,24.06 267.13,24.97 266.83,25.89 266.53,27.26 266.53,29.54 266.83,30.91 267.13,31.83 267.73,32.74 268.33,33.20 269.54,33.20 270.14,32.74 270.74,31.83 271.05,30.91 271.35,29.54 271.35,27.26 271.05,25.89 270.74,24.97 270.14,24.06 269.54,23.60 268.33,23.60M277.37,24.97 276.77,24.06 275.87,23.60 274.66,23.60 273.76,24.06 273.16,24.97 273.16,25.89 273.46,26.80 273.76,27.26 274.36,27.71 276.17,28.63 276.77,29.09 277.07,29.54 277.37,30.46 277.37,31.83 276.77,32.74 275.87,33.20 274.66,33.20 273.76,32.74 273.16,31.83M279.48,23.60 279.48,33.20M279.48,23.60 282.19,23.60 283.10,24.06 283.40,24.51 283.70,25.43 283.70,26.80 283.40,27.71 283.10,28.17 282.19,28.63 279.48,28.63M292.10,23.60 293.52,33.20M294.95,23.60 293.52,33.20M294.95,23.60 296.37,33.20M297.79,23.60 296.37,33.20M300.92,23.60 298.65,33.20M300.92,23.60 303.20,33.20M299.50,30.00 302.35,30.00M311.40,23.60 311.40,33.20M311.40,23.60 315.56,33.20M315.56,23.60 315.56,33.20M317.94,23.60 317.94,33.20M319.43,23.60 321.81,33.20M324.19,23.60 321.81,33.20M325.38,23.60 325.38,33.20M325.38,23.60 329.25,23.60M325.38,28.17 328.65,28.17M325.38,33.20 329.25,33.20M331.33,23.60 331.33,33.20M331.33,33.20 334.90,33.20M347.32,24.97 346.72,24.06 345.81,23.60 344.61,23.60 343.70,24.06 343.10,24.97 343.10,25.89 343.40,26.80 343.70,27.26 344.31,27.71 346.11,28.63 346.72,29.09 347.02,29.54 347.32,30.46 347.32,31.83 346.72,32.74 345.81,33.20 344.61,33.20 343.70,32.74 343.10,31.83M349.43,23.60 349.43,30.46 349.73,31.83 350.33,32.74 351.24,33.20 351.84,33.20 352.74,32.74 353.35,31.83 353.65,30.46 353.65,23.60M356.06,23.60 356.06,33.20M356.06,23.60 358.77,23.60 359.67,24.06 359.98,24.51 360.28,25.43 360.28,26.80 359.98,27.71 359.67,28.17 358.77,28.63 356.06,28.63M362.09,23.60 362.09,33.20M362.09,23.60 366.00,23.60M362.09,28.17 365.40,28.17M362.09,33.20 366.00,33.20M368.11,23.60 368.11,33.20M368.11,23.60 370.82,23.60 371.73,24.06 372.03,24.51 372.33,25.43 372.33,26.34 372.03,27.26 371.73,27.71 370.82,28.17 368.11,28.17M370.22,28.17 372.33,33.20M374.44,23.60 374.44,33.20M378.36,23.60 377.76,24.06 377.15,24.97 376.85,25.89 376.55,27.26 376.55,29.54 376.85,30.91 377.15,31.83 377.76,32.74 378.36,33.20 379.56,33.20 380.17,32.74 380.77,31.83 381.07,30.91 381.37,29.54 381.37,27.26 381.07,25.89 380.77,24.97 380.17,24.06 379.56,23.60 378.36,23.60M383.48,23.60 383.48,33.20M383.48,23.60 386.19,23.60 387.10,24.06 387.40,24.51 387.70,25.43 387.70,26.34 387.40,27.26 387.10,27.71 386.19,28.17 383.48,28.17M385.59,28.17 387.70,33.20M396.40,21.77 396.40,36.40M396.40,21.77 398.48,21.77M396.40,36.40 398.48,36.40M402.36,23.60 399.97,33.20M402.36,23.60 404.74,33.20M400.87,30.00 403.85,30.00M410.40,25.89 410.10,24.97 409.50,24.06 408.91,23.60 407.72,23.60 407.12,24.06 406.53,24.97 406.23,25.89 405.93,27.26 405.93,29.54 406.23,30.91 406.53,31.83 407.12,32.74 407.72,33.20 408.91,33.20 409.50,32.74 410.10,31.83 410.40,30.91M412.18,23.60 412.18,33.20M412.18,23.60 416.06,23.60M412.18,28.17 415.46,28.17M412.18,33.20 416.06,33.20M418.14,23.60 418.14,33.20M418.14,33.20 421.71,33.20M422.90,23.60 422.90,33.20M422.90,23.60 426.78,23.60M422.90,28.17 426.18,28.17M422.90,33.20 426.78,33.20M428.86,23.60 428.86,33.20M428.86,23.60 431.54,23.60 432.43,24.06 432.73,24.51 433.03,25.43 433.03,26.34 432.73,27.26 432.43,27.71 431.54,28.17 428.86,28.17M430.95,28.17 433.03,33.20M436.60,23.60 434.22,33.20M436.60,23.60 438.99,33.20M435.11,30.00 438.09,30.00M444.64,25.89 444.35,24.97 443.75,24.06 443.16,23.60 441.96,23.60 441.37,24.06 440.77,24.97 440.48,25.89 440.18,27.26 440.18,29.54 440.48,30.91 440.77,31.83 441.37,32.74 441.96,33.20 443.16,33.20 443.75,32.74 444.35,31.83 444.64,30.91M446.73,23.60 446.73,33.20M450.60,23.60 450.01,24.06 449.41,24.97 449.11,25.89 448.81,27.26 448.81,29.54 449.11,30.91 449.41,31.83 450.01,32.74 450.60,33.20 451.79,33.20 452.39,32.74 452.98,31.83 453.28,30.91 453.58,29.54 453.58,27.26 453.28,25.89 452.98,24.97 452.39,24.06 451.79,23.60 450.60,23.60M455.66,23.60 455.66,33.20M455.66,23.60 459.83,33.20M459.83,23.60 459.83,33.20M464.30,21.77 464.30,36.40M462.22,21.77 464.30,21.77M462.22,36.40 464.30,36.40M250.20,240.00 250.20,248.70M250.20,240.00 253.80,240.00M250.20,244.14 253.25,244.14M250.20,248.70 253.80,248.70M262.50,240.00 262.50,248.70M266.66,240.00 266.66,248.70M262.50,244.14 266.66,244.14M270.53,240.00 269.94,240.41 269.34,241.24 269.04,242.07 268.75,243.31 268.75,245.39 269.04,246.63 269.34,247.46 269.94,248.29 270.53,248.70 271.72,248.70 272.32,248.29 272.91,247.46 273.21,246.63 273.51,245.39 273.51,243.31 273.21,242.07 272.91,241.24 272.32,240.41 271.72,240.00 270.53,240.00M279.45,241.24 278.86,240.41 277.97,240.00 276.78,240.00 275.88,240.41 275.29,241.24 275.29,242.07 275.59,242.90 275.88,243.31 276.48,243.73 278.26,244.56 278.86,244.97 279.16,245.39 279.45,246.21 279.45,247.46 278.86,248.29 277.97,248.70 276.78,248.70 275.88,248.29 275.29,247.46M281.54,240.00 281.54,248.70M281.54,240.00 284.21,240.00 285.11,240.41 285.40,240.83 285.70,241.66 285.70,242.90 285.40,243.73 285.11,244.14 284.21,244.56 281.54,244.56M294.20,240.00 295.67,248.70M297.15,240.00 295.67,248.70M297.15,240.00 298.62,248.70M300.10,240.00 298.62,248.70M303.34,240.00 300.98,248.70M303.34,240.00 305.70,248.70M301.87,245.80 304.82,245.80M313.10,240.00 313.10,248.70M313.10,240.00 317.42,248.70M317.42,240.00 317.42,248.70M319.89,240.00 319.89,248.70M321.44,240.00 323.91,248.70M326.38,240.00 323.91,248.70M327.62,240.00 327.62,248.70M327.62,240.00 331.63,240.00M327.62,244.14 331.01,244.14M327.62,248.70 331.63,248.70M333.79,240.00 333.79,248.70M333.79,248.70 337.50,248.70M345.60,240.00 345.60,248.70M348.00,240.00 348.00,248.70M348.00,240.00 352.20,248.70M352.20,240.00 352.20,248.70M354.30,240.00 354.30,248.70M354.30,240.00 358.20,240.00M354.30,244.14 357.60,244.14M359.70,240.00 359.70,248.70M359.70,240.00 363.60,240.00M359.70,244.14 363.00,244.14M359.70,248.70 363.60,248.70M365.70,240.00 365.70,248.70M365.70,240.00 368.40,240.00 369.30,240.41 369.60,240.83 369.90,241.66 369.90,242.49 369.60,243.31 369.30,243.73 368.40,244.14 365.70,244.14M367.80,244.14 369.90,248.70M372.00,240.00 372.00,248.70M375.90,240.00 375.30,240.41 374.70,241.24 374.40,242.07 374.10,243.31 374.10,245.39 374.40,246.63 374.70,247.46 375.30,248.29 375.90,248.70 377.10,248.70 377.70,248.29 378.30,247.46 378.60,246.63 378.90,245.39 378.90,243.31 378.60,242.07 378.30,241.24 377.70,240.41 377.10,240.00 375.90,240.00M381.00,240.00 381.00,248.70M381.00,240.00 383.70,240.00 384.60,240.41 384.90,240.83 385.20,241.66 385.20,242.49 384.90,243.31 384.60,243.73 383.70,244.14 381.00,244.14M383.10,244.14 385.20,248.70M394.30,238.34 394.30,251.60M394.30,238.34 396.35,238.34M394.30,251.60 396.35,251.60M400.15,240.00 397.81,248.70M400.15,240.00 402.49,248.70M398.69,245.80 401.61,245.80M408.05,242.07 407.76,241.24 407.17,240.41 406.59,240.00 405.42,240.00 404.83,240.41 404.25,241.24 403.95,242.07 403.66,243.31 403.66,245.39 403.95,246.63 404.25,247.46 404.83,248.29 405.42,248.70 406.59,248.70 407.17,248.29 407.76,247.46 408.05,246.63M409.80,240.00 409.80,248.70M409.80,240.00 413.61,240.00M409.80,244.14 413.02,244.14M409.80,248.70 413.61,248.70M415.66,240.00 415.66,248.70M415.66,248.70 419.17,248.70M420.34,240.00 420.34,248.70M420.34,240.00 424.14,240.00M420.34,244.14 423.55,244.14M420.34,248.70 424.14,248.70M426.19,240.00 426.19,248.70M426.19,240.00 428.82,240.00 429.70,240.41 429.99,240.83 430.28,241.66 430.28,242.49 429.99,243.31 429.70,243.73 428.82,244.14 426.19,244.14M428.24,244.14 430.28,248.70M433.79,240.00 431.45,248.70M433.79,240.00 436.13,248.70M432.33,245.80 435.26,245.80M441.69,242.07 441.40,241.24 440.81,240.41 440.23,240.00 439.06,240.00 438.47,240.41 437.89,241.24 437.60,242.07 437.30,243.31 437.30,245.39 437.60,246.63 437.89,247.46 438.47,248.29 439.06,248.70 440.23,248.70 440.81,248.29 441.40,247.46 441.69,246.63M443.74,240.00 443.74,248.70M447.54,240.00 446.96,240.41 446.37,241.24 446.08,242.07 445.79,243.31 445.79,245.39 446.08,246.63 446.37,247.46 446.96,248.29 447.54,248.70 448.71,248.70 449.30,248.29 449.88,247.46 450.18,246.63 450.47,245.39 450.47,243.31 450.18,242.07 449.88,241.24 449.30,240.41 448.71,240.00 447.54,240.00M452.52,240.00 452.52,248.70M452.52,240.00 456.61,248.70M456.61,240.00 456.61,248.70M461.00,238.34 461.00,251.60M458.95,238.34 461.00,238.34M458.95,251.60 461.00,251.60M532.02,58.55 531.72,57.73 531.11,56.91 530.51,56.50 529.31,56.50 528.70,56.91 528.10,57.73 527.80,58.55 527.50,59.78 527.50,61.82 527.80,63.05 528.10,63.87 528.70,64.69 529.31,65.10 530.51,65.10 531.11,64.69 531.72,63.87 532.02,63.05M533.52,56.50 535.03,65.10M536.54,56.50 535.03,65.10M536.54,56.50 538.04,65.10M539.55,56.50 538.04,65.10M541.36,56.50 541.36,65.10M545.57,56.50 545.57,65.10M541.36,60.60 545.57,60.60M551.30,56.50 548.29,56.50 547.98,60.19 548.29,59.78 549.19,59.37 550.09,59.37 551.00,59.78 551.60,60.60 551.90,61.82 551.90,62.64 551.60,63.87 551.00,64.69 550.09,65.10 549.19,65.10 548.29,64.69 547.98,64.28 547.68,63.46M571.10,56.50 566.90,65.10M566.90,56.50 571.10,56.50M566.90,65.10 571.10,65.10M529.28,70.60 528.69,71.03 528.09,71.90 527.80,72.77 527.50,74.07 527.50,76.23 527.80,77.53 528.09,78.40 528.69,79.27 529.28,79.70 530.46,79.70 531.06,79.27 531.65,78.40 531.95,77.53 532.24,76.23 532.24,74.07 531.95,72.77 531.65,71.90 531.06,71.03 530.46,70.60 529.28,70.60M538.47,72.77 538.17,71.90 537.58,71.03 536.98,70.60 535.80,70.60 535.21,71.03 534.61,71.90 534.32,72.77 534.02,74.07 534.02,76.23 534.32,77.53 534.61,78.40 535.21,79.27 535.80,79.70 536.98,79.70 537.58,79.27 538.17,78.40 538.47,77.53M541.73,70.60 541.73,79.70M539.65,70.60 543.80,70.60M552.18,72.77 552.18,72.33 552.46,71.47 552.74,71.03 553.30,70.60 554.41,70.60 554.97,71.03 555.25,71.47 555.53,72.33 555.53,73.20 555.25,74.07 554.69,75.37 551.90,79.70 555.81,79.70M557.77,72.77 557.77,72.33 558.05,71.47 558.33,71.03 558.89,70.60 560.00,70.60 560.56,71.03 560.84,71.47 561.12,72.33 561.12,73.20 560.84,74.07 560.28,75.37 557.49,79.70 561.40,79.70M572.35,68.87 571.74,69.73 571.12,71.03 570.51,72.77 570.20,74.93 570.20,76.67 570.51,78.83 571.12,80.57 571.74,81.87 572.35,82.73M574.51,72.77 574.51,72.33 574.82,71.47 575.12,71.03 575.74,70.60 576.97,70.60 577.59,71.03 577.89,71.47 578.20,72.33 578.20,73.20 577.89,74.07 577.28,75.37 574.20,79.70 578.51,79.70M584.36,73.63 584.05,74.93 583.43,75.80 582.51,76.23 582.20,76.23 581.28,75.80 580.66,74.93 580.36,73.63 580.36,73.20 580.66,71.90 581.28,71.03 582.20,70.60 582.51,70.60 583.43,71.03 584.05,71.90 584.36,73.63 584.36,75.80 584.05,77.97 583.43,79.27 582.51,79.70 581.90,79.70 580.97,79.27 580.66,78.40M590.21,70.60 587.13,70.60 586.82,74.50 587.13,74.07 588.05,73.63 588.97,73.63 589.90,74.07 590.51,74.93 590.82,76.23 590.82,77.10 590.51,78.40 589.90,79.27 588.97,79.70 588.05,79.70 587.13,79.27 586.82,78.83 586.51,77.97M592.67,68.87 593.28,69.73 593.90,71.03 594.51,72.77 594.82,74.93 594.82,76.67 594.51,78.83 593.90,80.57 593.28,81.87 592.67,82.73M597.90,79.27 597.59,79.70 597.28,79.27 597.59,78.83 597.90,79.27 597.90,80.13 597.59,81.00 597.28,81.43M606.79,72.77 606.79,72.33 607.09,71.47 607.38,71.03 607.97,70.60 609.15,70.60 609.74,71.03 610.04,71.47 610.33,72.33 610.33,73.20 610.04,74.07 609.45,75.37 606.50,79.70 610.62,79.70M614.16,70.60 613.28,71.03 612.69,72.33 612.39,74.50 612.39,75.80 612.69,77.97 613.28,79.27 614.16,79.70 614.75,79.70 615.63,79.27 616.22,77.97 616.52,75.80 616.52,74.50 616.22,72.33 615.63,71.03 614.75,70.60 614.16,70.60M618.58,72.77 618.58,72.33 618.87,71.47 619.17,71.03 619.76,70.60 620.94,70.60 621.52,71.03 621.82,71.47 622.11,72.33 622.11,73.20 621.82,74.07 621.23,75.37 618.28,79.70 622.41,79.70M627.71,70.60 624.76,70.60 624.47,74.50 624.76,74.07 625.65,73.63 626.53,73.63 627.42,74.07 628.01,74.93 628.30,76.23 628.30,77.10 628.01,78.40 627.42,79.27 626.53,79.70 625.65,79.70 624.76,79.27 624.47,78.83 624.18,77.97M529.29,84.80 528.40,85.23 527.80,86.53 527.50,88.70 527.50,90.00 527.80,92.17 528.40,93.47 529.29,93.90 529.89,93.90 530.78,93.47 531.38,92.17 531.68,90.00 531.68,88.70 531.38,86.53 530.78,85.23 529.89,84.80 529.29,84.80M534.07,84.80 537.35,84.80 535.56,88.27 536.46,88.27 537.05,88.70 537.35,89.13 537.65,90.43 537.65,91.30 537.35,92.60 536.75,93.47 535.86,93.90 534.96,93.90 534.07,93.47 533.77,93.03 533.47,92.17M540.04,87.83 539.74,88.27 540.04,88.70 540.34,88.27 540.04,87.83M540.04,93.03 539.74,93.47 540.04,93.90 540.34,93.47 540.04,93.03M546.01,84.80 543.02,84.80 542.73,88.70 543.02,88.27 543.92,87.83 544.81,87.83 545.71,88.27 546.31,89.13 546.61,90.43 546.61,91.30 546.31,92.60 545.71,93.47 544.81,93.90 543.92,93.90 543.02,93.47 542.73,93.03 542.43,92.17M551.98,84.80 548.99,84.80 548.70,88.70 548.99,88.27 549.89,87.83 550.79,87.83 551.68,88.27 552.28,89.13 552.58,90.43 552.58,91.30 552.28,92.60 551.68,93.47 550.79,93.90 549.89,93.90 548.99,93.47 548.70,93.03 548.40,92.17M554.96,87.83 554.67,88.27 554.96,88.70 555.26,88.27 554.96,87.83M554.96,93.03 554.67,93.47 554.96,93.90 555.26,93.47 554.96,93.03M559.14,84.80 558.25,85.23 557.65,86.53 557.35,88.70 557.35,90.00 557.65,92.17 558.25,93.47 559.14,93.90 559.74,93.90 560.64,93.47 561.23,92.17 561.53,90.00 561.53,88.70 561.23,86.53 560.64,85.23 559.74,84.80 559.14,84.80M565.11,84.80 564.22,85.23 563.62,86.53 563.32,88.70 563.32,90.00 563.62,92.17 564.22,93.47 565.11,93.90 565.71,93.90 566.61,93.47 567.20,92.17 567.50,90.00 567.50,88.70 567.20,86.53 566.61,85.23 565.71,84.80 565.11,84.80M569.89,93.03 569.59,93.47 569.89,93.90 570.19,93.47 569.89,93.03M575.86,84.80 572.88,84.80 572.58,88.70 572.88,88.27 573.77,87.83 574.67,87.83 575.56,88.27 576.16,89.13 576.46,90.43 576.46,91.30 576.16,92.60 575.56,93.47 574.67,93.90 573.77,93.90 572.88,93.47 572.58,93.03 572.28,92.17M582.13,87.83 581.83,89.13 581.24,90.00 580.34,90.43 580.04,90.43 579.15,90.00 578.55,89.13 578.25,87.83 578.25,87.40 578.55,86.10 579.15,85.23 580.04,84.80 580.34,84.80 581.24,85.23 581.83,86.10 582.13,87.83 582.13,90.00 581.83,92.17 581.24,93.47 580.34,93.90 579.74,93.90 578.85,93.47 578.55,92.60M587.80,84.80 584.82,84.80 584.52,88.70 584.82,88.27 585.71,87.83 586.61,87.83 587.50,88.27 588.10,89.13 588.40,90.43 588.40,91.30 588.10,92.60 587.50,93.47 586.61,93.90 585.71,93.90 584.82,93.47 584.52,93.03 584.22,92.17M532.38,274.75 532.05,273.93 531.40,273.11 530.75,272.70 529.45,272.70 528.80,273.11 528.15,273.93 527.83,274.75 527.50,275.98 527.50,278.02 527.83,279.25 528.15,280.07 528.80,280.89 529.45,281.30 530.75,281.30 531.40,280.89 532.05,280.07 532.38,279.25M534.01,272.70 535.63,281.30M537.26,272.70 535.63,281.30M537.26,272.70 538.89,281.30M540.51,272.70 538.89,281.30M542.47,272.70 542.47,281.30M547.02,272.70 547.02,281.30M542.47,276.80 547.02,276.80M550.27,274.34 550.92,273.93 551.90,272.70 551.90,281.30M571.10,272.70 566.90,281.30M566.90,272.70 571.10,272.70M566.90,281.30 571.10,281.30M529.28,286.80 528.69,287.23 528.09,288.10 527.80,288.97 527.50,290.27 527.50,292.43 527.80,293.73 528.09,294.60 528.69,295.47 529.28,295.90 530.46,295.90 531.06,295.47 531.65,294.60 531.95,293.73 532.24,292.43 532.24,290.27 531.95,288.97 531.65,288.10 531.06,287.23 530.46,286.80 529.28,286.80M538.47,288.97 538.17,288.10 537.58,287.23 536.98,286.80 535.80,286.80 535.21,287.23 534.61,288.10 534.32,288.97 534.02,290.27 534.02,292.43 534.32,293.73 534.61,294.60 535.21,295.47 535.80,295.90 536.98,295.90 537.58,295.47 538.17,294.60 538.47,293.73M541.73,286.80 541.73,295.90M539.65,286.80 543.80,286.80M552.18,288.97 552.18,288.53 552.46,287.67 552.74,287.23 553.30,286.80 554.41,286.80 554.97,287.23 555.25,287.67 555.53,288.53 555.53,289.40 555.25,290.27 554.69,291.57 551.90,295.90 555.81,295.90M557.77,288.97 557.77,288.53 558.05,287.67 558.33,287.23 558.89,286.80 560.00,286.80 560.56,287.23 560.84,287.67 561.12,288.53 561.12,289.40 560.84,290.27 560.28,291.57 557.49,295.90 561.40,295.90M572.35,285.07 571.74,285.93 571.12,287.23 570.51,288.97 570.20,291.13 570.20,292.87 570.51,295.03 571.12,296.77 571.74,298.07 572.35,298.93M574.51,288.97 574.51,288.53 574.82,287.67 575.12,287.23 575.74,286.80 576.97,286.80 577.59,287.23 577.89,287.67 578.20,288.53 578.20,289.40 577.89,290.27 577.28,291.57 574.20,295.90 578.51,295.90M584.36,289.83 584.05,291.13 583.43,292.00 582.51,292.43 582.20,292.43 581.28,292.00 580.66,291.13 580.36,289.83 580.36,289.40 580.66,288.10 581.28,287.23 582.20,286.80 582.51,286.80 583.43,287.23 584.05,288.10 584.36,289.83 584.36,292.00 584.05,294.17 583.43,295.47 582.51,295.90 581.90,295.90 580.97,295.47 580.66,294.60M590.21,286.80 587.13,286.80 586.82,290.70 587.13,290.27 588.05,289.83 588.97,289.83 589.90,290.27 590.51,291.13 590.82,292.43 590.82,293.30 590.51,294.60 589.90,295.47 588.97,295.90 588.05,295.90 587.13,295.47 586.82,295.03 586.51,294.17M592.67,285.07 593.28,285.93 593.90,287.23 594.51,288.97 594.82,291.13 594.82,292.87 594.51,295.03 593.90,296.77 593.28,298.07 592.67,298.93M597.90,295.47 597.59,295.90 597.28,295.47 597.59,295.03 597.90,295.47 597.90,296.33 597.59,297.20 597.28,297.63M606.79,288.97 606.79,288.53 607.09,287.67 607.38,287.23 607.97,286.80 609.15,286.80 609.74,287.23 610.04,287.67 610.33,288.53 610.33,289.40 610.04,290.27 609.45,291.57 606.50,295.90 610.62,295.90M614.16,286.80 613.28,287.23 612.69,288.53 612.39,290.70 612.39,292.00 612.69,294.17 613.28,295.47 614.16,295.90 614.75,295.90 615.63,295.47 616.22,294.17 616.52,292.00 616.52,290.70 616.22,288.53 615.63,287.23 614.75,286.80 614.16,286.80M618.58,288.97 618.58,288.53 618.87,287.67 619.17,287.23 619.76,286.80 620.94,286.80 621.52,287.23 621.82,287.67 622.11,288.53 622.11,289.40 621.82,290.27 621.23,291.57 618.28,295.90 622.41,295.90M627.71,286.80 624.76,286.80 624.47,290.70 624.76,290.27 625.65,289.83 626.53,289.83 627.42,290.27 628.01,291.13 628.30,292.43 628.30,293.30 628.01,294.60 627.42,295.47 626.53,295.90 625.65,295.90 624.76,295.47 624.47,295.03 624.18,294.17M529.29,301.00 528.40,301.43 527.80,302.73 527.50,304.90 527.50,306.20 527.80,308.37 528.40,309.67 529.29,310.10 529.89,310.10 530.78,309.67 531.38,308.37 531.68,306.20 531.68,304.90 531.38,302.73 530.78,301.43 529.89,301.00 529.29,301.00M534.07,301.00 537.35,301.00 535.56,304.47 536.46,304.47 537.05,304.90 537.35,305.33 537.65,306.63 537.65,307.50 537.35,308.80 536.75,309.67 535.86,310.10 534.96,310.10 534.07,309.67 533.77,309.23 533.47,308.37M540.04,304.03 539.74,304.47 540.04,304.90 540.34,304.47 540.04,304.03M540.04,309.23 539.74,309.67 540.04,310.10 540.34,309.67 540.04,309.23M546.01,301.00 543.02,301.00 542.73,304.90 543.02,304.47 543.92,304.03 544.81,304.03 545.71,304.47 546.31,305.33 546.61,306.63 546.61,307.50 546.31,308.80 545.71,309.67 544.81,310.10 543.92,310.10 543.02,309.67 542.73,309.23 542.43,308.37M551.98,301.00 548.99,301.00 548.70,304.90 548.99,304.47 549.89,304.03 550.79,304.03 551.68,304.47 552.28,305.33 552.58,306.63 552.58,307.50 552.28,308.80 551.68,309.67 550.79,310.10 549.89,310.10 548.99,309.67 548.70,309.23 548.40,308.37M554.96,304.03 554.67,304.47 554.96,304.90 555.26,304.47 554.96,304.03M554.96,309.23 554.67,309.67 554.96,310.10 555.26,309.67 554.96,309.23M559.14,301.00 558.25,301.43 557.65,302.73 557.35,304.90 557.35,306.20 557.65,308.37 558.25,309.67 559.14,310.10 559.74,310.10 560.64,309.67 561.23,308.37 561.53,306.20 561.53,304.90 561.23,302.73 560.64,301.43 559.74,301.00 559.14,301.00M565.11,301.00 564.22,301.43 563.62,302.73 563.32,304.90 563.32,306.20 563.62,308.37 564.22,309.67 565.11,310.10 565.71,310.10 566.61,309.67 567.20,308.37 567.50,306.20 567.50,304.90 567.20,302.73 566.61,301.43 565.71,301.00 565.11,301.00M569.89,309.23 569.59,309.67 569.89,310.10 570.19,309.67 569.89,309.23M572.58,303.17 572.58,302.73 572.88,301.87 573.17,301.43 573.77,301.00 574.97,301.00 575.56,301.43 575.86,301.87 576.16,302.73 576.16,303.60 575.86,304.47 575.26,305.77 572.28,310.10 576.46,310.10M581.24,301.00 578.25,307.07 582.73,307.07M581.24,301.00 581.24,310.10M587.80,301.00 584.82,301.00 584.52,304.90 584.82,304.47 585.71,304.03 586.61,304.03 587.50,304.47 588.10,305.33 588.40,306.63 588.40,307.50 588.10,308.80 587.50,309.67 586.61,310.10 585.71,310.10 584.82,309.67 584.52,309.23 584.22,308.37M56.49,51.79 56.49,51.35 56.78,50.48 57.06,50.04 57.64,49.60 58.79,49.60 59.37,50.04 59.66,50.48 59.95,51.35 59.95,52.23 59.66,53.10 59.08,54.42 56.20,58.80 60.24,58.80M63.69,49.60 62.83,50.04 62.25,51.35 61.96,53.54 61.96,54.86 62.25,57.05 62.83,58.36 63.69,58.80 64.27,58.80 65.14,58.36 65.71,57.05 66.00,54.86 66.00,53.54 65.71,51.35 65.14,50.04 64.27,49.60 63.69,49.60M63.73,111.50 62.76,111.91 62.12,113.16 61.80,115.23 61.80,116.47 62.12,118.54 62.76,119.79 63.73,120.20 64.37,120.20 65.34,119.79 65.98,118.54 66.30,116.47 66.30,115.23 65.98,113.16 65.34,111.91 64.37,111.50 63.73,111.50M48.40,178.27 53.86,178.27M56.29,175.14 56.29,174.69 56.59,173.80 56.89,173.35 57.50,172.90 58.72,172.90 59.32,173.35 59.63,173.80 59.93,174.69 59.93,175.59 59.63,176.48 59.02,177.82 55.98,182.30 60.23,182.30M63.87,172.90 62.96,173.35 62.36,174.69 62.05,176.93 62.05,178.27 62.36,180.51 62.96,181.85 63.87,182.30 64.48,182.30 65.39,181.85 66.00,180.51 66.30,178.27 66.30,176.93 66.00,174.69 65.39,173.35 64.48,172.90 63.87,172.90M56.70,258.93 57.33,258.50 58.26,257.20 58.26,266.30M63.90,257.20 62.96,257.63 62.33,258.93 62.02,261.10 62.02,262.40 62.33,264.57 62.96,265.87 63.90,266.30 64.52,266.30 65.46,265.87 66.09,264.57 66.40,262.40 66.40,261.10 66.09,258.93 65.46,257.63 64.52,257.20 63.90,257.20M65.77,296.40 62.63,296.40 62.31,300.04 62.63,299.64 63.57,299.23 64.51,299.23 65.46,299.64 66.09,300.45 66.40,301.66 66.40,302.47 66.09,303.69 65.46,304.50 64.51,304.90 63.57,304.90 62.63,304.50 62.31,304.09 62.00,303.28M63.87,334.70 63.04,335.12 62.48,336.38 62.20,338.47 62.20,339.73 62.48,341.82 63.04,343.08 63.87,343.50 64.43,343.50 65.26,343.08 65.82,341.82 66.10,339.73 66.10,338.47 65.82,336.38 65.26,335.12 64.43,334.70 63.87,334.70M55.20,378.93 60.23,378.93M65.54,373.90 62.75,373.90 62.47,377.67 62.75,377.25 63.58,376.83 64.42,376.83 65.26,377.25 65.82,378.09 66.10,379.35 66.10,380.19 65.82,381.44 65.26,382.28 64.42,382.70 63.58,382.70 62.75,382.28 62.47,381.86 62.19,381.02M48.20,417.43 53.66,417.43M56.69,414.08 57.30,413.66 58.21,412.40 58.21,421.20M63.67,412.40 62.76,412.82 62.16,414.08 61.85,416.17 61.85,417.43 62.16,419.52 62.76,420.78 63.67,421.20 64.28,421.20 65.19,420.78 65.80,419.52 66.10,417.43 66.10,416.17 65.80,414.08 65.19,412.82 64.28,412.40 63.67,412.40M48.20,456.63 53.66,456.63M56.69,453.28 57.30,452.86 58.21,451.60 58.21,460.40M65.49,451.60 62.46,451.60 62.16,455.37 62.46,454.95 63.37,454.53 64.28,454.53 65.19,454.95 65.80,455.79 66.10,457.05 66.10,457.89 65.80,459.14 65.19,459.98 64.28,460.40 63.37,460.40 62.46,459.98 62.16,459.56 61.85,458.72M61.16,205.30 60.28,205.73 59.69,207.01 59.40,209.16 59.40,210.44 59.69,212.59 60.28,213.87 61.16,214.30 61.74,214.30 62.62,213.87 63.21,212.59 63.50,210.44 63.50,209.16 63.21,207.01 62.62,205.73 61.74,205.30 61.16,205.30M173.04,205.30 170.01,205.30 169.70,209.16 170.01,208.73 170.91,208.30 171.82,208.30 172.73,208.73 173.34,209.59 173.64,210.87 173.64,211.73 173.34,213.01 172.73,213.87 171.82,214.30 170.91,214.30 170.01,213.87 169.70,213.44 169.40,212.59M177.28,205.30 176.37,205.73 175.76,207.01 175.46,209.16 175.46,210.44 175.76,212.59 176.37,213.87 177.28,214.30 177.88,214.30 178.79,213.87 179.40,212.59 179.70,210.44 179.70,209.16 179.40,207.01 178.79,205.73 177.88,205.30 177.28,205.30M280.70,207.01 281.31,206.59 282.23,205.30 282.23,214.30M287.74,205.30 286.82,205.73 286.21,207.01 285.90,209.16 285.90,210.44 286.21,212.59 286.82,213.87 287.74,214.30 288.35,214.30 289.26,213.87 289.88,212.59 290.18,210.44 290.18,209.16 289.88,207.01 289.26,205.73 288.35,205.30 287.74,205.30M293.85,205.30 292.94,205.73 292.32,207.01 292.02,209.16 292.02,210.44 292.32,212.59 292.94,213.87 293.85,214.30 294.46,214.30 295.38,213.87 295.99,212.59 296.30,210.44 296.30,209.16 295.99,207.01 295.38,205.73 294.46,205.30 293.85,205.30M390.50,207.01 391.14,206.59 392.11,205.30 392.11,214.30M399.83,205.30 396.61,205.30 396.29,209.16 396.61,208.73 397.57,208.30 398.54,208.30 399.50,208.73 400.15,209.59 400.47,210.87 400.47,211.73 400.15,213.01 399.50,213.87 398.54,214.30 397.57,214.30 396.61,213.87 396.29,213.44 395.97,212.59M404.33,205.30 403.36,205.73 402.72,207.01 402.40,209.16 402.40,210.44 402.72,212.59 403.36,213.87 404.33,214.30 404.97,214.30 405.94,213.87 406.58,212.59 406.90,210.44 406.90,209.16 406.58,207.01 405.94,205.73 404.97,205.30 404.33,205.30M499.61,207.44 499.61,207.01 499.92,206.16 500.23,205.73 500.86,205.30 502.10,205.30 502.72,205.73 503.03,206.16 503.34,207.01 503.34,207.87 503.03,208.73 502.41,210.01 499.30,214.30 503.66,214.30M507.39,205.30 506.46,205.73 505.83,207.01 505.52,209.16 505.52,210.44 505.83,212.59 506.46,213.87 507.39,214.30 508.01,214.30 508.94,213.87 509.57,212.59 509.88,210.44 509.88,209.16 509.57,207.01 508.94,205.73 508.01,205.30 507.39,205.30M513.61,205.30 512.68,205.73 512.06,207.01 511.74,209.16 511.74,210.44 512.06,212.59 512.68,213.87 513.61,214.30 514.23,214.30 515.17,213.87 515.79,212.59 516.10,210.44 516.10,209.16 515.79,207.01 515.17,205.73 514.23,205.30 513.61,205.30M609.81,207.44 609.81,207.01 610.13,206.16 610.44,205.73 611.07,205.30 612.33,205.30 612.96,205.73 613.28,206.16 613.59,207.01 613.59,207.87 613.28,208.73 612.65,210.01 609.50,214.30 613.91,214.30M619.57,205.30 616.43,205.30 616.11,209.16 616.43,208.73 617.37,208.30 618.31,208.30 619.26,208.73 619.89,209.59 620.20,210.87 620.20,211.73 619.89,213.01 619.26,213.87 618.31,214.30 617.37,214.30 616.43,213.87 616.11,213.44 615.80,212.59M623.98,205.30 623.04,205.73 622.41,207.01 622.09,209.16 622.09,210.44 622.41,212.59 623.04,213.87 623.98,214.30 624.61,214.30 625.56,213.87 626.19,212.59 626.50,210.44 626.50,209.16 626.19,207.01 625.56,205.73 624.61,205.30 623.98,205.30M60.99,475.10 60.04,475.54 59.41,476.85 59.10,479.04 59.10,480.36 59.41,482.55 60.04,483.86 60.99,484.30 61.61,484.30 62.56,483.86 63.19,482.55 63.50,480.36 63.50,479.04 63.19,476.85 62.56,475.54 61.61,475.10 60.99,475.10M169.94,475.10 166.82,475.10 166.51,479.04 166.82,478.60 167.76,478.17 168.69,478.17 169.63,478.60 170.25,479.48 170.56,480.80 170.56,481.67 170.25,482.99 169.63,483.86 168.69,484.30 167.76,484.30 166.82,483.86 166.51,483.42 166.20,482.55M174.31,475.10 173.37,475.54 172.75,476.85 172.44,479.04 172.44,480.36 172.75,482.55 173.37,483.86 174.31,484.30 174.93,484.30 175.86,483.86 176.49,482.55 176.80,480.36 176.80,479.04 176.49,476.85 175.86,475.54 174.93,475.10 174.31,475.10M274.70,476.85 275.32,476.41 276.24,475.10 276.24,484.30M281.78,475.10 280.86,475.54 280.24,476.85 279.93,479.04 279.93,480.36 280.24,482.55 280.86,483.86 281.78,484.30 282.40,484.30 283.32,483.86 283.94,482.55 284.24,480.36 284.24,479.04 283.94,476.85 283.32,475.54 282.40,475.10 281.78,475.10M287.94,475.10 287.01,475.54 286.40,476.85 286.09,479.04 286.09,480.36 286.40,482.55 287.01,483.86 287.94,484.30 288.55,484.30 289.48,483.86 290.09,482.55 290.40,480.36 290.40,479.04 290.09,476.85 289.48,475.54 288.55,475.10 287.94,475.10M381.60,476.85 382.20,476.41 383.11,475.10 383.11,484.30M390.36,475.10 387.34,475.10 387.04,479.04 387.34,478.60 388.24,478.17 389.15,478.17 390.05,478.60 390.66,479.48 390.96,480.80 390.96,481.67 390.66,482.99 390.05,483.86 389.15,484.30 388.24,484.30 387.34,483.86 387.04,483.42 386.73,482.55M394.58,475.10 393.68,475.54 393.07,476.85 392.77,479.04 392.77,480.36 393.07,482.55 393.68,483.86 394.58,484.30 395.19,484.30 396.09,483.86 396.70,482.55 397.00,480.36 397.00,479.04 396.70,476.85 396.09,475.54 395.19,475.10 394.58,475.10M487.71,477.29 487.71,476.85 488.02,475.98 488.33,475.54 488.95,475.10 490.18,475.10 490.80,475.54 491.11,475.98 491.42,476.85 491.42,477.73 491.11,478.60 490.49,479.92 487.40,484.30 491.73,484.30M495.44,475.10 494.51,475.54 493.89,476.85 493.59,479.04 493.59,480.36 493.89,482.55 494.51,483.86 495.44,484.30 496.06,484.30 496.99,483.86 497.61,482.55 497.91,480.36 497.91,479.04 497.61,476.85 496.99,475.54 496.06,475.10 495.44,475.10M501.63,475.10 500.70,475.54 500.08,476.85 499.77,479.04 499.77,480.36 500.08,482.55 500.70,483.86 501.63,484.30 502.24,484.30 503.17,483.86 503.79,482.55 504.10,480.36 504.10,479.04 503.79,476.85 503.17,475.54 502.24,475.10 501.63,475.10M594.81,477.29 594.81,476.85 595.12,475.98 595.43,475.54 596.06,475.10 597.30,475.10 597.92,475.54 598.23,475.98 598.54,476.85 598.54,477.73 598.23,478.60 597.61,479.92 594.50,484.30 598.86,484.30M604.46,475.10 601.34,475.10 601.03,479.04 601.34,478.60 602.28,478.17 603.21,478.17 604.14,478.60 604.77,479.48 605.08,480.80 605.08,481.67 604.77,482.99 604.14,483.86 603.21,484.30 602.28,484.30 601.34,483.86 601.03,483.42 600.72,482.55M608.81,475.10 607.88,475.54 607.26,476.85 606.94,479.04 606.94,480.36 607.26,482.55 607.88,483.86 608.81,484.30 609.43,484.30 610.37,483.86 610.99,482.55 611.30,480.36 611.30,479.04 610.99,476.85 610.37,475.54 609.43,475.10 608.81,475.10M37.40,152.31 46.00,154.70M37.40,152.31 46.00,149.92M43.13,153.80 43.13,150.82M40.27,148.43 46.00,148.43M41.90,148.43 40.68,147.54 40.27,146.94 40.27,146.04 40.68,145.45 41.90,145.15 46.00,145.15M41.90,145.15 40.68,144.25 40.27,143.66 40.27,142.76 40.68,142.17 41.90,141.87 46.00,141.87M40.27,139.48 48.87,139.48M41.50,139.48 40.68,138.88 40.27,138.29 40.27,137.39 40.68,136.79 41.50,136.20 42.72,135.90 43.54,135.90 44.77,136.20 45.59,136.79 46.00,137.39 46.00,138.29 45.59,138.88 44.77,139.48M37.40,133.81 46.00,133.81M37.40,131.72 37.81,131.42 37.40,131.12 36.99,131.42 37.40,131.72M40.27,131.42 46.00,131.42M37.40,128.14 44.36,128.14 45.59,127.84 46.00,127.24 46.00,126.65M40.27,129.03 40.27,126.94M40.27,125.45 44.36,125.45 45.59,125.15 46.00,124.56 46.00,123.66 45.59,123.06 44.36,122.17M40.27,122.17 46.00,122.17M37.40,116.20 46.00,116.20M41.50,116.20 40.68,116.80 40.27,117.39 40.27,118.29 40.68,118.89 41.50,119.48 42.72,119.78 43.54,119.78 44.77,119.48 45.59,118.89 46.00,118.29 46.00,117.39 45.59,116.80 44.77,116.20M35.76,107.10 48.87,107.10M35.76,107.10 35.76,105.10M48.87,107.10 48.87,105.10M40.27,99.68 46.82,99.68 48.05,99.97 48.46,100.25 48.87,100.82 48.87,101.68 48.46,102.25M41.50,99.68 40.68,100.25 40.27,100.82 40.27,101.68 40.68,102.25 41.50,102.82 42.72,103.11 43.54,103.11 44.77,102.82 45.59,102.25 46.00,101.68 46.00,100.82 45.59,100.25 44.77,99.68M40.27,94.26 46.00,94.26M41.50,94.26 40.68,94.83 40.27,95.40 40.27,96.26 40.68,96.83 41.50,97.40 42.72,97.69 43.54,97.69 44.77,97.40 45.59,96.83 46.00,96.26 46.00,95.40 45.59,94.83 44.77,94.26M37.40,91.98 46.00,91.98M35.76,87.70 48.87,87.70M35.76,89.70 35.76,87.70M48.87,89.70 48.87,87.70M37.40,394.31 46.00,396.70M37.40,394.31 46.00,391.92M43.13,395.80 43.13,392.82M40.27,390.43 46.00,390.43M41.90,390.43 40.68,389.54 40.27,388.94 40.27,388.04 40.68,387.45 41.90,387.15 46.00,387.15M41.90,387.15 40.68,386.25 40.27,385.66 40.27,384.76 40.68,384.17 41.90,383.87 46.00,383.87M40.27,381.48 48.87,381.48M41.50,381.48 40.68,380.88 40.27,380.29 40.27,379.39 40.68,378.79 41.50,378.20 42.72,377.90 43.54,377.90 44.77,378.20 45.59,378.79 46.00,379.39 46.00,380.29 45.59,380.88 44.77,381.48M37.40,375.81 46.00,375.81M37.40,373.72 37.81,373.42 37.40,373.12 36.99,373.42 37.40,373.72M40.27,373.42 46.00,373.42M37.40,370.14 44.36,370.14 45.59,369.84 46.00,369.24 46.00,368.65M40.27,371.03 40.27,368.94M40.27,367.45 44.36,367.45 45.59,367.15 46.00,366.56 46.00,365.66 45.59,365.06 44.36,364.17M40.27,364.17 46.00,364.17M37.40,358.20 46.00,358.20M41.50,358.20 40.68,358.80 40.27,359.39 40.27,360.29 40.68,360.89 41.50,361.48 42.72,361.78 43.54,361.78 44.77,361.48 45.59,360.89 46.00,360.29 46.00,359.39 45.59,358.80 44.77,358.20M35.76,349.10 48.87,349.10M35.76,349.10 35.76,347.10M48.87,349.10 48.87,347.10M40.27,341.68 46.82,341.68 48.05,341.97 48.46,342.25 48.87,342.82 48.87,343.68 48.46,344.25M41.50,341.68 40.68,342.25 40.27,342.82 40.27,343.68 40.68,344.25 41.50,344.82 42.72,345.11 43.54,345.11 44.77,344.82 45.59,344.25 46.00,343.68 46.00,342.82 45.59,342.25 44.77,341.68M40.27,336.26 46.00,336.26M41.50,336.26 40.68,336.83 40.27,337.40 40.27,338.26 40.68,338.83 41.50,339.40 42.72,339.69 43.54,339.69 44.77,339.40 45.59,338.83 46.00,338.26 46.00,337.40 45.59,336.83 44.77,336.26M37.40,333.98 46.00,333.98M35.76,329.70 48.87,329.70M35.76,331.70 35.76,329.70M48.87,331.70 48.87,329.70"/>
</svg>
</body></html>
